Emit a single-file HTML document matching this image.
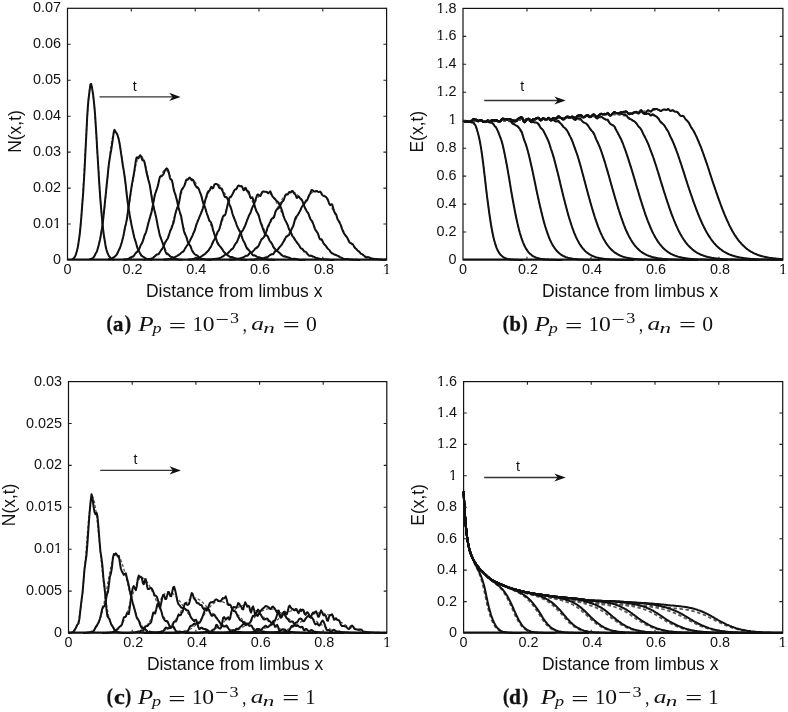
<!DOCTYPE html>
<html><head><meta charset="utf-8"><title>Figure</title>
<style>html,body{margin:0;padding:0;background:#fff;width:788px;height:712px;overflow:hidden}
svg{display:block}</style></head>
<body><svg width="788" height="712" viewBox="0 0 788 712">
<rect width="788" height="712" fill="#fff"/>
<g><polyline points="72,259.2 73.3,258.4 74.7,256.8 76,254.1 77.3,249.5 78.6,242.3 80,231.7 81.3,217.2 82.6,198.5 83.9,176.3 85.2,152 86.6,127.8 87.9,106.7 89.2,91.4 90.5,84.2 91.8,85.7 93.2,94.2 94.5,108.7 95.8,127.6 97.1,148.7 98.5,170.3 99.8,190.6 101.1,208.5 102.4,223.3 103.7,234.9 105.1,243.5 106.4,249.6 107.7,253.7 109,256.3 110.4,257.9 111.7,258.9 113,259.4 114.3,259.7" stroke="#5a5a5a" stroke-width="1.3" fill="none" stroke-dasharray="3 2"/>
<polyline points="89.3,259.4 90.6,259 92,258.3 93.3,257.3 94.6,255.7 95.9,253.5 97.3,250.2 98.6,245.8 99.9,240 101.2,232.6 102.6,223.5 103.9,212.9 105.2,200.8 106.5,187.8 107.9,174.4 109.2,161.5 110.5,150 111.8,140.6 113.2,134.1 114.5,131.1 115.8,131.4 117.1,133.9 118.5,138.3 119.8,144.5 121.1,152.1 122.4,160.9 123.8,170.4 125.1,180.3 126.4,190.3 127.8,200 129.1,209.2 130.4,217.6 131.7,225.3 133.1,232 134.4,237.8 135.7,242.6 137,246.6 138.4,249.9 139.7,252.5 141,254.5 142.3,256 143.7,257.2 145,258 146.3,258.6 147.6,259.1 149,259.4 150.3,259.6 151.6,259.7" stroke="#5a5a5a" stroke-width="1.3" fill="none" stroke-dasharray="3 2"/>
<polyline points="107.9,259.5 109.2,259.2 110.6,258.9 111.9,258.4 113.2,257.6 114.6,256.6 115.9,255.2 117.2,253.3 118.5,250.9 119.9,247.9 121.2,244.1 122.5,239.5 123.9,234 125.2,227.7 126.5,220.6 127.8,212.8 129.2,204.5 130.5,196 131.8,187.4 133.2,179.2 134.5,171.8 135.8,165.3 137.1,160.3 138.5,157 139.8,155.4 141.1,155.7 142.5,157.3 143.8,160.2 145.1,164.2 146.4,169.2 147.8,175.1 149.1,181.6 150.4,188.6 151.8,195.7 153.1,202.9 154.4,210 155.7,216.7 157.1,223 158.4,228.8 159.7,234 161.1,238.6 162.4,242.6 163.7,246.1 165,249 166.4,251.4 167.7,253.4 169,254.9 170.4,256.2 171.7,257.2 173,257.9 174.3,258.5 175.7,258.9 177,259.2 178.3,259.4 179.7,259.6 181,259.7 182.3,259.8" stroke="#5a5a5a" stroke-width="1.3" fill="none" stroke-dasharray="3 2"/>
<polyline points="123.2,259.6 124.6,259.4 125.9,259.2 127.2,258.9 128.6,258.5 129.9,258.1 131.2,257.4 132.6,256.6 133.9,255.7 135.2,254.4 136.5,252.9 137.9,251.1 139.2,248.9 140.5,246.4 141.9,243.4 143.2,240.1 144.5,236.2 145.9,232 147.2,227.3 148.5,222.3 149.9,217 151.2,211.5 152.5,205.8 153.9,200.2 155.2,194.6 156.5,189.3 157.9,184.4 159.2,180.1 160.5,176.4 161.9,173.5 163.2,171.4 164.5,170.3 165.9,170.1 167.2,171 168.5,172.8 169.8,175.4 171.2,178.9 172.5,183.1 173.8,187.9 175.2,193.1 176.5,198.6 177.8,204.3 179.2,210 180.5,215.6 181.8,221 183.2,226.2 184.5,230.9 185.8,235.3 187.2,239.2 188.5,242.7 189.8,245.8 191.2,248.4 192.5,250.7 193.8,252.6 195.2,254.2 196.5,255.4 197.8,256.5 199.2,257.3 200.5,258 201.8,258.5 203.1,258.9 204.5,259.2 205.8,259.4 207.1,259.5 208.5,259.7 209.8,259.8 211.1,259.8" stroke="#5a5a5a" stroke-width="1.3" fill="none" stroke-dasharray="3 2"/>
<polyline points="143.9,259.6 145.2,259.5 146.6,259.3 147.9,259.1 149.2,258.8 150.6,258.4 151.9,258 153.2,257.4 154.6,256.7 155.9,255.9 157.2,254.8 158.6,253.6 159.9,252.1 161.2,250.3 162.5,248.3 163.9,246 165.2,243.4 166.5,240.4 167.9,237.1 169.2,233.5 170.5,229.6 171.9,225.4 173.2,221 174.5,216.5 175.9,211.8 177.2,207.1 178.5,202.5 179.9,198 181.2,193.8 182.5,189.9 183.9,186.5 185.2,183.6 186.5,181.3 187.8,179.6 189.2,178.6 190.5,178.4 191.8,178.7 193.2,179.7 194.5,181.2 195.8,183.2 197.2,185.7 198.5,188.7 199.8,192 201.2,195.6 202.5,199.4 203.8,203.4 205.2,207.6 206.5,211.7 207.8,215.9 209.1,220 210.5,223.9 211.8,227.7 213.1,231.3 214.5,234.7 215.8,237.9 217.1,240.8 218.5,243.4 219.8,245.7 221.1,247.9 222.5,249.7 223.8,251.4 225.1,252.8 226.5,254 227.8,255.1 229.1,256 230.5,256.8 231.8,257.4 233.1,257.9 234.4,258.3 235.8,258.7 237.1,258.9 238.4,259.2 239.8,259.4 241.1,259.5 242.4,259.6 243.8,259.7 245.1,259.8 246.4,259.8" stroke="#5a5a5a" stroke-width="1.3" fill="none" stroke-dasharray="3 2"/>
<polyline points="163.4,259.6 164.7,259.5 166.1,259.4 167.4,259.2 168.7,259 170,258.8 171.4,258.5 172.7,258.1 174,257.6 175.4,257.1 176.7,256.4 178,255.6 179.3,254.7 180.7,253.6 182,252.4 183.3,250.9 184.6,249.3 186,247.5 187.3,245.4 188.6,243.1 190,240.6 191.3,237.9 192.6,234.9 193.9,231.7 195.3,228.4 196.6,224.8 197.9,221.2 199.2,217.5 200.6,213.7 201.9,209.9 203.2,206.2 204.6,202.6 205.9,199.1 207.2,195.9 208.5,193 209.9,190.4 211.2,188.2 212.5,186.5 213.9,185.2 215.2,184.4 216.5,184.1 217.8,184.3 219.2,185.1 220.5,186.3 221.8,187.9 223.1,190.1 224.5,192.6 225.8,195.4 227.1,198.6 228.5,201.9 229.8,205.5 231.1,209.2 232.4,212.9 233.8,216.7 235.1,220.4 236.4,224.1 237.8,227.6 239.1,231 240.4,234.2 241.7,237.2 243.1,240 244.4,242.5 245.7,244.9 247,247 248.4,248.9 249.7,250.5 251,252 252.4,253.3 253.7,254.4 255,255.4 256.3,256.2 257.7,256.9 259,257.5 260.3,258 261.7,258.4 263,258.7 264.3,259 265.6,259.2 267,259.3 268.3,259.5 269.6,259.6 270.9,259.7 272.3,259.7 273.6,259.8 274.9,259.8" stroke="#5a5a5a" stroke-width="1.3" fill="none" stroke-dasharray="3 2"/>
<polyline points="188.2,259.6 189.6,259.5 190.9,259.4 192.2,259.2 193.6,259 194.9,258.8 196.2,258.4 197.6,258.1 198.9,257.6 200.2,257 201.5,256.3 202.9,255.5 204.2,254.5 205.5,253.3 206.9,252 208.2,250.5 209.5,248.7 210.9,246.8 212.2,244.6 213.5,242.2 214.9,239.5 216.2,236.6 217.5,233.5 218.9,230.2 220.2,226.7 221.5,223.1 222.9,219.3 224.2,215.6 225.5,211.8 226.9,208 228.2,204.4 229.5,201 230.9,197.7 232.2,194.8 233.5,192.3 234.9,190.1 236.2,188.4 237.5,187.2 238.9,186.5 240.2,186.3 241.5,186.5 242.9,187.2 244.2,188.2 245.5,189.6 246.9,191.3 248.2,193.4 249.5,195.7 250.9,198.3 252.2,201.1 253.5,204.1 254.9,207.2 256.2,210.4 257.5,213.6 258.9,216.9 260.2,220.1 261.5,223.3 262.9,226.5 264.2,229.5 265.5,232.4 266.9,235.2 268.2,237.8 269.5,240.2 270.8,242.4 272.2,244.5 273.5,246.4 274.8,248.2 276.2,249.7 277.5,251.2 278.8,252.4 280.2,253.5 281.5,254.5 282.8,255.3 284.2,256.1 285.5,256.7 286.8,257.3 288.2,257.7 289.5,258.1 290.8,258.5 292.2,258.7 293.5,259 294.8,259.2 296.2,259.3 297.5,259.5 298.8,259.6 300.2,259.6 301.5,259.7 302.8,259.8 304.2,259.8 305.5,259.8" stroke="#5a5a5a" stroke-width="1.3" fill="none" stroke-dasharray="3 2"/>
<polyline points="207.6,259.7 209,259.6 210.3,259.5 211.6,259.3 213,259.2 214.3,259 215.6,258.7 217,258.5 218.3,258.1 219.6,257.7 221,257.2 222.3,256.6 223.6,256 225,255.2 226.3,254.3 227.6,253.3 229,252.1 230.3,250.8 231.6,249.3 233,247.6 234.3,245.8 235.6,243.8 237,241.6 238.3,239.3 239.6,236.8 241,234.1 242.3,231.3 243.6,228.3 244.9,225.3 246.3,222.2 247.6,219 248.9,215.9 250.3,212.7 251.6,209.7 252.9,206.8 254.3,204 255.6,201.4 256.9,199 258.3,197 259.6,195.2 260.9,193.7 262.3,192.7 263.6,192 264.9,191.7 266.3,191.7 267.6,192.2 268.9,192.9 270.3,193.9 271.6,195.3 272.9,196.9 274.3,198.8 275.6,200.9 276.9,203.2 278.3,205.7 279.6,208.3 280.9,211 282.3,213.8 283.6,216.7 284.9,219.6 286.3,222.4 287.6,225.3 288.9,228.1 290.3,230.7 291.6,233.3 292.9,235.8 294.3,238.2 295.6,240.4 296.9,242.5 298.3,244.4 299.6,246.2 300.9,247.8 302.3,249.3 303.6,250.7 304.9,251.9 306.3,253 307.6,254 308.9,254.8 310.3,255.6 311.6,256.3 312.9,256.8 314.3,257.3 315.6,257.8 316.9,258.1 318.3,258.5 319.6,258.7 320.9,258.9 322.3,259.1 323.6,259.3 324.9,259.4 326.3,259.5 327.6,259.6 328.9,259.7 330.3,259.7 331.6,259.8 332.9,259.8 334.2,259.8" stroke="#5a5a5a" stroke-width="1.3" fill="none" stroke-dasharray="3 2"/>
<polyline points="228.8,259.7 230.1,259.6 231.4,259.5 232.8,259.4 234.1,259.2 235.4,259.1 236.8,258.9 238.1,258.6 239.4,258.3 240.8,258 242.1,257.6 243.4,257.2 244.8,256.6 246.1,256 247.4,255.3 248.8,254.5 250.1,253.6 251.4,252.5 252.8,251.4 254.1,250.1 255.4,248.6 256.8,247 258.1,245.3 259.4,243.4 260.8,241.4 262.1,239.2 263.4,236.9 264.8,234.5 266.1,231.9 267.4,229.2 268.8,226.4 270.1,223.6 271.4,220.7 272.8,217.8 274.1,214.9 275.4,212.1 276.7,209.3 278.1,206.6 279.4,204 280.7,201.6 282.1,199.4 283.4,197.4 284.7,195.7 286.1,194.3 287.4,193.2 288.7,192.3 290.1,191.8 291.4,191.7 292.7,191.8 294.1,192.3 295.4,193.1 296.7,194.3 298.1,195.7 299.4,197.4 300.7,199.4 302.1,201.6 303.4,203.9 304.7,206.5 306.1,209.1 307.4,211.9 308.7,214.8 310.1,217.7 311.4,220.5 312.7,223.4 314.1,226.3 315.4,229 316.7,231.7 318.1,234.3 319.4,236.7 320.7,239 322.1,241.2 323.4,243.2 324.7,245.1 326.1,246.9 327.4,248.4 328.7,249.9 330,251.2 331.4,252.4 332.7,253.4 334,254.4 335.4,255.2 336.7,255.9 338,256.5 339.4,257.1 340.7,257.5 342,257.9 343.4,258.3 344.7,258.6 346,258.8 347.4,259 348.7,259.2 350,259.3 351.4,259.5 352.7,259.6 354,259.6 355.4,259.7 356.7,259.8 358,259.8 359.4,259.8" stroke="#5a5a5a" stroke-width="1.3" fill="none" stroke-dasharray="3 2"/>
<polyline points="250.4,259.7 251.8,259.6 253.1,259.5 254.4,259.4 255.8,259.3 257.1,259.1 258.4,258.9 259.7,258.7 261.1,258.5 262.4,258.2 263.7,257.8 265.1,257.4 266.4,257 267.7,256.4 269,255.8 270.4,255.1 271.7,254.3 273,253.4 274.4,252.5 275.7,251.3 277,250.1 278.3,248.8 279.7,247.3 281,245.7 282.3,243.9 283.7,242.1 285,240 286.3,237.9 287.6,235.6 289,233.2 290.3,230.7 291.6,228.2 293,225.5 294.3,222.8 295.6,220 297,217.3 298.3,214.5 299.6,211.8 300.9,209.1 302.3,206.5 303.6,204 304.9,201.7 306.3,199.5 307.6,197.6 308.9,195.8 310.2,194.3 311.6,193.1 312.9,192.1 314.2,191.4 315.6,191 316.9,190.9 318.2,191.2 319.5,191.7 320.9,192.4 322.2,193.5 323.5,194.8 324.9,196.4 326.2,198.2 327.5,200.1 328.8,202.3 330.2,204.6 331.5,207.1 332.8,209.7 334.2,212.3 335.5,215 336.8,217.7 338.1,220.4 339.5,223.1 340.8,225.8 342.1,228.4 343.5,231 344.8,233.4 346.1,235.7 347.4,238 348.8,240.1 350.1,242 351.4,243.9 352.8,245.6 354.1,247.2 355.4,248.7 356.8,250 358.1,251.2 359.4,252.3 360.7,253.3 362.1,254.2 363.4,255 364.7,255.7 366.1,256.3 367.4,256.8 368.7,257.3 370,257.7 371.4,258.1 372.7,258.4 374,258.6 375.4,258.9 376.7,259 378,259.2 379.3,259.3 380.7,259.5 382,259.5 383.3,259.6 384.7,259.7 386,259.7" stroke="#5a5a5a" stroke-width="1.3" fill="none" stroke-dasharray="3 2"/>
<polyline points="72,259.2 72.7,258.9 73.3,258.5 74,258 74.7,257.2 75.3,255.9 76,254.1 76.6,251.9 77.3,249.4 78,246.3 78.6,242.2 79.3,237.3 80,231.8 80.6,225.4 81.3,217.6 81.9,209.1 82.6,200.3 83.3,191 83.9,180.7 84.6,169.3 85.2,156.5 85.9,142.9 86.6,129.3 87.2,116.7 87.9,106.4 88.5,99.4 89.2,93.9 89.9,88.3 90.5,84.3 91.2,84 91.8,86.7 92.5,90.8 93.2,95.4 93.8,100.8 94.5,107.6 95.2,116.4 95.8,126.2 96.5,136.7 97.1,148 97.8,159.3 98.5,170.4 99.1,181.2 99.8,191.2 100.4,199.9 101.1,208.2 101.8,216.2 102.4,223.1 103.1,229.1 103.7,234.1 104.4,238.5 105.1,242.9 105.7,246.8 106.4,249.6 107.1,251.7 107.7,253.5 108.4,254.9 109,256 109.7,256.9 110.4,257.7 111,258.4 111.7,258.9 112.3,259.3 113,259.5 113.7,259.7 114.3,259.8" stroke="#111" stroke-width="2.0" fill="none" stroke-linejoin="round"/>
<polyline points="89.3,259.3 90,259.1 90.6,258.9 91.3,258.8 92,258.6 92.6,258.2 93.3,257.7 93.9,256.9 94.6,255.7 95.3,254.3 95.9,253.1 96.6,251.9 97.3,250.3 97.9,248 98.6,245.4 99.2,242.9 99.9,240 100.6,236.6 101.2,232.9 101.9,229 102.6,224.6 103.2,219.1 103.9,212.7 104.6,205.9 105.2,199.4 105.9,193.2 106.5,186.8 107.2,180.1 107.9,173.4 108.5,167.2 109.2,162 109.9,157.4 110.5,153.5 111.2,150.1 111.8,146.3 112.5,141.4 113.2,136.3 113.8,131.9 114.5,129.9 115.2,131 115.8,132.4 116.5,133.1 117.1,134.2 117.8,136 118.5,138.3 119.1,140.9 119.8,144.7 120.5,149.3 121.1,153.7 121.8,158.1 122.4,162.6 123.1,166.9 123.8,170.9 124.4,175 125.1,179.9 125.8,185.6 126.4,191.6 127.1,197.6 127.8,203.1 128.4,207.5 129.1,211.5 129.7,215.4 130.4,219.2 131.1,222.7 131.7,225.9 132.4,228.9 133.1,232 133.7,235.1 134.4,237.7 135,239.6 135.7,241.7 136.4,244.3 137,246.7 137.7,248.7 138.4,250.1 139,251.3 139.7,252.6 140.3,253.9 141,255 141.7,255.8 142.3,256.3 143,256.6 143.7,257 144.3,257.4 145,258 145.6,258.5 146.3,258.8 147,259 147.6,259.2 148.3,259.4 149,259.5 149.6,259.6 150.3,259.6 151,259.7 151.6,259.7 152.3,259.8" stroke="#111" stroke-width="2.0" fill="none" stroke-linejoin="round"/>
<polyline points="107.9,259.4 108.6,259.3 109.2,259.3 109.9,259.3 110.6,259.2 111.2,258.9 111.9,258.5 112.6,258 113.2,257.7 113.9,257.2 114.6,256.7 115.2,256.2 115.9,255.6 116.5,254.9 117.2,253.7 117.9,252.3 118.5,250.8 119.2,249.5 119.9,248 120.5,246.4 121.2,244.3 121.9,242 122.5,239.5 123.2,236.7 123.9,233.4 124.5,229.8 125.2,226.6 125.9,223.9 126.5,221.1 127.2,217.3 127.8,212.3 128.5,207.4 129.2,203 129.8,198.4 130.5,193.7 131.2,189.1 131.8,185.1 132.5,181.4 133.2,177.8 133.8,174.1 134.5,169.9 135.2,165.2 135.8,160.8 136.5,157.8 137.1,157.2 137.8,158.3 138.5,158.3 139.1,156.9 139.8,155.7 140.5,155.4 141.1,156.5 141.8,158.8 142.5,160.2 143.1,160.1 143.8,160.4 144.5,162.1 145.1,165 145.8,168.6 146.4,171.9 147.1,174.8 147.8,177.8 148.4,180.3 149.1,182.4 149.8,185.1 150.4,188.9 151.1,193.5 151.8,197.8 152.4,201.5 153.1,204.6 153.8,207.5 154.4,210.3 155.1,212.8 155.7,215.4 156.4,218.6 157.1,222.3 157.7,225.7 158.4,228.9 159.1,232.1 159.7,235 160.4,237 161.1,238.7 161.7,240.5 162.4,242.4 163.1,244.2 163.7,246 164.4,248.1 165,250.3 165.7,252.1 166.4,253.5 167,254.2 167.7,254.2 168.4,254.4 169,255.1 169.7,255.9 170.4,256.4 171,256.7 171.7,257 172.4,257.5 173,257.8 173.7,258.1 174.3,258.3 175,258.6 175.7,258.9 176.3,259.1 177,259.3 177.7,259.3 178.3,259.5 179,259.6 179.7,259.7 180.3,259.7 181,259.7 181.7,259.7 182.3,259.7" stroke="#111" stroke-width="2.0" fill="none" stroke-linejoin="round"/>
<polyline points="123.2,259.6 123.9,259.5 124.6,259.5 125.2,259.5 125.9,259.4 126.6,259.2 127.2,259 127.9,258.9 128.6,258.7 129.2,258.3 129.9,257.8 130.6,257.5 131.2,257.1 131.9,256.8 132.6,256.7 133.2,256.5 133.9,255.8 134.5,254.8 135.2,253.7 135.9,252.9 136.5,252.3 137.2,251.7 137.9,251 138.5,250.1 139.2,248.9 139.9,247.2 140.5,245.6 141.2,244.3 141.9,243.3 142.5,242 143.2,239.9 143.9,237.4 144.5,235.5 145.2,234 145.9,232.6 146.5,230.5 147.2,227.8 147.9,224.9 148.5,222.5 149.2,220.2 149.9,217.9 150.5,215.7 151.2,213.4 151.9,210.5 152.5,207.1 153.2,203.5 153.9,200 154.5,196.6 155.2,193.7 155.9,191.9 156.5,190.2 157.2,188 157.9,185.7 158.5,183 159.2,179.6 159.9,177 160.5,176.3 161.2,176.4 161.9,176 162.5,175.4 163.2,174.6 163.9,173.3 164.5,171.5 165.2,170.1 165.9,168.9 166.5,168.4 167.2,168.9 167.8,169.7 168.5,171.3 169.2,174.3 169.8,177.5 170.5,179.3 171.2,179.5 171.8,180.1 172.5,182.7 173.2,186.7 173.8,190 174.5,192.2 175.2,194.1 175.8,196.2 176.5,198.8 177.2,201.6 177.8,204.6 178.5,207.4 179.2,209.9 179.8,212.1 180.5,214 181.2,216.4 181.8,219.8 182.5,223.8 183.2,227.5 183.8,230.5 184.5,232.9 185.2,234.5 185.8,235.6 186.5,237.3 187.2,239.8 187.8,242.1 188.5,243.7 189.2,244.5 189.8,245.1 190.5,246.1 191.2,248 191.8,249.9 192.5,251.4 193.2,252.3 193.8,253.1 194.5,253.9 195.2,254.5 195.8,254.9 196.5,255.1 197.2,255.4 197.8,256 198.5,256.7 199.2,257.2 199.8,257.7 200.5,258.2 201.2,258.6 201.8,258.9 202.5,259 203.1,259 203.8,259 204.5,259.1 205.1,259.3 205.8,259.5 206.5,259.6 207.1,259.6 207.8,259.6 208.5,259.6 209.1,259.7 209.8,259.8 210.5,259.9 211.1,259.9" stroke="#111" stroke-width="2.0" fill="none" stroke-linejoin="round"/>
<polyline points="143.9,259.6 144.6,259.6 145.2,259.5 145.9,259.3 146.6,259.1 147.2,259 147.9,259 148.6,259 149.2,258.9 149.9,258.9 150.6,258.9 151.2,258.7 151.9,258.5 152.6,258.2 153.2,257.7 153.9,257 154.6,256.5 155.2,255.8 155.9,255.1 156.6,254.6 157.2,254.5 157.9,254.5 158.6,254.1 159.2,253.3 159.9,252.1 160.6,251 161.2,250 161.9,249.1 162.5,248.2 163.2,247 163.9,245.4 164.5,243.8 165.2,242.4 165.9,241.3 166.5,240.3 167.2,239.3 167.9,238.2 168.5,236.5 169.2,234.2 169.9,232 170.5,230.4 171.2,229 171.9,227.3 172.5,225.4 173.2,223.7 173.9,221.4 174.5,218 175.2,214.4 175.9,211.7 176.5,209.8 177.2,208 177.9,206.6 178.5,205 179.2,201.9 179.9,197.8 180.5,194 181.2,191.1 181.9,189.4 182.5,188.5 183.2,187.5 183.9,186.5 184.5,185.4 185.2,183.4 185.8,181 186.5,179.6 187.2,179.6 187.8,179.6 188.5,178.7 189.2,177.8 189.8,177.6 190.5,178.4 191.2,179.6 191.8,180.3 192.5,180 193.2,180 193.8,181.3 194.5,183.6 195.2,185.1 195.8,186 196.5,187.1 197.2,187.8 197.8,187.8 198.5,188.4 199.2,190 199.8,191.8 200.5,193.4 201.2,195.3 201.8,197.8 202.5,200.7 203.2,203.1 203.8,204.8 204.5,206.2 205.2,207.9 205.8,210.1 206.5,212.5 207.2,214.5 207.8,216.2 208.5,218.1 209.1,220 209.8,221.3 210.5,221.8 211.1,222.7 211.8,224.8 212.5,227.6 213.1,230 213.8,232.2 214.5,234.5 215.1,236.6 215.8,238.2 216.5,239.9 217.1,242 217.8,243.7 218.5,244.7 219.1,245.4 219.8,246.1 220.5,247 221.1,247.7 221.8,248.6 222.5,249.6 223.1,250.7 223.8,251.8 224.5,252.6 225.1,253.1 225.8,253.5 226.5,254.1 227.1,254.8 227.8,255.4 228.5,255.8 229.1,256.3 229.8,256.8 230.5,257.1 231.1,257 231.8,256.9 232.4,257.1 233.1,257.4 233.8,257.7 234.4,257.9 235.1,258.3 235.8,258.5 236.4,258.6 237.1,258.7 237.8,258.9 238.4,258.9 239.1,258.9 239.8,259 240.4,259.2 241.1,259.5 241.8,259.6 242.4,259.6 243.1,259.6 243.8,259.6 244.4,259.7 245.1,259.8 245.8,259.9 246.4,259.9 247.1,259.9" stroke="#111" stroke-width="2.0" fill="none" stroke-linejoin="round"/>
<polyline points="163.4,259.6 164.1,259.6 164.7,259.6 165.4,259.6 166.1,259.4 166.7,259.3 167.4,259.3 168,259.2 168.7,259.1 169.4,259 170,258.9 170.7,258.6 171.4,258.1 172,257.6 172.7,257.4 173.4,257.4 174,257.3 174.7,257.1 175.4,256.8 176,256.5 176.7,256.2 177.3,255.8 178,255.2 178.7,254.8 179.3,254.4 180,254.1 180.7,253.5 181.3,252.7 182,252.2 182.7,251.8 183.3,251.5 184,250.7 184.6,249.4 185.3,248.1 186,247 186.6,246 187.3,245.1 188,244.4 188.6,243.4 189.3,242 190,240.6 190.6,239.3 191.3,238 191.9,236.8 192.6,235.3 193.3,233.5 193.9,232.2 194.6,230.8 195.3,228.6 195.9,226 196.6,223.8 197.3,222.3 197.9,220.7 198.6,219.1 199.2,217.6 199.9,215.9 200.6,214.4 201.2,212.9 201.9,211.1 202.6,209.1 203.2,207.2 203.9,205.4 204.6,203.1 205.2,200.4 205.9,198 206.6,195.7 207.2,193.7 207.9,192 208.5,191.1 209.2,190.8 209.9,190 210.5,188.3 211.2,186.8 211.9,187.1 212.5,188.4 213.2,188.1 213.9,186.2 214.5,184.5 215.2,184 215.8,184.1 216.5,184.1 217.2,184.3 217.8,184.9 218.5,186.3 219.2,187.7 219.8,188.2 220.5,188.1 221.2,188.4 221.8,189.5 222.5,191 223.1,192.5 223.8,194.4 224.5,196.3 225.1,197.2 225.8,197.1 226.5,197 227.1,197.8 227.8,199.4 228.5,201.3 229.1,203.3 229.8,205.1 230.5,206.7 231.1,208.6 231.8,211.1 232.4,213.5 233.1,215.6 233.8,217.4 234.4,219 235.1,220.5 235.8,222.3 236.4,224.3 237.1,226.1 237.8,227.6 238.4,228.9 239.1,230 239.7,230.9 240.4,232.1 241.1,233.8 241.7,236.1 242.4,238.4 243.1,240.1 243.7,241.3 244.4,242.5 245.1,244 245.7,245.7 246.4,247.3 247,248.5 247.7,249.2 248.4,249.8 249,250.4 249.7,251.1 250.4,251.8 251,252.7 251.7,253.7 252.4,254.7 253,255.3 253.7,255.5 254.3,255.5 255,255.5 255.7,255.9 256.3,256.4 257,256.8 257.7,257.1 258.3,257.2 259,257.3 259.7,257.4 260.3,257.6 261,257.9 261.7,258.3 262.3,258.6 263,258.7 263.6,258.7 264.3,258.8 265,258.9 265.6,259.1 266.3,259.3 267,259.4 267.6,259.4 268.3,259.5 269,259.7 269.6,259.7 270.3,259.7 270.9,259.6 271.6,259.6 272.3,259.6 272.9,259.8 273.6,259.9 274.3,259.8 274.9,259.8" stroke="#111" stroke-width="2.0" fill="none" stroke-linejoin="round"/>
<polyline points="188.2,259.5 188.9,259.5 189.6,259.6 190.2,259.5 190.9,259.4 191.6,259.3 192.2,259.2 192.9,259.1 193.6,259 194.2,258.7 194.9,258.5 195.6,258.3 196.2,258.1 196.9,258 197.6,258.2 198.2,258.3 198.9,258.1 199.6,257.8 200.2,257.3 200.9,256.7 201.5,256.2 202.2,255.9 202.9,255.4 203.5,254.9 204.2,254.5 204.9,254.2 205.5,253.5 206.2,252.7 206.9,252 207.5,251.4 208.2,250.7 208.9,250 209.5,248.8 210.2,247.7 210.9,246.6 211.5,245.3 212.2,243.6 212.9,242 213.5,240.9 214.2,239.9 214.9,238.8 215.5,237.4 216.2,235.5 216.9,233.6 217.5,232.1 218.2,231.2 218.9,230.2 219.5,228.5 220.2,226.1 220.9,223.4 221.5,221 222.2,218.9 222.9,216.9 223.5,215.7 224.2,215.4 224.9,215.3 225.5,214.1 226.2,211.3 226.9,208.1 227.5,205.1 228.2,202.4 228.9,199.7 229.5,197.7 230.2,196.8 230.9,196.5 231.5,195.8 232.2,194.7 232.9,193.4 233.5,192.1 234.2,190.5 234.9,189.6 235.5,189.6 236.2,189.3 236.9,188.2 237.5,186.7 238.2,185.6 238.9,185.4 239.5,185.9 240.2,186.3 240.9,186.1 241.5,186.1 242.2,186.8 242.9,188.6 243.5,190.2 244.2,190 244.9,188.4 245.5,187.7 246.2,188.8 246.9,190.6 247.5,191.4 248.2,191.3 248.9,191.9 249.5,194.4 250.2,197.1 250.9,198.2 251.5,197.6 252.2,197.2 252.9,198.7 253.5,201.2 254.2,204.1 254.9,206.6 255.5,208.7 256.2,210.7 256.9,212.1 257.5,213 258.2,214.1 258.9,215.9 259.5,218.4 260.2,221.1 260.9,223.2 261.5,224.9 262.2,226.7 262.9,228.7 263.5,230.4 264.2,232.1 264.9,233.8 265.5,235.1 266.2,235.6 266.9,235.6 267.5,235.9 268.2,237.2 268.8,239 269.5,240.5 270.2,241.4 270.8,242.2 271.5,243.1 272.2,244.2 272.8,245.7 273.5,247.3 274.2,248.2 274.8,248.7 275.5,249.5 276.2,250.4 276.8,251 277.5,251.3 278.2,251.7 278.8,252.3 279.5,252.9 280.2,253.7 280.8,254.4 281.5,254.9 282.2,255.3 282.8,255.9 283.5,256.3 284.2,256.4 284.8,256.3 285.5,256.5 286.2,256.8 286.8,257.1 287.5,257.2 288.2,257.4 288.8,257.5 289.5,257.8 290.2,258.2 290.8,258.6 291.5,258.8 292.2,259 292.8,258.9 293.5,258.8 294.2,258.7 294.8,258.8 295.5,259 296.2,259 296.8,259.1 297.5,259.2 298.2,259.5 298.8,259.7 299.5,259.8 300.2,259.9 300.8,259.9 301.5,259.9 302.2,259.8 302.8,259.8 303.5,259.7 304.2,259.7 304.8,259.7 305.5,259.8" stroke="#111" stroke-width="2.0" fill="none" stroke-linejoin="round"/>
<polyline points="207.6,259.7 208.3,259.7 209,259.7 209.6,259.6 210.3,259.5 211,259.4 211.6,259.3 212.3,259.3 213,259.2 213.6,259.1 214.3,259 215,258.9 215.6,258.7 216.3,258.7 217,258.8 217.6,258.8 218.3,258.7 219,258.5 219.6,258.2 220.3,257.9 221,257.5 221.6,257.1 222.3,256.7 223,256.4 223.6,255.9 224.3,255.3 225,254.8 225.6,254.5 226.3,254.4 227,254.1 227.6,253.5 228.3,252.7 229,252 229.6,251.4 230.3,250.7 231,249.9 231.6,249.3 232.3,248.9 233,248.3 233.6,247.3 234.3,245.8 235,244.3 235.6,243.6 236.3,243 237,242 237.6,240.4 238.3,238.5 239,236.6 239.6,234.8 240.3,233.4 241,232.3 241.6,231.5 242.3,230.9 243,230.2 243.6,228.9 244.3,227.5 244.9,226.2 245.6,224.7 246.3,222.7 246.9,220.7 247.6,219.1 248.3,217.4 248.9,215.7 249.6,214.4 250.3,213.3 250.9,211.6 251.6,209.4 252.3,207.5 252.9,206.4 253.6,205.3 254.3,203.6 254.9,201.3 255.6,199.2 256.3,197.4 256.9,195.6 257.6,194.5 258.3,194.4 258.9,194.9 259.6,195.7 260.3,196 260.9,195 261.6,193.3 262.3,192 262.9,191.4 263.6,191.5 264.3,191.7 264.9,191.7 265.6,191.7 266.3,191.8 266.9,192.2 267.6,192.9 268.3,193.3 268.9,192.8 269.6,191.8 270.3,191.4 270.9,192.5 271.6,194.4 272.3,196 272.9,196.9 273.6,197.6 274.3,198.2 274.9,198.8 275.6,199.7 276.3,200.7 276.9,201.1 277.6,201.5 278.3,202.4 278.9,203.7 279.6,205 280.3,206.2 280.9,207.7 281.6,209.5 282.3,211.4 282.9,213.6 283.6,216.1 284.3,218.1 284.9,219.6 285.6,220.9 286.3,222.2 286.9,223.4 287.6,224.9 288.3,227 288.9,229 289.6,230.1 290.3,231.1 290.9,232.6 291.6,234.4 292.3,235.8 292.9,236.6 293.6,237.4 294.3,238.5 294.9,239.7 295.6,240.6 296.3,241.4 296.9,242.4 297.6,243.5 298.3,244.2 298.9,245 299.6,246.2 300.3,247.5 300.9,248.3 301.6,248.7 302.3,248.8 302.9,249.5 303.6,250.7 304.3,251.5 304.9,251.6 305.6,251.7 306.3,252.2 306.9,253.1 307.6,254.1 308.3,255 308.9,255.6 309.6,255.8 310.3,255.7 310.9,255.6 311.6,255.8 312.3,256.2 312.9,256.6 313.6,256.7 314.3,256.9 314.9,257.3 315.6,257.7 316.3,257.9 316.9,258 317.6,258.3 318.3,258.5 318.9,258.6 319.6,258.8 320.3,259 320.9,259.1 321.6,259.2 322.3,259.1 322.9,259.1 323.6,259.1 324.3,259.3 324.9,259.4 325.6,259.4 326.3,259.4 326.9,259.4 327.6,259.5 328.3,259.6 328.9,259.7 329.6,259.8 330.3,259.9 330.9,259.9 331.6,259.9 332.2,259.9 332.9,259.9 333.6,259.9 334.2,259.9" stroke="#111" stroke-width="2.0" fill="none" stroke-linejoin="round"/>
<polyline points="228.8,259.6 229.4,259.5 230.1,259.4 230.8,259.5 231.4,259.6 232.1,259.6 232.8,259.6 233.4,259.5 234.1,259.4 234.8,259.3 235.4,259.1 236.1,259 236.8,258.9 237.4,258.8 238.1,258.8 238.8,258.8 239.4,258.7 240.1,258.5 240.8,258.3 241.4,258.1 242.1,257.7 242.8,257.4 243.4,257.2 244.1,256.9 244.8,256.5 245.4,256 246.1,255.7 246.8,255.7 247.4,255.7 248.1,255.2 248.8,254.1 249.4,253.3 250.1,252.8 250.8,252.5 251.4,252.4 252.1,252 252.8,251.5 253.4,250.9 254.1,250.1 254.8,249.2 255.4,248.5 256.1,248.3 256.8,247.9 257.4,247.2 258.1,246.5 258.8,245.5 259.4,244 260.1,242.3 260.8,240.8 261.4,239.4 262.1,238.7 262.8,238.4 263.4,237.7 264.1,236.8 264.8,235.5 265.4,233.9 266.1,232.2 266.8,230.2 267.4,227.9 268.1,226.1 268.8,224.8 269.4,223.6 270.1,222.1 270.8,220.5 271.4,219.2 272.1,218.5 272.8,218.3 273.4,218 274.1,216.9 274.8,214.6 275.4,212 276.1,210.3 276.7,209.6 277.4,209.2 278.1,208.6 278.7,208 279.4,207.1 280.1,205.9 280.7,204.6 281.4,203 282.1,201.8 282.7,201.3 283.4,200.7 284.1,199.1 284.7,197 285.4,195.4 286.1,194.4 286.7,194.2 287.4,194.6 288.1,194.1 288.7,192.7 289.4,192.1 290.1,192.6 290.7,192.6 291.4,191.7 292.1,190.8 292.7,191.1 293.4,192.3 294.1,193.4 294.7,193.9 295.4,194.5 296.1,196.3 296.7,197.9 297.4,197.7 298.1,196.7 298.7,196.4 299.4,197.3 300.1,198.3 300.7,198.7 301.4,199.3 302.1,200.4 302.7,201.9 303.4,203.7 304.1,205.6 304.7,207.3 305.4,208.9 306.1,210.1 306.7,211.2 307.4,212.2 308.1,213 308.7,214.3 309.4,216.4 310.1,218.4 310.7,219.6 311.4,220.3 312.1,221.2 312.7,222.5 313.4,224.3 314.1,226.4 314.7,228.4 315.4,229.8 316.1,230.7 316.7,231.6 317.4,232.6 318.1,234 318.7,236.1 319.4,238.2 320.1,239.3 320.7,239.5 321.4,239.3 322.1,239.9 322.7,241.4 323.4,243 324.1,244 324.7,244.7 325.4,245.3 326.1,246.2 326.7,247.2 327.4,248.1 328.1,248.9 328.7,249.5 329.4,250 330,251 330.7,252.1 331.4,252.9 332,253.3 332.7,253.5 333.4,253.9 334,254.3 334.7,254.6 335.4,254.8 336,255 336.7,255.3 337.4,255.6 338,255.9 338.7,256.2 339.4,256.6 340,257 340.7,257.4 341.4,257.7 342,258 342.7,258.4 343.4,258.7 344,258.9 344.7,259 345.4,258.9 346,258.9 346.7,259 347.4,259 348,259.1 348.7,259.3 349.4,259.5 350,259.6 350.7,259.6 351.4,259.6 352,259.6 352.7,259.7 353.4,259.8 354,259.8 354.7,259.7 355.4,259.7 356,259.6 356.7,259.7 357.4,259.8 358,259.9 358.7,259.9 359.4,259.9 360,259.9" stroke="#111" stroke-width="2.0" fill="none" stroke-linejoin="round"/>
<polyline points="250.4,259.6 251.1,259.6 251.8,259.7 252.4,259.9 253.1,259.9 253.8,259.7 254.4,259.5 255.1,259.3 255.8,259.3 256.4,259.3 257.1,259.2 257.7,259.2 258.4,259 259.1,258.7 259.7,258.4 260.4,258.3 261.1,258.5 261.7,258.6 262.4,258.6 263.1,258.5 263.7,258.3 264.4,257.9 265.1,257.5 265.7,257.4 266.4,257.4 267.1,257.4 267.7,257 268.4,256.4 269,255.8 269.7,255.3 270.4,254.8 271,254.5 271.7,254.3 272.4,254.3 273,254.2 273.7,253.5 274.4,252.3 275,251.3 275.7,250.7 276.4,250.4 277,250.2 277.7,249.7 278.3,248.9 279,247.8 279.7,247 280.3,246.4 281,245.6 281.7,244.6 282.3,243.7 283,242.5 283.7,241.2 284.3,240 285,238.9 285.7,237.6 286.3,236.6 287,236.1 287.6,235.8 288.3,235.5 289,235 289.6,233.7 290.3,232.1 291,230.5 291.6,229.1 292.3,227.9 293,226.6 293.6,224.6 294.3,222.1 295,219.6 295.6,217.7 296.3,216.6 297,215.9 297.6,215.1 298.3,213.9 298.9,212.8 299.6,211.8 300.3,210.5 300.9,208.9 301.6,207.4 302.3,206.3 302.9,205.6 303.6,204.7 304.3,203.8 304.9,202.9 305.6,201.7 306.3,200.8 306.9,200.5 307.6,199.3 308.2,197.5 308.9,195.8 309.6,194.5 310.2,193.4 310.9,191.6 311.6,189.9 312.2,189.9 312.9,190.6 313.6,191.2 314.2,191.4 314.9,191.4 315.6,191.4 316.2,191.1 316.9,190.9 317.5,191.5 318.2,191.9 318.9,192 319.5,191.8 320.2,191.6 320.9,192.4 321.5,193.9 322.2,194.9 322.9,195.5 323.5,195.9 324.2,196.1 324.9,196.4 325.5,196.7 326.2,197.3 326.9,197.9 327.5,198.9 328.2,200.5 328.8,202.6 329.5,204.4 330.2,205.1 330.8,204.7 331.5,204.2 332.2,204.6 332.8,206.5 333.5,209.1 334.2,211.4 334.8,212.7 335.5,213.6 336.2,214.6 336.8,216.5 337.5,218.8 338.1,220.2 338.8,221 339.5,222.1 340.1,223.6 340.8,225.2 341.5,227.1 342.1,229.1 342.8,231 343.5,232.4 344.1,233.4 344.8,234.5 345.5,235.6 346.1,236.3 346.8,237 347.4,238.1 348.1,239.7 348.8,241.2 349.4,242.3 350.1,242.9 350.8,243.2 351.4,243.5 352.1,243.8 352.8,244.3 353.4,245.2 354.1,246.4 354.8,247.5 355.4,248.2 356.1,248.8 356.8,249.5 357.4,250.3 358.1,250.8 358.7,251.2 359.4,251.8 360.1,252.7 360.7,253.6 361.4,253.9 362.1,254.1 362.7,254.5 363.4,255.2 364.1,255.7 364.7,256.4 365.4,257.1 366.1,257.5 366.7,257.4 367.4,257.2 368,257.2 368.7,257.3 369.4,257.5 370,257.9 370.7,258.3 371.4,258.5 372,258.7 372.7,258.8 373.4,258.8 374,258.9 374.7,259 375.4,259.1 376,259 376.7,259.1 377.3,259.2 378,259.4 378.7,259.3 379.3,259.3 380,259.4 380.7,259.5 381.3,259.6 382,259.7 382.7,259.7 383.3,259.7 384,259.7 384.7,259.6 385.3,259.6 386,259.7 386.6,259.7" stroke="#111" stroke-width="2.0" fill="none" stroke-linejoin="round"/></g>
<line x1="67.5" y1="259.6" x2="386.6" y2="259.6" stroke="#111" stroke-width="2"/>
<rect x="67.5" y="8.3" width="319.1" height="251.6" fill="none" stroke="#111" stroke-width="1.2"/>
<path d="M67.5 224h3.2M386.6 224h-3.2M67.5 188.1h3.2M386.6 188.1h-3.2M67.5 152.1h3.2M386.6 152.1h-3.2M67.5 116.2h3.2M386.6 116.2h-3.2M67.5 80.2h3.2M386.6 80.2h-3.2M67.5 44.3h3.2M386.6 44.3h-3.2M131.3 259.9v-3.2M131.3 8.3v3.2M195.2 259.9v-3.2M195.2 8.3v3.2M259 259.9v-3.2M259 8.3v3.2M322.8 259.9v-3.2M322.8 8.3v3.2" stroke="#222" stroke-width="1.1" fill="none"/>
<g font-family='"Liberation Sans", Arial, Helvetica, sans-serif' font-size="14.4" fill="#111"><text x="60.9" y="264" text-anchor="end">0</text><text x="60.9" y="228.06" text-anchor="end">0.01</text><text x="60.9" y="192.11" text-anchor="end">0.02</text><text x="60.9" y="156.17" text-anchor="end">0.03</text><text x="60.9" y="120.23" text-anchor="end">0.04</text><text x="60.9" y="84.29" text-anchor="end">0.05</text><text x="60.9" y="48.34" text-anchor="end">0.06</text><text x="60.9" y="12.4" text-anchor="end">0.07</text><text x="67.5" y="274.3" text-anchor="middle">0</text><text x="132.43" y="274.3" text-anchor="middle">0.2</text><text x="196.26" y="274.3" text-anchor="middle">0.4</text><text x="260.09" y="274.3" text-anchor="middle">0.6</text><text x="323.92" y="274.3" text-anchor="middle">0.8</text><text x="386.65" y="274.3" text-anchor="middle">1</text></g>
<g fill="#fff"><rect x="53.76" y="226.91" width="2.40" height="2.35"/><rect x="58.12" y="226.91" width="3.41" height="2.35"/><rect x="383.51" y="273.15" width="2.40" height="2.35"/><rect x="387.88" y="273.15" width="3.41" height="2.35"/></g>
<line x1="99.5" y1="96.9" x2="174.6" y2="96.9" stroke="#333" stroke-width="1.3"/>
<path d="M180.6 96.9L169.2 92.8L172.6 96.9L169.2 101Z" fill="#111"/>
<text x="134.7" y="90.9" text-anchor="middle" font-family='"Liberation Sans", Arial, Helvetica, sans-serif' font-size="14.2" fill="#111">t</text>
<text x="234.2" y="296.6" text-anchor="middle" font-family='"Liberation Sans", Arial, Helvetica, sans-serif' font-size="17.45" fill="#111">Distance from limbus x</text>
<text transform="translate(20.6 131.5) rotate(-90)" text-anchor="middle" font-family='"Liberation Sans", Arial, Helvetica, sans-serif' font-size="17.45" fill="#111">N(x,t)</text>
<g><polyline points="463,120.9 464.6,121 466.2,121 467.8,121.1 469.4,121.4 471,121.8 472.6,122.7 474.2,124.4 475.8,127 477.4,131.2 479,137.3 480.6,145.6 482.2,156 483.8,168.5 485.4,182.3 487,196 488.6,208.2 490.2,219.5 491.8,229.1 493.4,237 495,243.1 496.6,247.8 498.2,251.3 499.8,253.8 501.4,255.6 503,256.9 504.6,257.8 506.2,258.5 507.8,258.9 509.4,259.2 511,259.5 512.6,259.6 514.2,259.7 515.8,259.8 517.4,259.8 519,259.9 520.6,259.9 522.2,259.9" stroke="#5a5a5a" stroke-width="1.3" fill="none" stroke-dasharray="3 2"/>
<polyline points="463,120.9 463.8,121 464.6,121.3 465.4,121.5 466.2,121.5 467,121.7 467.8,121.9 468.6,121.9 469.4,121.8 470.2,121.8 471,122.3 471.8,122.6 472.6,122.2 473.4,122.2 474.2,123.4 475,124.7 475.8,126.1 476.6,128.3 477.4,131.2 478.2,134 479,137.2 479.8,141 480.6,145.4 481.4,150.4 482.2,156 483,162.1 483.8,168.6 484.6,175.3 485.4,182.4 486.2,189.5 487,196 487.8,202.2 488.6,208.2 489.4,214 490.2,219.5 491,224.5 491.8,229.1 492.6,233.2 493.4,237 494.2,240.2 495,243.1 495.8,245.7 496.6,247.8 497.4,249.7 498.2,251.3 499,252.7 499.8,253.8 500.6,254.8 501.4,255.6 502.2,256.3 503,256.9 503.8,257.4 504.6,257.8 505.4,258.2 506.2,258.5 507,258.7 507.8,258.9 508.6,259.1 509.4,259.2 510.2,259.4 511,259.5 511.8,259.5 512.6,259.6 513.4,259.7 514.2,259.7 515,259.7 515.8,259.8 516.6,259.8 517.4,259.8 518.2,259.9 519,259.9 519.8,259.9 520.6,259.9 521.4,259.9 522.2,259.9 523,259.9" stroke="#111" stroke-width="2.0" fill="none" stroke-linejoin="round"/>
<polyline points="463,120.9 464.6,120.9 466.2,120.9 467.8,120.9 469.4,120.9 471,120.9 472.6,120.9 474.2,120.9 475.8,120.9 477.4,120.9 479,120.9 480.6,120.9 482.2,121 483.8,121 485.4,121.2 487,121.4 488.6,121.7 490.2,122.3 491.8,123.1 493.4,124.4 495,126.1 496.6,128.5 498.2,131.6 499.8,135.6 501.4,140.7 503,146.7 504.6,153.8 506.2,161.8 507.8,170.6 509.4,180 511,189.8 512.6,198.8 514.2,207.5 515.8,215.7 517.4,223.1 519,229.7 520.6,235.4 522.2,240.2 523.8,244.2 525.4,247.5 527,250.1 528.6,252.3 530.2,253.9 531.8,255.3 533.4,256.3 535,257.1 536.6,257.8 538.2,258.3 539.8,258.6 541.4,258.9 543,259.2 544.6,259.3 546.2,259.5 547.8,259.6 549.4,259.7 551,259.7 552.6,259.8 554.2,259.8 555.8,259.9 557.4,259.9 559,259.9 560.6,259.9 562.2,259.9" stroke="#5a5a5a" stroke-width="1.3" fill="none" stroke-dasharray="3 2"/>
<polyline points="463,120.9 463.8,120.9 464.6,121.2 465.4,121.4 466.2,121.5 467,121.5 467.8,121.5 468.6,121.5 469.4,121.5 470.2,121.3 471,121.3 471.8,121.2 472.6,120 473.4,119.1 474.2,119.6 475,120.2 475.8,120.2 476.6,120.3 477.4,121 478.2,121.4 479,121 479.8,120.5 480.6,120.5 481.4,120.8 482.2,121.2 483,121.6 483.8,122 484.6,121.9 485.4,121.6 486.2,121.6 487,121.5 487.8,121.4 488.6,122 489.4,122.4 490.2,122.5 491,122.7 491.8,122.9 492.6,123.2 493.4,124.1 494.2,125.3 495,126.4 495.8,127.1 496.6,128.3 497.4,130.1 498.2,131.9 499,133.9 499.8,136.2 500.6,138.2 501.4,140.4 502.2,143.1 503,146.2 503.8,149.8 504.6,153.6 505.4,157.6 506.2,161.7 507,166 507.8,170.6 508.6,175.3 509.4,180 510.2,184.9 511,189.8 511.8,194.3 512.6,198.8 513.4,203.2 514.2,207.5 515,211.7 515.8,215.7 516.6,219.5 517.4,223.1 518.2,226.5 519,229.7 519.8,232.7 520.6,235.4 521.4,237.9 522.2,240.2 523,242.3 523.8,244.2 524.6,246 525.4,247.5 526.2,248.9 527,250.1 527.8,251.3 528.6,252.3 529.4,253.2 530.2,253.9 531,254.6 531.8,255.3 532.6,255.8 533.4,256.3 534.2,256.7 535,257.1 535.8,257.5 536.6,257.8 537.4,258 538.2,258.3 539,258.5 539.8,258.6 540.6,258.8 541.4,258.9 542.2,259.1 543,259.2 543.8,259.3 544.6,259.3 545.4,259.4 546.2,259.5 547,259.5 547.8,259.6 548.6,259.6 549.4,259.7 550.2,259.7 551,259.7 551.8,259.8 552.6,259.8 553.4,259.8 554.2,259.8 555,259.8 555.8,259.9 556.6,259.9 557.4,259.9 558.2,259.9 559,259.9 559.8,259.9 560.6,259.9 561.4,259.9 562.2,259.9" stroke="#111" stroke-width="2.0" fill="none" stroke-linejoin="round"/>
<polyline points="463,120.9 464.6,120.9 466.2,120.9 467.8,120.9 469.4,120.9 471,120.9 472.6,120.9 474.2,120.9 475.8,120.9 477.4,120.9 479,120.9 480.6,120.9 482.2,120.9 483.8,120.9 485.4,120.8 487,120.8 488.6,120.8 490.2,120.8 491.8,120.8 493.4,120.7 495,120.7 496.6,120.7 498.2,120.7 499.8,120.7 501.4,120.7 503,120.8 504.6,120.8 506.2,121 507.8,121.2 509.4,121.5 511,122 512.6,122.7 514.2,123.7 515.8,124.9 517.4,126.6 519,128.7 520.6,131.3 522.2,134.5 523.8,138.4 525.4,142.9 527,148.2 528.6,154.1 530.2,160.6 531.8,167.6 533.4,175.1 535,182.9 536.6,190.7 538.2,198 539.8,205.2 541.4,212 543,218.4 544.6,224.2 546.2,229.5 547.8,234.2 549.4,238.3 551,241.9 552.6,244.9 554.2,247.5 555.8,249.7 557.4,251.5 559,253 560.6,254.3 562.2,255.3 563.8,256.2 565.4,256.9 567,257.4 568.6,257.9 570.2,258.3 571.8,258.6 573.4,258.9 575,259.1 576.6,259.2 578.2,259.4 579.8,259.5 581.4,259.6 583,259.6 584.6,259.7 586.2,259.7 587.8,259.8 589.4,259.8 591,259.8 592.6,259.9 594.2,259.9 595.8,259.9 597.4,259.9 599,259.9" stroke="#5a5a5a" stroke-width="1.3" fill="none" stroke-dasharray="3 2"/>
<polyline points="463,120.9 463.8,121 464.6,121.3 465.4,121.5 466.2,121.5 467,121.6 467.8,121.6 468.6,121.4 469.4,121.1 470.2,120.8 471,121.1 471.8,121.4 472.6,120.5 473.4,119.4 474.2,119.6 475,120 475.8,119.9 476.6,120.1 477.4,120.7 478.2,121 479,120.8 479.8,120.5 480.6,120.4 481.4,120.5 482.2,120.7 483,121 483.8,121.3 484.6,121.5 485.4,121.6 486.2,121.7 487,121.2 487.8,120.6 488.6,120.9 489.4,121.3 490.2,121.2 491,120.9 491.8,120.5 492.6,120.3 493.4,120.6 494.2,120.7 495,120.6 495.8,120.2 496.6,120.2 497.4,121 498.2,121.3 499,121.1 499.8,121.3 500.6,120.9 501.4,119.8 502.2,119.1 503,118.9 503.8,119.5 504.6,120.1 505.4,119.9 506.2,119.4 507,119.2 507.8,119.7 508.6,120.3 509.4,120.6 510.2,120.8 511,121.6 511.8,122.8 512.6,123.6 513.4,124 514.2,124.4 515,124.8 515.8,125.3 516.6,125.7 517.4,126.1 518.2,126.8 519,127.8 519.8,128.9 520.6,129.9 521.4,131.2 522.2,133.4 523,136.1 523.8,138.9 524.6,141.2 525.4,143.2 526.2,145.4 527,148 527.8,150.9 528.6,153.9 529.4,157.2 530.2,160.7 531,164.2 531.8,167.7 532.6,171.3 533.4,175.1 534.2,179 535,182.9 535.8,186.8 536.6,190.7 537.4,194.4 538.2,198 539,201.6 539.8,205.2 540.6,208.6 541.4,212 542.2,215.2 543,218.4 543.8,221.4 544.6,224.2 545.4,227 546.2,229.5 547,231.9 547.8,234.2 548.6,236.4 549.4,238.3 550.2,240.2 551,241.9 551.8,243.5 552.6,244.9 553.4,246.3 554.2,247.5 555,248.7 555.8,249.7 556.6,250.7 557.4,251.5 558.2,252.3 559,253 559.8,253.7 560.6,254.3 561.4,254.8 562.2,255.3 563,255.8 563.8,256.2 564.6,256.5 565.4,256.9 566.2,257.2 567,257.4 567.8,257.7 568.6,257.9 569.4,258.1 570.2,258.3 571,258.5 571.8,258.6 572.6,258.7 573.4,258.9 574.2,259 575,259.1 575.8,259.1 576.6,259.2 577.4,259.3 578.2,259.4 579,259.4 579.8,259.5 580.6,259.5 581.4,259.6 582.2,259.6 583,259.6 583.8,259.7 584.6,259.7 585.4,259.7 586.2,259.7 587,259.8 587.8,259.8 588.6,259.8 589.4,259.8 590.2,259.8 591,259.8 591.8,259.9 592.6,259.9 593.4,259.9 594.2,259.9 595,259.9 595.8,259.9 596.6,259.9 597.4,259.9 598.2,259.9 599,259.9 599.8,259.9" stroke="#111" stroke-width="2.0" fill="none" stroke-linejoin="round"/>
<polyline points="463,120.9 464.6,120.9 466.2,120.9 467.8,120.9 469.4,120.9 471,120.9 472.6,120.9 474.2,120.9 475.8,120.9 477.4,120.9 479,120.9 480.6,120.9 482.2,120.9 483.8,120.9 485.4,120.8 487,120.8 488.6,120.8 490.2,120.8 491.8,120.8 493.4,120.7 495,120.7 496.6,120.7 498.2,120.7 499.8,120.6 501.4,120.6 503,120.6 504.6,120.5 506.2,120.5 507.8,120.4 509.4,120.4 511,120.4 512.6,120.3 514.2,120.3 515.8,120.3 517.4,120.2 519,120.2 520.6,120.2 522.2,120.2 523.8,120.3 525.4,120.3 527,120.5 528.6,120.7 530.2,121 531.8,121.4 533.4,121.9 535,122.7 536.6,123.6 538.2,124.8 539.8,126.3 541.4,128.2 543,130.4 544.6,133.1 546.2,136.3 547.8,139.9 549.4,144 551,148.7 552.6,153.8 554.2,159.3 555.8,165.3 557.4,171.6 559,178.1 560.6,184.9 562.2,191.5 563.8,197.9 565.4,204.2 567,210.3 568.6,216 570.2,221.3 571.8,226.2 573.4,230.7 575,234.7 576.6,238.3 578.2,241.4 579.8,244.2 581.4,246.6 583,248.6 584.6,250.4 586.2,251.9 587.8,253.2 589.4,254.3 591,255.2 592.6,256 594.2,256.6 595.8,257.2 597.4,257.6 599,258 600.6,258.3 602.2,258.6 603.8,258.8 605.4,259 607,259.2 608.6,259.3 610.2,259.4 611.8,259.5 613.4,259.6 615,259.6 616.6,259.7 618.2,259.7 619.8,259.8 621.4,259.8 623,259.8 624.5,259.8 626.1,259.9 627.7,259.9 629.3,259.9 630.9,259.9 632.5,259.9 634.1,259.9" stroke="#5a5a5a" stroke-width="1.3" fill="none" stroke-dasharray="3 2"/>
<polyline points="463,120.9 463.8,121 464.6,121.2 465.4,121.5 466.2,121.4 467,121.4 467.8,121.3 468.6,121.3 469.4,121.4 470.2,121.4 471,121.3 471.8,121 472.6,120 473.4,119.2 474.2,119.7 475,120.1 475.8,119.7 476.6,119.8 477.4,120.6 478.2,121 479,120.7 479.8,120.5 480.6,120.4 481.4,120.5 482.2,120.9 483,121.2 483.8,121.3 484.6,121.5 485.4,121.6 486.2,121.7 487,121.1 487.8,120.6 488.6,120.9 489.4,121.4 490.2,121.3 491,121 491.8,120.6 492.6,120.3 493.4,120.4 494.2,120.7 495,120.6 495.8,120.3 496.6,120.4 497.4,121 498.2,120.9 499,120.9 499.8,121.3 500.6,120.9 501.4,120 502.2,119.3 503,118.9 503.8,118.8 504.6,119 505.4,119.1 506.2,119 507,119.1 507.8,119.5 508.6,119.7 509.4,119.4 510.2,119.2 511,119.8 511.8,120.9 512.6,121.5 513.4,121.4 514.2,121.5 515,121.5 515.8,121.1 516.6,120.5 517.4,119.6 518.2,118.8 519,118.4 519.8,118.1 520.6,117.5 521.4,117.3 522.2,118 523,119.7 523.8,121.6 524.6,122.4 525.4,121.5 526.2,120.1 527,119.6 527.8,119.7 528.6,119.6 529.4,120 530.2,121.1 531,122.1 531.8,122.2 532.6,121.9 533.4,121.8 534.2,122.3 535,122.6 535.8,122.5 536.6,122.6 537.4,123.1 538.2,123.5 539,124.5 539.8,126.2 540.6,127.8 541.4,128.7 542.2,129.1 543,130.1 543.8,131.5 544.6,133.1 545.4,134.7 546.2,136.3 547,138.1 547.8,139.8 548.6,141.5 549.4,143.8 550.2,146.5 551,149 551.8,151.3 552.6,153.7 553.4,156.4 554.2,159.3 555,162.3 555.8,165.4 556.6,168.4 557.4,171.6 558.2,174.8 559,178.1 559.8,181.5 560.6,184.9 561.4,188.2 562.2,191.5 563,194.7 563.8,197.9 564.6,201.1 565.4,204.2 566.2,207.3 567,210.2 567.8,213.2 568.6,216 569.4,218.7 570.2,221.3 571,223.8 571.8,226.2 572.6,228.5 573.4,230.7 574.2,232.8 575,234.7 575.8,236.6 576.6,238.3 577.4,239.9 578.2,241.4 579,242.9 579.8,244.2 580.6,245.4 581.4,246.6 582.2,247.6 583,248.6 583.8,249.5 584.6,250.4 585.4,251.2 586.2,251.9 587,252.6 587.8,253.2 588.6,253.7 589.4,254.3 590.2,254.7 591,255.2 591.8,255.6 592.6,256 593.4,256.3 594.2,256.6 595,256.9 595.8,257.2 596.6,257.4 597.4,257.6 598.2,257.8 599,258 599.8,258.2 600.6,258.3 601.4,258.5 602.2,258.6 603,258.7 603.8,258.8 604.6,258.9 605.4,259 606.2,259.1 607,259.2 607.8,259.2 608.6,259.3 609.4,259.3 610.2,259.4 611,259.4 611.8,259.5 612.6,259.5 613.4,259.6 614.2,259.6 615,259.6 615.8,259.7 616.6,259.7 617.4,259.7 618.2,259.7 619,259.7 619.8,259.8 620.6,259.8 621.4,259.8 622.2,259.8 623,259.8 623.7,259.8 624.5,259.8 625.3,259.9 626.1,259.9 626.9,259.9 627.7,259.9 628.5,259.9 629.3,259.9 630.1,259.9 630.9,259.9 631.7,259.9 632.5,259.9 633.3,259.9 634.1,259.9" stroke="#111" stroke-width="2.0" fill="none" stroke-linejoin="round"/>
<polyline points="463,120.9 464.6,120.9 466.2,120.9 467.8,120.9 469.4,120.9 471,120.9 472.6,120.9 474.2,120.9 475.8,120.9 477.4,120.9 479,120.9 480.6,120.9 482.2,120.9 483.8,120.9 485.4,120.8 487,120.8 488.6,120.8 490.2,120.8 491.8,120.8 493.4,120.7 495,120.7 496.6,120.7 498.2,120.7 499.8,120.6 501.4,120.6 503,120.6 504.6,120.5 506.2,120.5 507.8,120.4 509.4,120.4 511,120.4 512.6,120.3 514.2,120.3 515.8,120.2 517.4,120.2 519,120.1 520.6,120.1 522.2,120 523.8,120 525.4,119.9 527,119.8 528.6,119.8 530.2,119.7 531.8,119.7 533.4,119.6 535,119.6 536.6,119.5 538.2,119.5 539.8,119.4 541.4,119.4 543,119.4 544.6,119.4 546.2,119.4 547.8,119.5 549.4,119.7 551,119.9 552.6,120.2 554.2,120.6 555.8,121.1 557.4,121.8 559,122.7 560.6,123.8 562.2,125.1 563.8,126.8 565.4,128.7 567,131 568.6,133.7 570.2,136.7 571.8,140.2 573.4,144.1 575,148.3 576.6,153 578.2,158 579.8,163.4 581.4,169.1 583,174.9 584.6,181 586.2,187.1 587.8,193 589.4,198.8 591,204.5 592.6,210 594.2,215.2 595.8,220.1 597.4,224.6 599,228.8 600.6,232.7 602.2,236.1 603.8,239.2 605.4,242 607,244.4 608.6,246.5 610.2,248.4 611.8,250 613.4,251.4 615,252.7 616.6,253.7 618.2,254.6 619.8,255.4 621.4,256.1 623,256.7 624.5,257.1 626.1,257.6 627.7,257.9 629.3,258.2 630.9,258.5 632.5,258.7 634.1,258.9 635.7,259 637.3,259.2 638.9,259.3 640.5,259.4 642.1,259.5 643.7,259.6 645.3,259.6 646.9,259.7 648.5,259.7 650.1,259.7 651.7,259.8 653.3,259.8 654.9,259.8 656.5,259.8 658.1,259.9 659.7,259.9 661.3,259.9 662.9,259.9 664.5,259.9 666.1,259.9 667.7,259.9" stroke="#5a5a5a" stroke-width="1.3" fill="none" stroke-dasharray="3 2"/>
<polyline points="463,120.9 463.8,121 464.6,121.3 465.4,121.5 466.2,121.6 467,121.6 467.8,121.6 468.6,121.5 469.4,121.4 470.2,121.2 471,121.4 471.8,121.5 472.6,120.5 473.4,119.6 474.2,119.8 475,120.1 475.8,120 476.6,120.4 477.4,121.1 478.2,121.2 479,120.8 479.8,120.3 480.6,120 481.4,120.2 482.2,120.7 483,121.4 483.8,121.9 484.6,122 485.4,121.7 486.2,121.4 487,121 487.8,120.6 488.6,120.8 489.4,121 490.2,120.8 491,120.6 491.8,120.6 492.6,120.6 493.4,120.7 494.2,120.7 495,120.6 495.8,120.3 496.6,120.3 497.4,120.9 498.2,121.2 499,121.3 499.8,121.5 500.6,121 501.4,119.7 502.2,118.7 503,118.5 503.8,118.9 504.6,119.4 505.4,119.4 506.2,119.1 507,119.1 507.8,119.4 508.6,119.6 509.4,119.2 510.2,119.1 511,119.8 511.8,120.7 512.6,120.7 513.4,120.3 514.2,120.5 515,121.1 515.8,121.2 516.6,120.6 517.4,119.8 518.2,119.1 519,118.5 519.8,117.9 520.6,117.5 521.4,117.4 522.2,118.1 523,119.7 523.8,121.4 524.6,122 525.4,121 526.2,119.6 527,119 527.8,118.7 528.6,118.5 529.4,119 530.2,120.1 531,121 531.8,120.8 532.6,119.9 533.4,119.3 534.2,119.2 535,119 535.8,118.5 536.6,118.1 537.4,117.9 538.2,118.2 539,118.8 539.8,119.8 540.6,120.5 541.4,120.1 542.2,118.9 543,118.2 543.8,118.6 544.6,119.2 545.4,119.5 546.2,119.5 547,119.6 547.8,119.2 548.6,118.6 549.4,119 550.2,120.1 551,120.6 551.8,120.4 552.6,120 553.4,120 554.2,120.5 555,121.1 555.8,121.5 556.6,121.4 557.4,120.9 558.2,120.7 559,121.4 559.8,122.6 560.6,123.4 561.4,124.2 562.2,125.3 563,126.6 563.8,127.3 564.6,127.7 565.4,128.4 566.2,129.3 567,130.4 567.8,131.7 568.6,133.3 569.4,135 570.2,136.6 571,138.1 571.8,139.8 572.6,141.9 573.4,144.1 574.2,146.3 575,148.6 575.8,150.8 576.6,153 577.4,155.3 578.2,157.8 579,160.5 579.8,163.3 580.6,166.1 581.4,169 582.2,172 583,174.9 583.8,178 584.6,181 585.4,184 586.2,187.1 587,190.1 587.8,193 588.6,195.9 589.4,198.8 590.2,201.7 591,204.5 591.8,207.3 592.6,210 593.4,212.6 594.2,215.2 595,217.7 595.8,220.1 596.6,222.4 597.4,224.6 598.2,226.8 599,228.8 599.8,230.8 600.6,232.7 601.4,234.4 602.2,236.1 603,237.7 603.8,239.2 604.6,240.6 605.4,242 606.2,243.2 607,244.4 607.8,245.5 608.6,246.5 609.4,247.5 610.2,248.4 611,249.2 611.8,250 612.6,250.8 613.4,251.4 614.2,252.1 615,252.7 615.8,253.2 616.6,253.7 617.4,254.2 618.2,254.6 619,255 619.8,255.4 620.6,255.8 621.4,256.1 622.2,256.4 623,256.7 623.7,256.9 624.5,257.1 625.3,257.4 626.1,257.6 626.9,257.7 627.7,257.9 628.5,258.1 629.3,258.2 630.1,258.4 630.9,258.5 631.7,258.6 632.5,258.7 633.3,258.8 634.1,258.9 634.9,259 635.7,259 636.5,259.1 637.3,259.2 638.1,259.2 638.9,259.3 639.7,259.4 640.5,259.4 641.3,259.4 642.1,259.5 642.9,259.5 643.7,259.6 644.5,259.6 645.3,259.6 646.1,259.6 646.9,259.7 647.7,259.7 648.5,259.7 649.3,259.7 650.1,259.7 650.9,259.8 651.7,259.8 652.5,259.8 653.3,259.8 654.1,259.8 654.9,259.8 655.7,259.8 656.5,259.8 657.3,259.9 658.1,259.9 658.9,259.9 659.7,259.9 660.5,259.9 661.3,259.9 662.1,259.9 662.9,259.9 663.7,259.9 664.5,259.9 665.3,259.9 666.1,259.9 666.9,259.9 667.7,259.9" stroke="#111" stroke-width="2.0" fill="none" stroke-linejoin="round"/>
<polyline points="463,120.9 464.6,120.9 466.2,120.9 467.8,120.9 469.4,120.9 471,120.9 472.6,120.9 474.2,120.9 475.8,120.9 477.4,120.9 479,120.9 480.6,120.9 482.2,120.9 483.8,120.9 485.4,120.8 487,120.8 488.6,120.8 490.2,120.8 491.8,120.8 493.4,120.7 495,120.7 496.6,120.7 498.2,120.7 499.8,120.6 501.4,120.6 503,120.6 504.6,120.5 506.2,120.5 507.8,120.4 509.4,120.4 511,120.4 512.6,120.3 514.2,120.3 515.8,120.2 517.4,120.2 519,120.1 520.6,120.1 522.2,120 523.8,120 525.4,119.9 527,119.8 528.6,119.8 530.2,119.7 531.8,119.7 533.4,119.6 535,119.5 536.6,119.5 538.2,119.4 539.8,119.3 541.4,119.2 543,119.2 544.6,119.1 546.2,119 547.8,118.9 549.4,118.9 551,118.8 552.6,118.7 554.2,118.6 555.8,118.5 557.4,118.5 559,118.4 560.6,118.3 562.2,118.3 563.8,118.2 565.4,118.2 567,118.2 568.6,118.2 570.2,118.3 571.8,118.4 573.4,118.5 575,118.8 576.6,119.1 578.2,119.5 579.8,120.1 581.4,120.8 583,121.7 584.6,122.8 586.2,124.1 587.8,125.7 589.4,127.5 591,129.6 592.6,132.1 594.2,134.9 595.8,138.1 597.4,141.6 599,145.4 600.6,149.6 602.2,154.2 603.8,159 605.4,164.1 607,169.5 608.6,175 610.2,180.6 611.8,186.4 613.4,192 615,197.5 616.6,202.9 618.2,208.1 619.8,213.1 621.4,217.9 623,222.3 624.5,226.5 626.1,230.3 627.7,233.7 629.3,236.9 630.9,239.7 632.5,242.3 634.1,244.5 635.7,246.5 637.3,248.3 638.9,249.8 640.5,251.2 642.1,252.4 643.7,253.4 645.3,254.3 646.9,255.1 648.5,255.8 650.1,256.3 651.7,256.8 653.3,257.3 654.9,257.7 656.5,258 658.1,258.3 659.7,258.5 661.3,258.7 662.9,258.9 664.5,259 666.1,259.2 667.7,259.3 669.3,259.4 670.9,259.5 672.5,259.5 674.1,259.6 675.7,259.6 677.3,259.7 678.9,259.7 680.5,259.8 682.1,259.8 683.7,259.8 685.3,259.8 686.9,259.8 688.5,259.9 690.1,259.9 691.7,259.9 693.3,259.9 694.9,259.9 696.5,259.9 698.1,259.9" stroke="#5a5a5a" stroke-width="1.3" fill="none" stroke-dasharray="3 2"/>
<polyline points="463,120.9 463.8,120.9 464.6,121.2 465.4,121.4 466.2,121.4 467,121.6 467.8,121.8 468.6,121.7 469.4,121.4 470.2,121.1 471,121.2 471.8,121.1 472.6,120 473.4,119.3 474.2,119.8 475,120.1 475.8,119.7 476.6,119.9 477.4,120.8 478.2,121.3 479,121.1 479.8,120.8 480.6,120.6 481.4,120.6 482.2,121 483,121.5 483.8,121.9 484.6,122 485.4,121.8 486.2,121.4 487,121 487.8,120.7 488.6,121 489.4,121.4 490.2,121.3 491,121 491.8,120.7 492.6,120.5 493.4,120.5 494.2,120.6 495,120.5 495.8,120.2 496.6,120.3 497.4,121 498.2,121.3 499,121.3 499.8,121.4 500.6,120.9 501.4,119.7 502.2,118.8 503,118.7 503.8,119.3 504.6,119.8 505.4,119.7 506.2,119.2 507,119 507.8,119.4 508.6,119.6 509.4,119.4 510.2,119.2 511,119.6 511.8,120.2 512.6,120.5 513.4,120.6 514.2,120.9 515,121.2 515.8,121.1 516.6,120.5 517.4,119.7 518.2,119.2 519,118.7 519.8,118.1 520.6,117.4 521.4,117 522.2,117.9 523,119.7 523.8,121.6 524.6,122.2 525.4,121.2 526.2,119.6 527,119 527.8,119 528.6,119.1 529.4,119.6 530.2,120.7 531,121.4 531.8,120.8 532.6,119.9 533.4,119.4 534.2,119.4 535,119.3 535.8,118.9 536.6,118.4 537.4,118.1 538.2,117.9 539,118.3 539.8,119.3 540.6,120 541.4,119.7 542.2,118.7 543,118.3 543.8,118.7 544.6,119.2 545.4,119.4 546.2,119.3 547,119.2 547.8,118.5 548.6,117.8 549.4,118.4 550.2,119.7 551,120.2 551.8,119.8 552.6,119 553.4,118.6 554.2,118.7 555,118.9 555.8,118.9 556.6,118.3 557.4,117.3 558.2,116.5 559,116.7 559.8,117.5 560.6,118 561.4,118.2 562.2,118.8 563,119.2 563.8,119.1 564.6,118.4 565.4,117.8 566.2,117.4 567,117.2 567.8,117.3 568.6,117.7 569.4,118 570.2,118 571,117.5 571.8,117.4 572.6,117.9 573.4,118.7 574.2,119.5 575,120 575.8,119.7 576.6,119 577.4,118.5 578.2,118.4 579,118.5 579.8,118.6 580.6,119 581.4,120 582.2,121.1 583,122 583.8,122.5 584.6,122.9 585.4,123.1 586.2,123.6 587,124.3 587.8,125.2 588.6,126.4 589.4,127.7 590.2,128.9 591,130 591.8,130.9 592.6,131.6 593.4,132.7 594.2,134.2 595,136.2 595.8,138.3 596.6,140.2 597.4,141.8 598.2,143.5 599,145.3 599.8,147.2 600.6,149.3 601.4,151.5 602.2,154 603,156.4 603.8,158.9 604.6,161.4 605.4,164 606.2,166.7 607,169.4 607.8,172.1 608.6,174.9 609.4,177.8 610.2,180.7 611,183.5 611.8,186.4 612.6,189.2 613.4,191.9 614.2,194.7 615,197.5 615.8,200.2 616.6,202.9 617.4,205.5 618.2,208.1 619,210.7 619.8,213.1 620.6,215.5 621.4,217.9 622.2,220.1 623,222.3 623.7,224.4 624.5,226.5 625.3,228.4 626.1,230.3 626.9,232 627.7,233.7 628.5,235.4 629.3,236.9 630.1,238.3 630.9,239.7 631.7,241 632.5,242.3 633.3,243.4 634.1,244.5 634.9,245.6 635.7,246.5 636.5,247.4 637.3,248.3 638.1,249.1 638.9,249.8 639.7,250.5 640.5,251.2 641.3,251.8 642.1,252.4 642.9,252.9 643.7,253.4 644.5,253.9 645.3,254.3 646.1,254.7 646.9,255.1 647.7,255.4 648.5,255.8 649.3,256.1 650.1,256.3 650.9,256.6 651.7,256.8 652.5,257.1 653.3,257.3 654.1,257.5 654.9,257.7 655.7,257.8 656.5,258 657.3,258.1 658.1,258.3 658.9,258.4 659.7,258.5 660.5,258.6 661.3,258.7 662.1,258.8 662.9,258.9 663.7,259 664.5,259 665.3,259.1 666.1,259.2 666.9,259.2 667.7,259.3 668.5,259.3 669.3,259.4 670.1,259.4 670.9,259.5 671.7,259.5 672.5,259.5 673.3,259.6 674.1,259.6 674.9,259.6 675.7,259.6 676.5,259.7 677.3,259.7 678.1,259.7 678.9,259.7 679.7,259.7 680.5,259.8 681.3,259.8 682.1,259.8 682.9,259.8 683.7,259.8 684.5,259.8 685.3,259.8 686.1,259.8 686.9,259.8 687.7,259.9 688.5,259.9 689.3,259.9 690.1,259.9 690.9,259.9 691.7,259.9 692.5,259.9 693.3,259.9 694.1,259.9 694.9,259.9 695.7,259.9 696.5,259.9 697.3,259.9 698.1,259.9" stroke="#111" stroke-width="2.0" fill="none" stroke-linejoin="round"/>
<polyline points="463,120.9 464.6,120.9 466.2,120.9 467.8,120.9 469.4,120.9 471,120.9 472.6,120.9 474.2,120.9 475.8,120.9 477.4,120.9 479,120.9 480.6,120.9 482.2,120.9 483.8,120.9 485.4,120.8 487,120.8 488.6,120.8 490.2,120.8 491.8,120.8 493.4,120.7 495,120.7 496.6,120.7 498.2,120.7 499.8,120.6 501.4,120.6 503,120.6 504.6,120.5 506.2,120.5 507.8,120.4 509.4,120.4 511,120.4 512.6,120.3 514.2,120.3 515.8,120.2 517.4,120.2 519,120.1 520.6,120.1 522.2,120 523.8,120 525.4,119.9 527,119.8 528.6,119.8 530.2,119.7 531.8,119.7 533.4,119.6 535,119.5 536.6,119.5 538.2,119.4 539.8,119.3 541.4,119.2 543,119.2 544.6,119.1 546.2,119 547.8,118.9 549.4,118.9 551,118.8 552.6,118.7 554.2,118.6 555.8,118.5 557.4,118.4 559,118.3 560.6,118.2 562.2,118.1 563.8,118 565.4,117.9 567,117.9 568.6,117.8 570.2,117.7 571.8,117.5 573.4,117.4 575,117.3 576.6,117.2 578.2,117.1 579.8,117 581.4,117 583,116.9 584.6,116.8 586.2,116.7 587.8,116.7 589.4,116.7 591,116.7 592.6,116.7 594.2,116.8 595.8,116.9 597.4,117.1 599,117.4 600.6,117.8 602.2,118.2 603.8,118.9 605.4,119.6 607,120.6 608.6,121.7 610.2,123.1 611.8,124.7 613.4,126.6 615,128.7 616.6,131.2 618.2,133.9 619.8,137 621.4,140.4 623,144.1 624.5,148.2 626.1,152.5 627.7,157.1 629.3,162 630.9,167.1 632.5,172.3 634.1,177.7 635.7,183.2 637.3,188.6 638.9,194 640.5,199.2 642.1,204.4 643.7,209.3 645.3,214.1 646.9,218.5 648.5,222.7 650.1,226.7 651.7,230.3 653.3,233.6 654.9,236.6 656.5,239.3 658.1,241.8 659.7,244 661.3,245.9 662.9,247.7 664.5,249.2 666.1,250.6 667.7,251.8 669.3,252.8 670.9,253.8 672.5,254.6 674.1,255.3 675.7,255.9 677.3,256.4 678.9,256.9 680.5,257.3 682.1,257.7 683.7,258 685.3,258.2 686.9,258.5 688.5,258.7 690.1,258.8 691.7,259 693.3,259.1 694.9,259.2 696.5,259.3 698.1,259.4 699.7,259.5 701.3,259.5 702.9,259.6 704.5,259.6 706.1,259.7 707.7,259.7 709.3,259.8 710.9,259.8 712.5,259.8 714.1,259.8 715.7,259.8 717.3,259.9 718.9,259.9 720.5,259.9 722.1,259.9 723.7,259.9 725.3,259.9 726.9,259.9" stroke="#5a5a5a" stroke-width="1.3" fill="none" stroke-dasharray="3 2"/>
<polyline points="463,120.9 463.8,121 464.6,121.2 465.4,121.5 466.2,121.5 467,121.4 467.8,121.4 468.6,121.5 469.4,121.5 470.2,121.1 471,121 471.8,121 472.6,120 473.4,119 474.2,119.4 475,120 475.8,120.1 476.6,120.3 477.4,120.9 478.2,121.1 479,120.8 479.8,120.4 480.6,120.3 481.4,120.6 482.2,121.1 483,121.5 483.8,121.8 484.6,121.7 485.4,121.4 486.2,121.2 487,120.7 487.8,120.4 488.6,120.9 489.4,121.4 490.2,121.4 491,121.1 491.8,120.8 492.6,120.6 493.4,120.7 494.2,121.2 495,121.2 495.8,120.7 496.6,120.5 497.4,121.2 498.2,121.5 499,121.4 499.8,121.4 500.6,120.9 501.4,120 502.2,119.3 503,118.8 503.8,119 504.6,119.3 505.4,119.3 506.2,119.2 507,119.1 507.8,119.3 508.6,119.5 509.4,119.4 510.2,119.3 511,119.8 511.8,120.5 512.6,120.7 513.4,120.6 514.2,120.8 515,121.2 515.8,121.1 516.6,120.4 517.4,119.7 518.2,119.2 519,118.6 519.8,118.1 520.6,117.7 521.4,117.4 522.2,118.1 523,119.7 523.8,121.3 524.6,122 525.4,121.3 526.2,119.9 527,119.2 527.8,119.1 528.6,118.9 529.4,119.3 530.2,120.4 531,121.3 531.8,121 532.6,119.9 533.4,119.2 534.2,119.4 535,119.5 535.8,118.9 536.6,118.4 537.4,118 538.2,117.8 539,118.2 539.8,119.3 540.6,120.3 541.4,120 542.2,119 543,118.3 543.8,118.2 544.6,118.4 545.4,118.8 546.2,119.2 547,119.2 547.8,118.7 548.6,118.2 549.4,118.6 550.2,119.6 551,120 551.8,119.2 552.6,118.3 553.4,118.2 554.2,118.7 555,119.2 555.8,119.3 556.6,118.6 557.4,117.5 558.2,116.7 559,116.8 559.8,117.6 560.6,118.1 561.4,118.3 562.2,118.7 563,119 563.8,118.9 564.6,118.3 565.4,117.7 566.2,116.9 567,116.5 567.8,116.7 568.6,117.1 569.4,117.3 570.2,117.2 571,116.9 571.8,116.6 572.6,116.7 573.4,117 574.2,117.9 575,118.6 575.8,118.1 576.6,116.8 577.4,116 578.2,115.8 579,115.9 579.8,115.8 580.6,115.8 581.4,116.4 582.2,117.2 583,117.5 583.8,117.4 584.6,117 585.4,116.4 586.2,116 587,115.9 587.8,115.9 588.6,116.6 589.4,117.2 590.2,117.2 591,116.8 591.8,116.3 592.6,115.9 593.4,115.6 594.2,115.7 595,116.4 595.8,117.5 596.6,118.3 597.4,118.4 598.2,117.8 599,117 599.8,116.5 600.6,116.5 601.4,116.8 602.2,117.3 603,117.9 603.8,118.4 604.6,118.8 605.4,119.4 606.2,119.8 607,119.6 607.8,119.8 608.6,121.2 609.4,122.7 610.2,123.8 611,124.4 611.8,124.7 612.6,125.1 613.4,125.5 614.2,126.2 615,127.4 615.8,129.2 616.6,130.7 617.4,132.1 618.2,133.7 619,135.2 619.8,136.7 620.6,138.2 621.4,140 622.2,141.8 623,143.7 623.7,145.8 624.5,147.9 625.3,150 626.1,152.3 626.9,154.7 627.7,157.1 628.5,159.6 629.3,162.1 630.1,164.6 630.9,167.1 631.7,169.7 632.5,172.4 633.3,175 634.1,177.7 634.9,180.4 635.7,183.2 636.5,186 637.3,188.6 638.1,191.3 638.9,194 639.7,196.6 640.5,199.2 641.3,201.8 642.1,204.4 642.9,206.9 643.7,209.3 644.5,211.7 645.3,214.1 646.1,216.3 646.9,218.5 647.7,220.7 648.5,222.7 649.3,224.7 650.1,226.7 650.9,228.5 651.7,230.3 652.5,232 653.3,233.6 654.1,235.1 654.9,236.6 655.7,238 656.5,239.3 657.3,240.6 658.1,241.8 658.9,242.9 659.7,244 660.5,245 661.3,245.9 662.1,246.8 662.9,247.7 663.7,248.5 664.5,249.2 665.3,249.9 666.1,250.6 666.9,251.2 667.7,251.8 668.5,252.3 669.3,252.8 670.1,253.3 670.9,253.8 671.7,254.2 672.5,254.6 673.3,254.9 674.1,255.3 674.9,255.6 675.7,255.9 676.5,256.2 677.3,256.4 678.1,256.7 678.9,256.9 679.7,257.1 680.5,257.3 681.3,257.5 682.1,257.7 682.9,257.8 683.7,258 684.5,258.1 685.3,258.2 686.1,258.4 686.9,258.5 687.7,258.6 688.5,258.7 689.3,258.8 690.1,258.8 690.9,258.9 691.7,259 692.5,259.1 693.3,259.1 694.1,259.2 694.9,259.2 695.7,259.3 696.5,259.3 697.3,259.4 698.1,259.4 698.9,259.4 699.7,259.5 700.5,259.5 701.3,259.5 702.1,259.6 702.9,259.6 703.7,259.6 704.5,259.6 705.3,259.7 706.1,259.7 706.9,259.7 707.7,259.7 708.5,259.7 709.3,259.8 710.1,259.8 710.9,259.8 711.7,259.8 712.5,259.8 713.3,259.8 714.1,259.8 714.9,259.8 715.7,259.8 716.5,259.8 717.3,259.9 718.1,259.9 718.9,259.9 719.7,259.9 720.5,259.9 721.3,259.9 722.1,259.9 722.9,259.9 723.7,259.9 724.5,259.9 725.3,259.9 726.1,259.9 726.9,259.9 727.7,259.9" stroke="#111" stroke-width="2.0" fill="none" stroke-linejoin="round"/>
<polyline points="463,120.9 464.6,120.9 466.2,120.9 467.8,120.9 469.4,120.9 471,120.9 472.6,120.9 474.2,120.9 475.8,120.9 477.4,120.9 479,120.9 480.6,120.9 482.2,120.9 483.8,120.9 485.4,120.8 487,120.8 488.6,120.8 490.2,120.8 491.8,120.8 493.4,120.7 495,120.7 496.6,120.7 498.2,120.7 499.8,120.6 501.4,120.6 503,120.6 504.6,120.5 506.2,120.5 507.8,120.4 509.4,120.4 511,120.4 512.6,120.3 514.2,120.3 515.8,120.2 517.4,120.2 519,120.1 520.6,120.1 522.2,120 523.8,120 525.4,119.9 527,119.8 528.6,119.8 530.2,119.7 531.8,119.7 533.4,119.6 535,119.5 536.6,119.5 538.2,119.4 539.8,119.3 541.4,119.2 543,119.2 544.6,119.1 546.2,119 547.8,118.9 549.4,118.9 551,118.8 552.6,118.7 554.2,118.6 555.8,118.5 557.4,118.4 559,118.3 560.6,118.2 562.2,118.1 563.8,118 565.4,117.9 567,117.8 568.6,117.7 570.2,117.6 571.8,117.5 573.4,117.4 575,117.3 576.6,117.2 578.2,117.1 579.8,117 581.4,116.9 583,116.8 584.6,116.7 586.2,116.5 587.8,116.4 589.4,116.3 591,116.2 592.6,116 594.2,115.9 595.8,115.8 597.4,115.7 599,115.6 600.6,115.4 602.2,115.3 603.8,115.2 605.4,115.1 607,115 608.6,114.9 610.2,114.8 611.8,114.8 613.4,114.7 615,114.8 616.6,114.8 618.2,114.9 619.8,115 621.4,115.2 623,115.5 624.5,115.9 626.1,116.4 627.7,117 629.3,117.8 630.9,118.7 632.5,119.8 634.1,121.2 635.7,122.7 637.3,124.5 638.9,126.5 640.5,128.8 642.1,131.4 643.7,134.3 645.3,137.5 646.9,141 648.5,144.7 650.1,148.8 651.7,153 653.3,157.6 654.9,162.3 656.5,167.3 658.1,172.4 659.7,177.6 661.3,182.8 662.9,188 664.5,193 666.1,198 667.7,202.9 669.3,207.6 670.9,212.1 672.5,216.4 674.1,220.5 675.7,224.3 677.3,227.9 678.9,231.2 680.5,234.2 682.1,237 683.7,239.5 685.3,241.8 686.9,243.8 688.5,245.7 690.1,247.3 691.7,248.8 693.3,250.1 694.9,251.3 696.5,252.4 698.1,253.3 699.7,254.1 701.3,254.8 702.9,255.4 704.5,256 706.1,256.5 707.7,256.9 709.3,257.3 710.9,257.6 712.5,257.9 714.1,258.2 715.7,258.4 717.3,258.6 718.9,258.8 720.5,258.9 722.1,259 723.7,259.2 725.3,259.3 726.9,259.3 728.5,259.4 730.1,259.5 731.7,259.5 733.3,259.6 734.9,259.6 736.5,259.7 738.1,259.7 739.7,259.7 741.3,259.8 742.9,259.8 744.5,259.8 746.1,259.8 747.7,259.8 749.3,259.9 750.9,259.9 752.5,259.9 754.1,259.9 755.7,259.9 757.3,259.9 758.9,259.9" stroke="#5a5a5a" stroke-width="1.3" fill="none" stroke-dasharray="3 2"/>
<polyline points="463,120.9 463.8,121 464.6,121.2 465.4,121.3 466.2,121.4 467,121.5 467.8,121.5 468.6,121.3 469.4,121.5 470.2,121.7 471,121.8 471.8,121.5 472.6,120.4 473.4,119.3 474.2,119.5 475,119.8 475.8,119.7 476.6,119.8 477.4,120.5 478.2,120.9 479,120.6 479.8,120.2 480.6,120.3 481.4,120.7 482.2,121.1 483,121.4 483.8,121.6 484.6,121.5 485.4,121.4 486.2,121.3 487,120.9 487.8,120.5 488.6,120.7 489.4,121 490.2,120.9 491,120.8 491.8,120.7 492.6,120.7 493.4,120.8 494.2,120.9 495,120.6 495.8,120.3 496.6,120.5 497.4,121.1 498.2,121.3 499,121.3 499.8,121.5 500.6,120.9 501.4,119.8 502.2,119.1 503,119 503.8,119.5 504.6,119.8 505.4,119.6 506.2,119.3 507,119.2 507.8,119.5 508.6,119.8 509.4,119.7 510.2,119.7 511,120.1 511.8,120.8 512.6,120.9 513.4,120.7 514.2,120.9 515,121.1 515.8,121.3 516.6,121.1 517.4,120.1 518.2,119.1 519,118.6 519.8,118.3 520.6,117.9 521.4,117.4 522.2,117.8 523,119.2 523.8,120.8 524.6,121.9 525.4,121.2 526.2,119.7 527,119 527.8,118.9 528.6,118.7 529.4,119.1 530.2,120.1 531,120.9 531.8,120.7 532.6,119.9 533.4,119.4 534.2,119.3 535,119.3 535.8,118.7 536.6,118.2 537.4,117.9 538.2,117.8 539,118.2 539.8,119.4 540.6,120.3 541.4,120 542.2,118.9 543,118.4 543.8,118.9 544.6,119.3 545.4,119.3 546.2,119.2 547,119.1 547.8,118.4 548.6,117.7 549.4,118.3 550.2,119.6 551,120 551.8,119.3 552.6,118.3 553.4,117.9 554.2,118.1 555,118.6 555.8,119 556.6,118.7 557.4,117.7 558.2,116.7 559,116.7 559.8,117.4 560.6,117.9 561.4,118.1 562.2,118.8 563,119.6 563.8,119.5 564.6,118.7 565.4,117.9 566.2,117.3 567,116.9 567.8,116.7 568.6,117 569.4,117.4 570.2,117.6 571,117.1 571.8,116.7 572.6,116.7 573.4,117.3 574.2,118.2 575,118.6 575.8,118.1 576.6,116.8 577.4,115.7 578.2,115.3 579,115.3 579.8,115.2 580.6,115.2 581.4,115.5 582.2,116.3 583,116.8 583.8,117 584.6,116.8 585.4,116.2 586.2,115.5 587,115.1 587.8,115.1 588.6,115.7 589.4,116.3 590.2,116.4 591,116.2 591.8,115.5 592.6,114.7 593.4,114.3 594.2,114.7 595,115.6 595.8,116.4 596.6,116.7 597.4,116.3 598.2,115.8 599,115.2 599.8,114.4 600.6,113.8 601.4,113.7 602.2,114.1 603,114.5 603.8,114.6 604.6,114.3 605.4,114.2 606.2,114.3 607,113.9 607.8,113.5 608.6,114.2 609.4,115.2 610.2,115.7 611,115.3 611.8,114.3 612.6,113.7 613.4,113.2 614.2,112.5 615,112.4 615.8,113.1 616.6,113.4 617.4,113.5 618.2,113.9 619,114.2 619.8,114.1 620.6,114 621.4,114.1 622.2,114.1 623,114.1 623.7,114.4 624.5,114.8 625.3,115 626.1,115.2 626.9,116 627.7,117.3 628.5,118.2 629.3,118.7 630.1,119 630.9,119.2 631.7,119.8 632.5,120.6 633.3,120.9 634.1,121.2 634.9,121.8 635.7,122.6 636.5,123.5 637.3,124.7 638.1,126 638.9,126.9 639.7,127.6 640.5,128.4 641.3,129.7 642.1,131.4 642.9,133.2 643.7,134.8 644.5,136.3 645.3,137.9 646.1,139.5 646.9,141.1 647.7,142.8 648.5,144.7 649.3,146.8 650.1,149 650.9,151.1 651.7,153.2 652.5,155.3 653.3,157.5 654.1,159.9 654.9,162.3 655.7,164.7 656.5,167.2 657.3,169.8 658.1,172.3 658.9,174.9 659.7,177.6 660.5,180.2 661.3,182.8 662.1,185.4 662.9,188 663.7,190.5 664.5,193 665.3,195.5 666.1,198 666.9,200.4 667.7,202.9 668.5,205.2 669.3,207.6 670.1,209.9 670.9,212.1 671.7,214.3 672.5,216.4 673.3,218.5 674.1,220.5 674.9,222.4 675.7,224.3 676.5,226.1 677.3,227.9 678.1,229.6 678.9,231.2 679.7,232.7 680.5,234.2 681.3,235.6 682.1,237 682.9,238.3 683.7,239.5 684.5,240.7 685.3,241.8 686.1,242.8 686.9,243.8 687.7,244.8 688.5,245.7 689.3,246.5 690.1,247.3 690.9,248.1 691.7,248.8 692.5,249.5 693.3,250.1 694.1,250.8 694.9,251.3 695.7,251.9 696.5,252.4 697.3,252.8 698.1,253.3 698.9,253.7 699.7,254.1 700.5,254.5 701.3,254.8 702.1,255.1 702.9,255.4 703.7,255.7 704.5,256 705.3,256.3 706.1,256.5 706.9,256.7 707.7,256.9 708.5,257.1 709.3,257.3 710.1,257.5 710.9,257.6 711.7,257.8 712.5,257.9 713.3,258 714.1,258.2 714.9,258.3 715.7,258.4 716.5,258.5 717.3,258.6 718.1,258.7 718.9,258.8 719.7,258.8 720.5,258.9 721.3,259 722.1,259 722.9,259.1 723.7,259.2 724.5,259.2 725.3,259.3 726.1,259.3 726.9,259.3 727.7,259.4 728.5,259.4 729.3,259.5 730.1,259.5 730.9,259.5 731.7,259.5 732.5,259.6 733.3,259.6 734.1,259.6 734.9,259.6 735.7,259.7 736.5,259.7 737.3,259.7 738.1,259.7 738.9,259.7 739.7,259.7 740.5,259.8 741.3,259.8 742.1,259.8 742.9,259.8 743.7,259.8 744.5,259.8 745.3,259.8 746.1,259.8 746.9,259.8 747.7,259.8 748.5,259.9 749.3,259.9 750.1,259.9 750.9,259.9 751.7,259.9 752.5,259.9 753.3,259.9 754.1,259.9 754.9,259.9 755.7,259.9 756.5,259.9 757.3,259.9 758.1,259.9 758.9,259.9 759.7,259.9" stroke="#111" stroke-width="2.0" fill="none" stroke-linejoin="round"/>
<polyline points="463,120.9 464.6,120.9 466.2,120.9 467.8,120.9 469.4,120.9 471,120.9 472.6,120.9 474.2,120.9 475.8,120.9 477.4,120.9 479,120.9 480.6,120.9 482.2,120.9 483.8,120.9 485.4,120.8 487,120.8 488.6,120.8 490.2,120.8 491.8,120.8 493.4,120.7 495,120.7 496.6,120.7 498.2,120.7 499.8,120.6 501.4,120.6 503,120.6 504.6,120.5 506.2,120.5 507.8,120.4 509.4,120.4 511,120.4 512.6,120.3 514.2,120.3 515.8,120.2 517.4,120.2 519,120.1 520.6,120.1 522.2,120 523.8,120 525.4,119.9 527,119.8 528.6,119.8 530.2,119.7 531.8,119.7 533.4,119.6 535,119.5 536.6,119.5 538.2,119.4 539.8,119.3 541.4,119.2 543,119.2 544.6,119.1 546.2,119 547.8,118.9 549.4,118.9 551,118.8 552.6,118.7 554.2,118.6 555.8,118.5 557.4,118.4 559,118.3 560.6,118.2 562.2,118.1 563.8,118 565.4,117.9 567,117.8 568.6,117.7 570.2,117.6 571.8,117.5 573.4,117.4 575,117.3 576.6,117.2 578.2,117.1 579.8,117 581.4,116.9 583,116.8 584.6,116.6 586.2,116.5 587.8,116.4 589.4,116.3 591,116.2 592.6,116 594.2,115.9 595.8,115.8 597.4,115.7 599,115.5 600.6,115.4 602.2,115.3 603.8,115.1 605.4,115 607,114.8 608.6,114.7 610.2,114.6 611.8,114.4 613.4,114.3 615,114.1 616.6,114 618.2,113.8 619.8,113.7 621.4,113.5 623,113.4 624.5,113.3 626.1,113.1 627.7,113 629.3,112.9 630.9,112.7 632.5,112.6 634.1,112.6 635.7,112.5 637.3,112.5 638.9,112.5 640.5,112.5 642.1,112.6 643.7,112.7 645.3,112.9 646.9,113.2 648.5,113.6 650.1,114.1 651.7,114.7 653.3,115.4 654.9,116.3 656.5,117.4 658.1,118.7 659.7,120.1 661.3,121.8 662.9,123.8 664.5,126 666.1,128.4 667.7,131.1 669.3,134.1 670.9,137.4 672.5,140.9 674.1,144.7 675.7,148.8 677.3,153.1 678.9,157.6 680.5,162.3 682.1,167.2 683.7,172.1 685.3,177.2 686.9,182.3 688.5,187.1 690.1,191.8 691.7,196.5 693.3,201.1 694.9,205.5 696.5,209.8 698.1,213.9 699.7,217.8 701.3,221.5 702.9,225 704.5,228.2 706.1,231.2 707.7,234 709.3,236.6 710.9,239 712.5,241.1 714.1,243.1 715.7,244.9 717.3,246.5 718.9,247.9 720.5,249.2 722.1,250.4 723.7,251.5 725.3,252.4 726.9,253.3 728.5,254 730.1,254.7 731.7,255.3 733.3,255.8 734.9,256.3 736.5,256.7 738.1,257.1 739.7,257.4 741.3,257.7 742.9,258 744.5,258.2 746.1,258.4 747.7,258.6 749.3,258.7 750.9,258.9 752.5,259 754.1,259.1 755.7,259.2 757.3,259.3 758.9,259.4 760.5,259.4 762.1,259.5 763.7,259.5 765.3,259.6 766.9,259.6 768.5,259.7 770.1,259.7 771.7,259.7 773.3,259.8 774.9,259.8 776.5,259.8 778.1,259.8 779.7,259.8 781.3,259.8 782.9,259.9" stroke="#5a5a5a" stroke-width="1.3" fill="none" stroke-dasharray="3 2"/>
<polyline points="463,120.9 463.8,121 464.6,121.2 465.4,121.4 466.2,121.4 467,121.5 467.8,121.5 468.6,121.3 469.4,121.1 470.2,121 471,121.1 471.8,121.2 472.6,120.3 473.4,119.5 474.2,119.7 475,119.9 475.8,119.6 476.6,119.7 477.4,120.4 478.2,120.9 479,120.6 479.8,120.2 480.6,120.2 481.4,120.4 482.2,120.7 483,121.1 483.8,121.4 484.6,121.5 485.4,121.3 486.2,121.1 487,120.9 487.8,120.6 488.6,120.9 489.4,121.2 490.2,121.1 491,120.8 491.8,120.4 492.6,120 493.4,120 494.2,120.3 495,120.5 495.8,120.2 496.6,120.4 497.4,121 498.2,121.1 499,121.2 499.8,121.3 500.6,120.8 501.4,119.9 502.2,119.2 503,118.9 503.8,119.1 504.6,119.4 505.4,119.4 506.2,119.4 507,119.4 507.8,119.7 508.6,120 509.4,119.7 510.2,119.4 511,120 511.8,121 512.6,121.2 513.4,121 514.2,121.2 515,121.2 515.8,120.9 516.6,120.4 517.4,119.9 518.2,119.4 519,118.9 519.8,118.4 520.6,117.8 521.4,117.4 522.2,118.1 523,120 523.8,121.7 524.6,122.2 525.4,121 526.2,119.7 527,119.2 527.8,119 528.6,118.9 529.4,119.3 530.2,120.2 531,120.8 531.8,120.4 532.6,119.7 533.4,119.4 534.2,119.6 535,119.7 535.8,119.1 536.6,118.4 537.4,118.1 538.2,117.9 539,118.2 539.8,119.2 540.6,120.3 541.4,120.1 542.2,119 543,118.6 543.8,119 544.6,119.3 545.4,119.1 546.2,119.1 547,119.3 547.8,118.8 548.6,118.1 549.4,118.3 550.2,119.4 551,120.2 551.8,119.8 552.6,118.7 553.4,118.1 554.2,118.2 555,118.4 555.8,118.6 556.6,118.5 557.4,117.8 558.2,117.1 559,116.8 559.8,117.4 560.6,117.8 561.4,117.9 562.2,118.4 563,119 563.8,119.1 564.6,118.6 565.4,118.1 566.2,117.7 567,117.1 567.8,116.6 568.6,116.7 569.4,117 570.2,117.2 571,117 571.8,116.8 572.6,116.8 573.4,117.3 574.2,118.1 575,118.5 575.8,118.1 576.6,117.1 577.4,116.1 578.2,115.6 579,115.6 579.8,115.3 580.6,114.9 581.4,115.3 582.2,116.3 583,117.1 583.8,117.2 584.6,117 585.4,116.5 586.2,116.1 587,115.6 587.8,115.2 588.6,115.5 589.4,116.2 590.2,116.6 591,116.6 591.8,116 592.6,115.1 593.4,114.5 594.2,114.6 595,115.3 595.8,116.2 596.6,116.6 597.4,116.5 598.2,115.9 599,115.3 599.8,114.7 600.6,114 601.4,113.8 602.2,114.1 603,114.6 603.8,114.7 604.6,114.3 605.4,114.2 606.2,114.3 607,113.7 607.8,113.2 608.6,114 609.4,115.2 610.2,115.7 611,115.3 611.8,114.3 612.6,113.5 613.4,112.7 614.2,111.9 615,112.2 615.8,113 616.6,113.2 617.4,113 618.2,113.1 619,113.1 619.8,112.6 620.6,112.1 621.4,112.2 622.2,112.3 623,112 623.7,111.9 624.5,111.9 625.3,111.7 626.1,111.5 626.9,112 627.7,113 628.5,114 629.3,114.2 630.1,113.9 630.9,113.6 631.7,113.7 632.5,113.9 633.3,113.3 634.1,112.7 634.9,112.6 635.7,112.5 636.5,112.6 637.3,113 638.1,113.5 638.9,113.4 639.7,112.5 640.5,111.4 641.3,111.2 642.1,112 642.9,113.1 643.7,113.8 644.5,113.9 645.3,113.9 646.1,114.1 646.9,113.8 647.7,113.7 648.5,113.6 649.3,114.1 650.1,115.2 650.9,115.6 651.7,115.1 652.5,114.3 653.3,114.5 654.1,115.2 654.9,115.7 655.7,116.1 656.5,116.6 657.3,117.3 658.1,118.1 658.9,119.2 659.7,120.7 660.5,122 661.3,122.7 662.1,123.2 662.9,123.9 663.7,124.7 664.5,125.6 665.3,126.9 666.1,128.4 666.9,129.6 667.7,130.8 668.5,132.2 669.3,134.1 670.1,136 670.9,137.6 671.7,139.2 672.5,140.8 673.3,142.7 674.1,144.7 674.9,146.7 675.7,148.7 676.5,150.8 677.3,153 678.1,155.2 678.9,157.6 679.7,160 680.5,162.4 681.3,164.8 682.1,167.2 682.9,169.6 683.7,172.1 684.5,174.6 685.3,177.2 686.1,179.8 686.9,182.3 687.7,184.7 688.5,187.1 689.3,189.5 690.1,191.8 690.9,194.2 691.7,196.5 692.5,198.8 693.3,201.1 694.1,203.3 694.9,205.5 695.7,207.7 696.5,209.8 697.3,211.9 698.1,213.9 698.9,215.9 699.7,217.8 700.5,219.7 701.3,221.5 702.1,223.3 702.9,225 703.7,226.6 704.5,228.2 705.3,229.8 706.1,231.2 706.9,232.7 707.7,234 708.5,235.4 709.3,236.6 710.1,237.8 710.9,239 711.7,240.1 712.5,241.1 713.3,242.1 714.1,243.1 714.9,244 715.7,244.9 716.5,245.7 717.3,246.5 718.1,247.2 718.9,247.9 719.7,248.6 720.5,249.2 721.3,249.8 722.1,250.4 722.9,251 723.7,251.5 724.5,252 725.3,252.4 726.1,252.8 726.9,253.3 727.7,253.6 728.5,254 729.3,254.4 730.1,254.7 730.9,255 731.7,255.3 732.5,255.5 733.3,255.8 734.1,256 734.9,256.3 735.7,256.5 736.5,256.7 737.3,256.9 738.1,257.1 738.9,257.2 739.7,257.4 740.5,257.6 741.3,257.7 742.1,257.8 742.9,258 743.7,258.1 744.5,258.2 745.3,258.3 746.1,258.4 746.9,258.5 747.7,258.6 748.5,258.7 749.3,258.7 750.1,258.8 750.9,258.9 751.7,258.9 752.5,259 753.3,259.1 754.1,259.1 754.9,259.2 755.7,259.2 756.5,259.2 757.3,259.3 758.1,259.3 758.9,259.4 759.7,259.4 760.5,259.4 761.3,259.5 762.1,259.5 762.9,259.5 763.7,259.5 764.5,259.6 765.3,259.6 766.1,259.6 766.9,259.6 767.7,259.7 768.5,259.7 769.3,259.7 770.1,259.7 770.9,259.7 771.7,259.7 772.5,259.7 773.3,259.8 774.1,259.8 774.9,259.8 775.7,259.8 776.5,259.8 777.3,259.8 778.1,259.8 778.9,259.8 779.7,259.8 780.5,259.8 781.3,259.8 782.1,259.9 782.9,259.9" stroke="#111" stroke-width="2.0" fill="none" stroke-linejoin="round"/>
<polyline points="463,120.9 464.6,120.9 466.2,120.9 467.8,120.9 469.4,120.9 471,120.9 472.6,120.9 474.2,120.9 475.8,120.9 477.4,120.9 479,120.9 480.6,120.9 482.2,120.9 483.8,120.9 485.4,120.8 487,120.8 488.6,120.8 490.2,120.8 491.8,120.8 493.4,120.7 495,120.7 496.6,120.7 498.2,120.7 499.8,120.6 501.4,120.6 503,120.6 504.6,120.5 506.2,120.5 507.8,120.4 509.4,120.4 511,120.4 512.6,120.3 514.2,120.3 515.8,120.2 517.4,120.2 519,120.1 520.6,120.1 522.2,120 523.8,120 525.4,119.9 527,119.8 528.6,119.8 530.2,119.7 531.8,119.7 533.4,119.6 535,119.5 536.6,119.5 538.2,119.4 539.8,119.3 541.4,119.2 543,119.2 544.6,119.1 546.2,119 547.8,118.9 549.4,118.9 551,118.8 552.6,118.7 554.2,118.6 555.8,118.5 557.4,118.4 559,118.3 560.6,118.2 562.2,118.1 563.8,118 565.4,117.9 567,117.8 568.6,117.7 570.2,117.6 571.8,117.5 573.4,117.4 575,117.3 576.6,117.2 578.2,117.1 579.8,117 581.4,116.9 583,116.8 584.6,116.6 586.2,116.5 587.8,116.4 589.4,116.3 591,116.2 592.6,116 594.2,115.9 595.8,115.8 597.4,115.7 599,115.5 600.6,115.4 602.2,115.3 603.8,115.1 605.4,115 607,114.8 608.6,114.7 610.2,114.6 611.8,114.4 613.4,114.3 615,114.1 616.6,114 618.2,113.8 619.8,113.7 621.4,113.5 623,113.4 624.5,113.2 626.1,113 627.7,112.9 629.3,112.7 630.9,112.6 632.5,112.4 634.1,112.2 635.7,112.1 637.3,111.9 638.9,111.7 640.5,111.5 642.1,111.4 643.7,111.2 645.3,111 646.9,110.9 648.5,110.7 650.1,110.6 651.7,110.4 653.3,110.3 654.9,110.1 656.5,110 658.1,109.9 659.7,109.9 661.3,109.8 662.9,109.8 664.5,109.8 666.1,109.9 667.7,110 669.3,110.2 670.9,110.5 672.5,110.9 674.1,111.3 675.7,111.9 677.3,112.6 678.9,113.5 680.5,114.5 682.1,115.7 683.7,117.1 685.3,118.8 686.9,120.6 688.5,122.7 690.1,125 691.7,127.5 693.3,130.3 694.9,133.4 696.5,136.7 698.1,140.3 699.7,144.1 701.3,148.2 702.9,152.5 704.5,156.9 706.1,161.6 707.7,166.3 709.3,171.2 710.9,176.2 712.5,181.2 714.1,185.9 715.7,190.5 717.3,195.1 718.9,199.6 720.5,204 722.1,208.3 723.7,212.3 725.3,216.2 726.9,219.9 728.5,223.4 730.1,226.7 731.7,229.7 733.3,232.6 734.9,235.2 736.5,237.6 738.1,239.8 739.7,241.8 741.3,243.6 742.9,245.3 744.5,246.8 746.1,248.2 747.7,249.5 749.3,250.6 750.9,251.6 752.5,252.5 754.1,253.3 755.7,254 757.3,254.7 758.9,255.2 760.5,255.8 762.1,256.2 763.7,256.6 765.3,257 766.9,257.3 768.5,257.6 770.1,257.9 771.7,258.1 773.3,258.3 774.9,258.5 776.5,258.7 778.1,258.8 779.7,258.9 781.3,259 782.9,259.2" stroke="#5a5a5a" stroke-width="1.3" fill="none" stroke-dasharray="3 2"/>
<polyline points="463,120.9 463.8,121 464.6,121.3 465.4,121.4 466.2,121.3 467,121.4 467.8,121.5 468.6,121.5 469.4,121.3 470.2,121.1 471,121.2 471.8,121.2 472.6,120.3 473.4,119.4 474.2,119.6 475,119.9 475.8,119.7 476.6,120 477.4,120.7 478.2,121.1 479,120.9 479.8,120.6 480.6,120.6 481.4,120.9 482.2,121.2 483,121.5 483.8,121.6 484.6,121.7 485.4,121.7 486.2,121.7 487,121.5 487.8,121.1 488.6,121.3 489.4,121.7 490.2,121.4 491,120.9 491.8,120.6 492.6,120.5 493.4,120.5 494.2,120.5 495,120.6 495.8,120.3 496.6,120.2 497.4,120.9 498.2,121.1 499,121 499.8,121.2 500.6,120.8 501.4,119.8 502.2,119.1 503,118.8 503.8,119.2 504.6,119.8 505.4,119.7 506.2,119.2 507,119.1 507.8,119.4 508.6,119.5 509.4,119.5 510.2,119.4 511,119.7 511.8,120.3 512.6,120.5 513.4,120.4 514.2,120.6 515,120.8 515.8,120.7 516.6,120.2 517.4,119.2 518.2,118.5 519,118.1 519.8,117.7 520.6,117.3 521.4,117.2 522.2,117.7 523,119.2 523.8,120.9 524.6,121.6 525.4,120.7 526.2,119.4 527,119 527.8,118.9 528.6,118.9 529.4,119.4 530.2,120.4 531,121.1 531.8,120.7 532.6,119.7 533.4,119.1 534.2,119 535,119 535.8,118.5 536.6,117.9 537.4,117.7 538.2,117.7 539,118.2 539.8,119.4 540.6,120.3 541.4,120.1 542.2,119 543,118.6 543.8,118.9 544.6,119.2 545.4,119.2 546.2,119.2 547,119 547.8,118.5 548.6,118 549.4,118.6 550.2,120 551,120.6 551.8,119.9 552.6,118.6 553.4,118.2 554.2,118.3 555,118.5 555.8,118.7 556.6,118.1 557.4,117 558.2,116.2 559,116.2 559.8,117.2 560.6,117.9 561.4,118.1 562.2,118.9 563,119.6 563.8,119.3 564.6,118.2 565.4,117.6 566.2,117.3 567,116.8 567.8,116.7 568.6,117.1 569.4,117.6 570.2,117.7 571,117.3 571.8,116.9 572.6,116.7 573.4,116.9 574.2,117.5 575,118.1 575.8,117.9 576.6,117 577.4,116.3 578.2,116 579,116 579.8,115.5 580.6,115.1 581.4,115.5 582.2,116.4 583,117.1 583.8,117.4 584.6,117.1 585.4,116.3 586.2,115.4 587,115.1 587.8,115.3 588.6,116 589.4,116.6 590.2,116.9 591,116.7 591.8,116 592.6,115.1 593.4,114.6 594.2,114.8 595,115.6 595.8,116.4 596.6,116.9 597.4,116.7 598.2,116.1 599,115.3 599.8,114.6 600.6,114.1 601.4,113.9 602.2,113.9 603,114 603.8,114 604.6,113.8 605.4,114 606.2,114.1 607,113.4 607.8,112.8 608.6,113.6 609.4,114.8 610.2,115.4 611,115.1 611.8,114.3 612.6,113.8 613.4,113 614.2,112.1 615,112.2 615.8,112.9 616.6,113.1 617.4,113 618.2,113.1 619,113.2 619.8,113 620.6,112.6 621.4,112.5 622.2,112.3 623,112 623.7,111.8 624.5,111.8 625.3,111.5 626.1,111.2 626.9,111.8 627.7,113 628.5,113.8 629.3,113.9 630.1,113.7 630.9,113.4 631.7,113.3 632.5,113.3 633.3,112.7 634.1,112.2 634.9,112.1 635.7,112 636.5,111.8 637.3,112.4 638.1,113.2 638.9,113.1 639.7,111.8 640.5,110.3 641.3,110.1 642.1,111.2 642.9,112.3 643.7,112.7 644.5,112.7 645.3,112.8 646.1,112.3 646.9,111.2 647.7,110.3 648.5,110.3 649.3,110.8 650.1,111.4 650.9,111.8 651.7,111.1 652.5,109.8 653.3,109.1 654.1,109.1 654.9,109.1 655.7,109 656.5,108.9 657.3,109.2 658.1,109.7 658.9,109.9 659.7,110.5 660.5,111.1 661.3,111 662.1,110.3 662.9,109.7 663.7,109.6 664.5,109.6 665.3,109.6 666.1,110 666.9,109.8 667.7,109.1 668.5,109 669.3,110 670.1,110.9 670.9,111 671.7,110.4 672.5,110.1 673.3,110.5 674.1,111.2 674.9,111.7 675.7,111.7 676.5,111.7 677.3,112 678.1,112.8 678.9,113.9 679.7,115.1 680.5,115.8 681.3,116.1 682.1,115.9 682.9,115.8 683.7,116.3 684.5,117.6 685.3,118.8 686.1,119.8 686.9,120.5 687.7,121.3 688.5,122.3 689.3,123.6 690.1,125.2 690.9,126.9 691.7,128.2 692.5,129.3 693.3,130.5 694.1,131.9 694.9,133.5 695.7,135.1 696.5,136.7 697.3,138.6 698.1,140.5 698.9,142.4 699.7,144.3 700.5,146.2 701.3,148.1 702.1,150.3 702.9,152.5 703.7,154.8 704.5,157 705.3,159.3 706.1,161.6 706.9,163.9 707.7,166.3 708.5,168.8 709.3,171.2 710.1,173.7 710.9,176.2 711.7,178.7 712.5,181.2 713.3,183.5 714.1,185.9 714.9,188.2 715.7,190.5 716.5,192.8 717.3,195.1 718.1,197.4 718.9,199.6 719.7,201.8 720.5,204 721.3,206.2 722.1,208.3 722.9,210.3 723.7,212.3 724.5,214.3 725.3,216.2 726.1,218.1 726.9,219.9 727.7,221.7 728.5,223.4 729.3,225.1 730.1,226.7 730.9,228.2 731.7,229.7 732.5,231.2 733.3,232.6 734.1,233.9 734.9,235.2 735.7,236.4 736.5,237.6 737.3,238.7 738.1,239.8 738.9,240.8 739.7,241.8 740.5,242.7 741.3,243.6 742.1,244.5 742.9,245.3 743.7,246.1 744.5,246.8 745.3,247.5 746.1,248.2 746.9,248.9 747.7,249.5 748.5,250 749.3,250.6 750.1,251.1 750.9,251.6 751.7,252 752.5,252.5 753.3,252.9 754.1,253.3 754.9,253.7 755.7,254 756.5,254.3 757.3,254.7 758.1,255 758.9,255.2 759.7,255.5 760.5,255.8 761.3,256 762.1,256.2 762.9,256.4 763.7,256.6 764.5,256.8 765.3,257 766.1,257.2 766.9,257.3 767.7,257.5 768.5,257.6 769.3,257.8 770.1,257.9 770.9,258 771.7,258.1 772.5,258.2 773.3,258.3 774.1,258.4 774.9,258.5 775.7,258.6 776.5,258.7 777.3,258.7 778.1,258.8 778.9,258.9 779.7,258.9 780.5,259 781.3,259 782.1,259.1 782.9,259.2" stroke="#111" stroke-width="2.0" fill="none" stroke-linejoin="round"/></g>
<line x1="463" y1="259.6" x2="782.9" y2="259.6" stroke="#111" stroke-width="2"/>
<rect x="463" y="8.4" width="319.9" height="251.5" fill="none" stroke="#111" stroke-width="1.2"/>
<path d="M463 232h3.2M782.9 232h-3.2M463 204.1h3.2M782.9 204.1h-3.2M463 176.1h3.2M782.9 176.1h-3.2M463 148.2h3.2M782.9 148.2h-3.2M463 120.2h3.2M782.9 120.2h-3.2M463 92.3h3.2M782.9 92.3h-3.2M463 64.3h3.2M782.9 64.3h-3.2M463 36.4h3.2M782.9 36.4h-3.2M527 259.9v-3.2M527 8.4v3.2M591 259.9v-3.2M591 8.4v3.2M654.9 259.9v-3.2M654.9 8.4v3.2M718.9 259.9v-3.2M718.9 8.4v3.2" stroke="#222" stroke-width="1.1" fill="none"/>
<g font-family='"Liberation Sans", Arial, Helvetica, sans-serif' font-size="14.4" fill="#111"><text x="456.4" y="264" text-anchor="end">0</text><text x="456.4" y="236.06" text-anchor="end">0.2</text><text x="456.4" y="208.11" text-anchor="end">0.4</text><text x="456.4" y="180.17" text-anchor="end">0.6</text><text x="456.4" y="152.22" text-anchor="end">0.8</text><text x="456.4" y="124.28" text-anchor="end">1</text><text x="456.4" y="96.33" text-anchor="end">1.2</text><text x="456.4" y="68.39" text-anchor="end">1.4</text><text x="456.4" y="40.44" text-anchor="end">1.6</text><text x="456.4" y="12.5" text-anchor="end">1.8</text><text x="463" y="274.3" text-anchor="middle">0</text><text x="528.08" y="274.3" text-anchor="middle">0.2</text><text x="592.06" y="274.3" text-anchor="middle">0.4</text><text x="656.04" y="274.3" text-anchor="middle">0.6</text><text x="720.02" y="274.3" text-anchor="middle">0.8</text><text x="782.9" y="274.3" text-anchor="middle">1</text></g>
<g fill="#fff"><rect x="449.26" y="123.13" width="2.40" height="2.35"/><rect x="453.62" y="123.13" width="3.41" height="2.35"/><rect x="437.25" y="95.18" width="2.40" height="2.35"/><rect x="441.61" y="95.18" width="3.41" height="2.35"/><rect x="437.25" y="67.24" width="2.40" height="2.35"/><rect x="441.61" y="67.24" width="3.41" height="2.35"/><rect x="437.25" y="39.29" width="2.40" height="2.35"/><rect x="441.61" y="39.29" width="3.41" height="2.35"/><rect x="437.25" y="11.35" width="2.40" height="2.35"/><rect x="441.61" y="11.35" width="3.41" height="2.35"/><rect x="779.76" y="273.15" width="2.40" height="2.35"/><rect x="784.13" y="273.15" width="3.41" height="2.35"/></g>
<line x1="484.2" y1="100.5" x2="559.7" y2="100.5" stroke="#333" stroke-width="1.3"/>
<path d="M565.7 100.5L554.3 96.4L557.7 100.5L554.3 104.6Z" fill="#111"/>
<text x="522.2" y="90.9" text-anchor="middle" font-family='"Liberation Sans", Arial, Helvetica, sans-serif' font-size="14.2" fill="#111">t</text>
<text x="630.1" y="296.6" text-anchor="middle" font-family='"Liberation Sans", Arial, Helvetica, sans-serif' font-size="17.45" fill="#111">Distance from limbus x</text>
<text transform="translate(423.4 131.7) rotate(-90)" text-anchor="middle" font-family='"Liberation Sans", Arial, Helvetica, sans-serif' font-size="17.45" fill="#111">E(x,t)</text>
<g><polyline points="68.5,632.9 70.5,632.7 72.5,632.1 74.5,630.7 76.5,627.5 78.5,621.2 80.5,610.3 82.5,593.4 84.5,570.8 86.5,544.8 88.5,520.2 90.5,502.7 92.5,497.3 94.5,502.2 96.5,514.5 98.4,532.1 100.4,552.2 102.4,572.2 104.4,589.9 106.4,604.3 108.4,615.1 110.4,622.5 112.4,627.2 114.4,630 116.4,631.5 118.4,632.3 120.4,632.7 122.4,632.9 124.4,633" stroke="#5a5a5a" stroke-width="1.3" fill="none" stroke-dasharray="3 2"/>
<polyline points="83.1,633 85.1,632.9 87.1,632.8 89.1,632.5 91,631.9 93,630.9 95,629.2 97,626.5 99,622.3 101,616.3 103,608.5 104.9,598.8 106.9,588 108.9,576.7 110.9,566.5 112.9,558.5 114.9,554.1 116.8,553.6 118.8,555.6 120.8,559.7 122.8,565.5 124.8,572.5 126.8,580.3 128.7,588.3 130.7,596.2 132.7,603.5 134.7,610 136.7,615.6 138.7,620.2 140.7,623.8 142.6,626.6 144.6,628.7 146.6,630.1 148.6,631.2 150.6,631.9 152.6,632.3 154.5,632.6 156.5,632.8 158.5,632.9 160.5,632.9 162.5,633" stroke="#5a5a5a" stroke-width="1.3" fill="none" stroke-dasharray="3 2"/>
<polyline points="102,633 104,632.9 106,632.9 108,632.7 109.9,632.5 111.9,632.2 113.9,631.6 115.9,630.6 117.9,629.2 119.9,627.1 121.9,624.2 123.9,620.5 125.9,615.8 127.8,610.3 129.8,604.1 131.8,597.6 133.8,591.2 135.8,585.6 137.8,581.1 139.8,578.4 141.8,577.7 143.8,578.4 145.7,580.1 147.7,582.8 149.7,586.3 151.7,590.3 153.7,594.8 155.7,599.4 157.7,604.1 159.7,608.6 161.7,612.8 163.6,616.6 165.6,619.9 167.6,622.8 169.6,625.2 171.6,627.1 173.6,628.7 175.6,629.9 177.6,630.8 179.6,631.5 181.5,631.9 183.5,632.3 185.5,632.5 187.5,632.7 189.5,632.8 191.5,632.9 193.5,632.9 195.5,633 197.5,633" stroke="#5a5a5a" stroke-width="1.3" fill="none" stroke-dasharray="3 2"/>
<polyline points="123.3,633 125.3,633 127.3,632.9 129.3,632.9 131.3,632.7 133.3,632.6 135.3,632.3 137.3,631.8 139.3,631.2 141.2,630.2 143.2,628.9 145.2,627.2 147.2,625 149.2,622.2 151.2,618.9 153.2,615.1 155.2,611 157.2,606.8 159.2,602.6 161.2,598.7 163.2,595.6 165.2,593.3 167.2,592.1 169.2,592 171.2,592.6 173.2,593.8 175.2,595.6 177.2,597.8 179.2,600.3 181.2,603.2 183.2,606.2 185.2,609.2 187.2,612.3 189.2,615.2 191.1,617.9 193.1,620.4 195.1,622.7 197.1,624.6 199.1,626.3 201.1,627.8 203.1,629 205.1,629.9 207.1,630.7 209.1,631.3 211.1,631.8 213.1,632.1 215.1,632.4 217.1,632.6 219.1,632.7 221.1,632.8 223.1,632.9 225.1,632.9 227.1,632.9 229.1,633 231.1,633 233.1,633" stroke="#5a5a5a" stroke-width="1.3" fill="none" stroke-dasharray="3 2"/>
<polyline points="143.8,633 145.8,633 147.8,632.9 149.8,632.9 151.8,632.8 153.8,632.7 155.8,632.5 157.8,632.3 159.8,631.9 161.8,631.3 163.8,630.6 165.8,629.6 167.8,628.3 169.8,626.6 171.8,624.6 173.8,622.2 175.7,619.5 177.7,616.5 179.7,613.2 181.7,609.9 183.7,606.7 185.7,603.7 187.7,601.2 189.7,599.3 191.7,598.1 193.7,597.8 195.7,598.1 197.7,598.8 199.7,600 201.7,601.5 203.7,603.4 205.6,605.5 207.6,607.9 209.6,610.3 211.6,612.7 213.6,615.2 215.6,617.5 217.6,619.8 219.6,621.8 221.6,623.7 223.6,625.3 225.6,626.8 227.6,628 229.6,629.1 231.6,629.9 233.6,630.6 235.6,631.2 237.5,631.7 239.5,632 241.5,632.3 243.5,632.5 245.5,632.6 247.5,632.7 249.5,632.8 251.5,632.9 253.5,632.9 255.5,632.9 257.5,633 259.5,633 261.5,633" stroke="#5a5a5a" stroke-width="1.3" fill="none" stroke-dasharray="3 2"/>
<polyline points="164.9,633 166.9,633 168.9,632.9 170.9,632.9 172.9,632.9 174.9,632.8 176.9,632.7 178.9,632.5 180.9,632.2 182.9,631.9 184.9,631.4 186.9,630.7 188.9,629.8 190.9,628.8 192.9,627.4 194.9,625.7 196.9,623.8 198.8,621.6 200.8,619.1 202.8,616.5 204.8,613.8 206.8,611 208.8,608.4 210.8,606 212.8,604 214.8,602.4 216.8,601.5 218.8,601.1 220.8,601.3 222.8,601.9 224.8,602.9 226.8,604.1 228.8,605.7 230.8,607.5 232.8,609.5 234.8,611.5 236.8,613.7 238.8,615.8 240.8,617.9 242.8,619.9 244.8,621.8 246.8,623.5 248.8,625.1 250.8,626.4 252.7,627.6 254.7,628.7 256.7,629.6 258.7,630.3 260.7,630.9 262.7,631.4 264.7,631.8 266.7,632.1 268.7,632.3 270.7,632.5 272.7,632.6 274.7,632.7 276.7,632.8 278.7,632.9 280.7,632.9 282.7,632.9 284.7,633 286.7,633 288.7,633 290.7,633" stroke="#5a5a5a" stroke-width="1.3" fill="none" stroke-dasharray="3 2"/>
<polyline points="186.3,633 188.3,633 190.3,633 192.3,632.9 194.3,632.9 196.3,632.8 198.3,632.8 200.3,632.6 202.3,632.5 204.3,632.2 206.3,631.9 208.3,631.5 210.3,630.9 212.3,630.2 214.3,629.3 216.3,628.2 218.2,626.8 220.2,625.3 222.2,623.6 224.2,621.6 226.2,619.5 228.2,617.3 230.2,615.1 232.2,612.9 234.2,610.8 236.2,609 238.2,607.4 240.2,606.3 242.2,605.6 244.2,605.3 246.2,605.5 248.2,606 250.2,606.8 252.1,607.8 254.1,609.1 256.1,610.6 258.1,612.3 260.1,614 262.1,615.8 264.1,617.6 266.1,619.4 268.1,621.1 270.1,622.7 272.1,624.2 274.1,625.6 276.1,626.8 278.1,627.9 280.1,628.8 282.1,629.7 284,630.3 286,630.9 288,631.4 290,631.7 292,632 294,632.3 296,632.5 298,632.6 300,632.7 302,632.8 304,632.9 306,632.9 308,632.9 310,633 312,633 314,633 315.9,633 317.9,633" stroke="#5a5a5a" stroke-width="1.3" fill="none" stroke-dasharray="3 2"/>
<polyline points="208.1,633 210.1,633 212.1,633 214,632.9 216,632.9 218,632.9 220,632.8 222,632.7 224,632.6 226,632.4 228,632.2 230,631.9 232,631.5 234,631 235.9,630.4 237.9,629.6 239.9,628.7 241.9,627.6 243.9,626.4 245.9,624.9 247.9,623.4 249.9,621.6 251.9,619.8 253.9,618 255.8,616.2 257.8,614.4 259.8,612.8 261.8,611.3 263.8,610.2 265.8,609.3 267.8,608.8 269.8,608.7 271.8,608.9 273.8,609.3 275.7,610 277.7,611 279.7,612.1 281.7,613.4 283.7,614.8 285.7,616.3 287.7,617.9 289.7,619.4 291.7,621 293.7,622.5 295.7,623.9 297.6,625.2 299.6,626.4 301.6,627.4 303.6,628.4 305.6,629.2 307.6,629.9 309.6,630.5 311.6,631.1 313.6,631.5 315.6,631.8 317.5,632.1 319.5,632.3 321.5,632.5 323.5,632.6 325.5,632.7 327.5,632.8 329.5,632.9 331.5,632.9 333.5,632.9 335.5,633 337.4,633 339.4,633 341.4,633 343.4,633" stroke="#5a5a5a" stroke-width="1.3" fill="none" stroke-dasharray="3 2"/>
<polyline points="230,633 232,633 234,633 236,633 238,632.9 240,632.9 242,632.8 244,632.8 246,632.7 247.9,632.6 249.9,632.4 251.9,632.2 253.9,631.9 255.9,631.5 257.9,631 259.9,630.4 261.9,629.7 263.8,628.9 265.8,627.9 267.8,626.8 269.8,625.6 271.8,624.2 273.8,622.7 275.8,621.1 277.8,619.5 279.8,617.9 281.7,616.3 283.7,614.8 285.7,613.4 287.7,612.3 289.7,611.4 291.7,610.7 293.7,610.4 295.7,610.4 297.6,610.6 299.6,611.1 301.6,611.8 303.6,612.7 305.6,613.8 307.6,615.1 309.6,616.4 311.6,617.8 313.5,619.2 315.5,620.7 317.5,622.1 319.5,623.4 321.5,624.7 323.5,625.9 325.5,627 327.5,628 329.5,628.8 331.4,629.6 333.4,630.2 335.4,630.8 337.4,631.2 339.4,631.6 341.4,631.9 343.4,632.2 345.4,632.4 347.3,632.5 349.3,632.7 351.3,632.7 353.3,632.8 355.3,632.9 357.3,632.9 359.3,632.9 361.3,633 363.3,633 365.2,633 367.2,633 369.2,633" stroke="#5a5a5a" stroke-width="1.3" fill="none" stroke-dasharray="3 2"/>
<polyline points="252.2,633 254.2,633 256.2,633 258.2,633 260.2,632.9 262.2,632.9 264.2,632.9 266.2,632.8 268.2,632.7 270.2,632.6 272.2,632.5 274.2,632.3 276.2,632.1 278.2,631.8 280.2,631.5 282.1,631.1 284.1,630.5 286.1,629.9 288.1,629.2 290.1,628.3 292.1,627.3 294.1,626.3 296.1,625.1 298.1,623.8 300.1,622.5 302.1,621.1 304.1,619.7 306.1,618.4 308.1,617.1 310.1,615.9 312.1,614.9 314.1,614 316.1,613.4 318.1,613 320.1,612.9 322.1,613 324,613.3 326,613.9 328,614.6 330,615.5 332,616.6 334,617.7 336,619 338,620.2 340,621.5 342,622.8 344,624 346,625.2 348,626.3 350,627.3 352,628.2 354,629 356,629.7 358,630.3 360,630.9 362,631.3 364,631.7 365.9,632 367.9,632.2 369.9,632.4 371.9,632.5 373.9,632.7 375.9,632.8 377.9,632.8 379.9,632.9 381.9,632.9 383.9,632.9 385.9,633" stroke="#5a5a5a" stroke-width="1.3" fill="none" stroke-dasharray="3 2"/>
<polyline points="68.5,632.9 69.5,632.8 70.5,632.7 71.5,632.5 72.5,632.1 73.5,631.6 74.5,630 75.5,628.6 76.5,626.3 77.5,624.4 78.5,623.5 79.5,618.2 80.5,608.9 81.5,600.5 82.5,593.1 83.5,581.4 84.5,569 85.5,562 86.5,555 87.5,542.4 88.5,527.8 89.5,514 90.5,502.7 91.5,494.3 92.5,497.3 93.5,506.1 94.5,512.1 95.5,514.3 96.5,512.7 97.4,515.8 98.4,526.7 99.4,539.5 100.4,551.2 101.4,557.7 102.4,565.6 103.4,577.9 104.4,586 105.4,596 106.4,608.8 107.4,616 108.4,617.8 109.4,619 110.4,622.2 111.4,624.6 112.4,626.1 113.4,627.9 114.4,629.4 115.4,630.3 116.4,631.5 117.4,632 118.4,632.3 119.4,632.5 120.4,632.7 121.4,632.8 122.4,632.9 123.4,632.9 124.4,633" stroke="#111" stroke-width="2.0" fill="none" stroke-linejoin="round"/>
<polyline points="83.1,633 84.1,632.9 85.1,632.9 86.1,632.8 87.1,632.8 88.1,632.6 89.1,632.5 90.1,632.2 91,631.9 92,631.5 93,632.2 94,630.5 95,628.5 96,626.5 97,625.1 98,623.5 99,621.4 100,618.6 101,614.5 102,609.6 103,606.6 103.9,606.5 104.9,605.4 105.9,599.8 106.9,594.7 107.9,592.1 108.9,584.7 109.9,576.7 110.9,573.5 111.9,567.9 112.9,557.8 113.9,553.9 114.9,554.9 115.8,553.4 116.8,554.6 117.8,556.5 118.8,556.1 119.8,562 120.8,568.5 121.8,571.2 122.8,573 123.8,574.9 124.8,573.8 125.8,573.3 126.8,577.5 127.8,581.6 128.7,585.1 129.7,590.4 130.7,594.6 131.7,598.8 132.7,602.7 133.7,606.1 134.7,609.7 135.7,613.7 136.7,617.4 137.7,619.2 138.7,620.4 139.7,623.1 140.7,626.1 141.6,627.7 142.6,628.1 143.6,628.1 144.6,628.5 145.6,629.6 146.6,630.8 147.6,632.1 148.6,633 149.6,631.5 150.6,631.9 151.6,632.1 152.6,632.3 153.6,632.5 154.5,632.6 155.5,632.7 156.5,632.8 157.5,632.8 158.5,632.9 159.5,632.9 160.5,632.9 161.5,632.9 162.5,633 163.5,633" stroke="#111" stroke-width="2.0" fill="none" stroke-linejoin="round"/>
<polyline points="102,633 103,633 104,632.9 105,632.9 106,632.9 107,632.8 108,632.7 109,632.7 109.9,632.5 110.9,632.4 111.9,632.2 112.9,631.9 113.9,631.6 114.9,630.3 115.9,630.3 116.9,629.7 117.9,628.6 118.9,627.4 119.9,626.5 120.9,625.9 121.9,624.7 122.9,620.8 123.9,617.2 124.9,617.1 125.9,616.4 126.9,613.2 127.8,613.5 128.8,614 129.8,607.6 130.8,599 131.8,592.6 132.8,587.7 133.8,586 134.8,588 135.8,590.2 136.8,586.4 137.8,578.9 138.8,575.6 139.8,576.9 140.8,576.8 141.8,577.7 142.8,582.9 143.8,584.3 144.8,580.4 145.7,579.1 146.7,584.1 147.7,588.9 148.7,589.1 149.7,588.6 150.7,587.7 151.7,588.5 152.7,590.3 153.7,592.8 154.7,595.4 155.7,595.7 156.7,596.5 157.7,599.3 158.7,602.9 159.7,606.8 160.7,609.2 161.7,612.5 162.6,616.4 163.6,618.5 164.6,620.1 165.6,621.1 166.6,621 167.6,621.5 168.6,623.8 169.6,626.3 170.6,627.8 171.6,627.1 172.6,626.1 173.6,626.8 174.6,628.6 175.6,630.6 176.6,631.8 177.6,632.3 178.6,633 179.6,631.5 180.5,631.7 181.5,631.9 182.5,632.1 183.5,632.3 184.5,632.4 185.5,632.5 186.5,632.6 187.5,632.7 188.5,632.8 189.5,632.8 190.5,632.9 191.5,632.9 192.5,632.9 193.5,632.9 194.5,632.9 195.5,633 196.5,633 197.5,633 198.4,633" stroke="#111" stroke-width="2.0" fill="none" stroke-linejoin="round"/>
<polyline points="123.3,633 124.3,633 125.3,633 126.3,632.9 127.3,632.9 128.3,632.9 129.3,632.9 130.3,632.8 131.3,632.7 132.3,632.7 133.3,632.6 134.3,632.4 135.3,632.3 136.3,632.1 137.3,631.8 138.3,631.5 139.3,632.2 140.2,631.7 141.2,630.5 142.2,630.5 143.2,630.8 144.2,628.7 145.2,626.5 146.2,626.2 147.2,626.1 148.2,625.3 149.2,623.7 150.2,623.4 151.2,622 152.2,617.1 153.2,612.6 154.2,613.3 155.2,613.5 156.2,609.4 157.2,604.8 158.2,603.4 159.2,606.5 160.2,607.5 161.2,603.1 162.2,597.8 163.2,594.7 164.2,595.4 165.2,599 166.2,599.1 167.2,595.2 168.2,591.9 169.2,592.8 170.2,596 171.2,596.2 172.2,591.9 173.2,587.4 174.2,586.7 175.2,590.4 176.2,594.9 177.2,600.4 178.2,603.8 179.2,604.9 180.2,606.1 181.2,607.5 182.2,607.9 183.2,608.1 184.2,608.4 185.2,608.7 186.2,610 187.2,610.5 188.2,610.6 189.2,612.8 190.2,615.7 191.1,617.6 192.1,618.8 193.1,620.1 194.1,621 195.1,620 196.1,619.8 197.1,622.3 198.1,626.4 199.1,628.9 200.1,628.7 201.1,627.7 202.1,627.7 203.1,628.7 204.1,629 205.1,629 206.1,629.5 207.1,629.7 208.1,630.5 209.1,631.8 210.1,631.5 211.1,631.8 212.1,631.9 213.1,632.1 214.1,632.3 215.1,632.4 216.1,632.5 217.1,632.6 218.1,632.6 219.1,632.7 220.1,632.8 221.1,632.8 222.1,632.8 223.1,632.9 224.1,632.9 225.1,632.9 226.1,632.9 227.1,632.9 228.1,633 229.1,633 230.1,633 231.1,633 232.1,633 233.1,633" stroke="#111" stroke-width="2.0" fill="none" stroke-linejoin="round"/>
<polyline points="143.8,633 144.8,633 145.8,633 146.8,633 147.8,632.9 148.8,632.9 149.8,632.9 150.8,632.9 151.8,632.8 152.8,632.8 153.8,632.7 154.8,632.6 155.8,632.5 156.8,632.4 157.8,632.3 158.8,632.1 159.8,631.9 160.8,631.6 161.8,631.3 162.8,631.6 163.8,630.4 164.8,628.9 165.8,627.5 166.8,627.9 167.8,628.7 168.8,628.2 169.8,628.1 170.8,627.7 171.8,627.1 172.8,624.9 173.8,622 174.7,621.6 175.7,621.6 176.7,620 177.7,616.7 178.7,614.4 179.7,615.4 180.7,615 181.7,612.8 182.7,611.6 183.7,608 184.7,603.6 185.7,603 186.7,604.4 187.7,605 188.7,604.3 189.7,601.5 190.7,596.8 191.7,593.1 192.7,594 193.7,597.8 194.7,599.4 195.7,600.2 196.7,602.8 197.7,603.2 198.7,603.3 199.7,604.8 200.7,605 201.7,605.3 202.7,607.9 203.7,609 204.7,608.2 205.6,608.4 206.6,608.7 207.6,608 208.6,609.4 209.6,611.9 210.6,614 211.6,615.8 212.6,615.7 213.6,614.3 214.6,615.1 215.6,616.6 216.6,617.8 217.6,619.6 218.6,620.7 219.6,622.3 220.6,623.8 221.6,624.8 222.6,626 223.6,626.4 224.6,626.6 225.6,625.9 226.6,625.5 227.6,627 228.6,628.9 229.6,630 230.6,631 231.6,632.1 232.6,632.2 233.6,631.4 234.6,631.7 235.6,632.6 236.6,631.4 237.5,631.7 238.5,631.8 239.5,632 240.5,632.1 241.5,632.3 242.5,632.4 243.5,632.5 244.5,632.6 245.5,632.6 246.5,632.7 247.5,632.7 248.5,632.8 249.5,632.8 250.5,632.9 251.5,632.9 252.5,632.9 253.5,632.9 254.5,632.9 255.5,632.9 256.5,633 257.5,633 258.5,633 259.5,633 260.5,633 261.5,633 262.5,633" stroke="#111" stroke-width="2.0" fill="none" stroke-linejoin="round"/>
<polyline points="164.9,633 165.9,633 166.9,633 167.9,633 168.9,632.9 169.9,632.9 170.9,632.9 171.9,632.9 172.9,632.9 173.9,632.8 174.9,632.8 175.9,632.7 176.9,632.7 177.9,632.6 178.9,632.5 179.9,632.4 180.9,632.2 181.9,632.1 182.9,631.9 183.9,631.6 184.9,631.4 185.9,633 186.9,632.5 187.9,630.9 188.9,628.9 189.9,626.7 190.9,625.8 191.9,625.7 192.9,624.7 193.9,623.9 194.9,624.1 195.9,623.7 196.9,622.8 197.8,622.9 198.8,623.2 199.8,622.5 200.8,620.7 201.8,618.6 202.8,615.9 203.8,613.2 204.8,610.1 205.8,609.5 206.8,610.3 207.8,608.5 208.8,605.9 209.8,603.2 210.8,602.3 211.8,602.3 212.8,602 213.8,601.8 214.8,600.5 215.8,599.4 216.8,599.5 217.8,600.3 218.8,601.1 219.8,601.3 220.8,601.3 221.8,599.5 222.8,598.1 223.8,598.5 224.8,597.8 225.8,596.4 226.8,599.9 227.8,604 228.8,605 229.8,604.5 230.8,605.6 231.8,607.6 232.8,610 233.8,611.1 234.8,611.2 235.8,611.9 236.8,614.4 237.8,616.5 238.8,617.8 239.8,619.8 240.8,620.6 241.8,620.8 242.8,622 243.8,622.1 244.8,623.1 245.8,624.1 246.8,623.8 247.8,624.1 248.8,625.5 249.8,625.8 250.8,625.3 251.8,626 252.7,627.9 253.7,629.8 254.7,630.6 255.7,630.1 256.7,629.1 257.7,628.9 258.7,629 259.7,629.5 260.7,630.7 261.7,631.6 262.7,631.4 263.7,631.6 264.7,631.8 265.7,631.9 266.7,632.1 267.7,632.2 268.7,632.3 269.7,632.4 270.7,632.5 271.7,632.6 272.7,632.6 273.7,632.7 274.7,632.7 275.7,632.8 276.7,632.8 277.7,632.9 278.7,632.9 279.7,632.9 280.7,632.9 281.7,632.9 282.7,632.9 283.7,633 284.7,633 285.7,633 286.7,633 287.7,633 288.7,633 289.7,633 290.7,633" stroke="#111" stroke-width="2.0" fill="none" stroke-linejoin="round"/>
<polyline points="186.3,633 187.3,633 188.3,633 189.3,633 190.3,633 191.3,632.9 192.3,632.9 193.3,632.9 194.3,632.9 195.3,632.9 196.3,632.8 197.3,632.8 198.3,632.8 199.3,632.7 200.3,632.6 201.3,632.5 202.3,632.5 203.3,632.3 204.3,632.2 205.3,632.1 206.3,631.9 207.3,631.7 208.3,631.5 209.3,633 210.3,633 211.3,632.3 212.3,630.2 213.3,629.5 214.3,629.6 215.3,627.6 216.3,624.9 217.3,625.3 218.2,627.5 219.2,628.3 220.2,628.6 221.2,627.3 222.2,622.7 223.2,617.8 224.2,617 225.2,618.8 226.2,619.4 227.2,617.9 228.2,617.5 229.2,619.6 230.2,618.1 231.2,612.4 232.2,608.9 233.2,607.5 234.2,607 235.2,607.2 236.2,607.9 237.2,605.9 238.2,603.1 239.2,603.6 240.2,605.5 241.2,606.6 242.2,609 243.2,609.4 244.2,605.3 245.2,602.2 246.2,604.1 247.2,606.7 248.2,605.8 249.2,606.4 250.2,610.7 251.1,612.5 252.1,608.5 253.1,606.4 254.1,609.9 255.1,614.8 256.1,614.7 257.1,610.8 258.1,609.5 259.1,611.3 260.1,613.5 261.1,615.2 262.1,617.1 263.1,618.8 264.1,619.5 265.1,619.3 266.1,618.9 267.1,618.5 268.1,619.5 269.1,620.8 270.1,621.4 271.1,623 272.1,623.1 273.1,622.5 274.1,624.5 275.1,626.9 276.1,625.9 277.1,624.8 278.1,626.9 279.1,630.2 280.1,630.9 281.1,630.2 282.1,629.5 283,629.2 284,629.5 285,629.6 286,630.7 287,632.6 288,631.4 289,631.6 290,631.7 291,631.9 292,632 293,632.2 294,632.3 295,632.4 296,632.5 297,632.5 298,632.6 299,632.7 300,632.7 301,632.8 302,632.8 303,632.8 304,632.9 305,632.9 306,632.9 307,632.9 308,632.9 309,632.9 310,633 311,633 312,633 313,633 314,633 314.9,633 315.9,633 316.9,633 317.9,633" stroke="#111" stroke-width="2.0" fill="none" stroke-linejoin="round"/>
<polyline points="208.1,633 209.1,633 210.1,633 211.1,633 212.1,633 213.1,633 214,632.9 215,632.9 216,632.9 217,632.9 218,632.9 219,632.8 220,632.8 221,632.8 222,632.7 223,632.7 224,632.6 225,632.5 226,632.4 227,632.3 228,632.2 229,632.1 230,631.9 231,631.7 232,631.5 233,630 234,630.5 234.9,630.3 235.9,629 236.9,628.7 237.9,629.1 238.9,628.4 239.9,627.3 240.9,626.5 241.9,625.6 242.9,624.4 243.9,623.6 244.9,624.4 245.9,625.2 246.9,624.2 247.9,623.7 248.9,623.7 249.9,622.7 250.9,621.4 251.9,618.1 252.9,615.8 253.9,615.9 254.9,615.1 255.8,614.3 256.8,615.1 257.8,615.9 258.8,614 259.8,611.8 260.8,610.6 261.8,609.7 262.8,608.5 263.8,607.9 264.8,606.8 265.8,606 266.8,606.4 267.8,606.8 268.8,607.5 269.8,608.7 270.8,609 271.8,607.3 272.8,606.5 273.8,607.6 274.8,608.5 275.7,610.3 276.7,612.1 277.7,610.7 278.7,610.4 279.7,614.1 280.7,616.9 281.7,615.9 282.7,613.6 283.7,612.1 284.7,613.9 285.7,616.7 286.7,618.1 287.7,618.9 288.7,620.5 289.7,621.7 290.7,621.8 291.7,621.4 292.7,621.5 293.7,623.3 294.7,624.8 295.7,625.9 296.6,625.9 297.6,625.5 298.6,626.4 299.6,626.8 300.6,627.4 301.6,626.8 302.6,627 303.6,629.9 304.6,630.4 305.6,628.9 306.6,629.1 307.6,630.3 308.6,631 309.6,631.2 310.6,630.4 311.6,629.9 312.6,630.5 313.6,631.5 314.6,631.7 315.6,631.8 316.5,632 317.5,632.1 318.5,632.2 319.5,632.3 320.5,632.4 321.5,632.5 322.5,632.6 323.5,632.6 324.5,632.7 325.5,632.7 326.5,632.8 327.5,632.8 328.5,632.8 329.5,632.9 330.5,632.9 331.5,632.9 332.5,632.9 333.5,632.9 334.5,632.9 335.5,633 336.5,633 337.4,633 338.4,633 339.4,633 340.4,633 341.4,633 342.4,633 343.4,633 344.4,633" stroke="#111" stroke-width="2.0" fill="none" stroke-linejoin="round"/>
<polyline points="230,633 231,633 232,633 233,633 234,633 235,633 236,633 237,632.9 238,632.9 239,632.9 240,632.9 241,632.9 242,632.8 243,632.8 244,632.8 245,632.7 246,632.7 246.9,632.6 247.9,632.6 248.9,632.5 249.9,632.4 250.9,632.3 251.9,632.2 252.9,632 253.9,631.9 254.9,631.7 255.9,631.5 256.9,631.7 257.9,630.9 258.9,630.5 259.9,630 260.9,629.8 261.9,629.1 262.9,627.8 263.8,627.3 264.8,626.3 265.8,625.7 266.8,626.7 267.8,627.2 268.8,626.5 269.8,625.2 270.8,625.2 271.8,624.4 272.8,621.8 273.8,620.8 274.8,620.8 275.8,618.8 276.8,615.7 277.8,612.5 278.8,613 279.8,616.2 280.7,617.8 281.7,617.2 282.7,615 283.7,612.7 284.7,611.5 285.7,612.8 286.7,614.3 287.7,611.7 288.7,606.9 289.7,605.6 290.7,607.4 291.7,608.7 292.7,609 293.7,610 294.7,610.4 295.7,608.9 296.6,609.2 297.6,611.6 298.6,613.1 299.6,610.5 300.6,609.4 301.6,610.8 302.6,609.5 303.6,610.3 304.6,613.9 305.6,614.9 306.6,612.7 307.6,612.2 308.6,613.8 309.6,616.2 310.6,617.4 311.6,617.6 312.6,618.5 313.5,620.2 314.5,623 315.5,624.5 316.5,623.9 317.5,623.4 318.5,625.3 319.5,625.6 320.5,623.8 321.5,621.9 322.5,620.6 323.5,621.3 324.5,623.8 325.5,626.9 326.5,629.7 327.5,630.3 328.5,629.9 329.5,630.4 330.4,631.5 331.4,631.7 332.4,630.8 333.4,629.7 334.4,629.9 335.4,630.9 336.4,631.3 337.4,631.6 338.4,631.4 339.4,631.6 340.4,631.8 341.4,631.9 342.4,632.1 343.4,632.2 344.4,632.3 345.4,632.4 346.4,632.5 347.3,632.5 348.3,632.6 349.3,632.7 350.3,632.7 351.3,632.7 352.3,632.8 353.3,632.8 354.3,632.8 355.3,632.9 356.3,632.9 357.3,632.9 358.3,632.9 359.3,632.9 360.3,632.9 361.3,633 362.3,633 363.3,633 364.2,633 365.2,633 366.2,633 367.2,633 368.2,633 369.2,633 370.2,633" stroke="#111" stroke-width="2.0" fill="none" stroke-linejoin="round"/>
<polyline points="252.2,633 253.2,633 254.2,633 255.2,633 256.2,633 257.2,633 258.2,633 259.2,633 260.2,632.9 261.2,632.9 262.2,632.9 263.2,632.9 264.2,632.9 265.2,632.9 266.2,632.8 267.2,632.8 268.2,632.7 269.2,632.7 270.2,632.6 271.2,632.6 272.2,632.5 273.2,632.4 274.2,632.3 275.2,632.2 276.2,632.1 277.2,632 278.2,631.8 279.2,631.7 280.2,631.5 281.1,633 282.1,633 283.1,632.8 284.1,632 285.1,631.5 286.1,631.6 287.1,631.7 288.1,631.5 289.1,630.5 290.1,628.8 291.1,626.7 292.1,625.7 293.1,626.3 294.1,625.7 295.1,623.4 296.1,622.5 297.1,622.1 298.1,620.8 299.1,619.2 300.1,618.6 301.1,618.8 302.1,619.8 303.1,621.3 304.1,621.3 305.1,619.6 306.1,617.9 307.1,616.8 308.1,616 309.1,616.2 310.1,617.5 311.1,617 312.1,613.8 313.1,612.5 314.1,613 315.1,611.8 316.1,611.3 317.1,613.6 318.1,616.8 319.1,616.5 320.1,612.9 321.1,610.4 322.1,612.2 323,614.6 324,615.4 325,615 326,616.2 327,620.3 328,620.8 329,616.9 330,615.1 331,615 332,614.2 333,616.3 334,619.7 335,619.3 336,618.2 337,619.6 338,620.2 339,620.2 340,622.4 341,625 342,626.1 343,626.1 344,625.9 345,626.4 346,626.6 347,627.7 348,628.6 349,629 350,627.9 351,626.1 352,625.5 353,626.4 354,628 355,629 356,629.2 357,629.4 358,629.7 359,629.5 360,629.4 361,629.5 362,630.1 363,631.5 364,631.7 365,631.8 365.9,632 366.9,632.1 367.9,632.2 368.9,632.3 369.9,632.4 370.9,632.5 371.9,632.5 372.9,632.6 373.9,632.7 374.9,632.7 375.9,632.8 376.9,632.8 377.9,632.8 378.9,632.8 379.9,632.9 380.9,632.9 381.9,632.9 382.9,632.9 383.9,632.9 384.9,632.9 385.9,633 386.9,633" stroke="#111" stroke-width="2.0" fill="none" stroke-linejoin="round"/></g>
<line x1="68.5" y1="632.6" x2="386.9" y2="632.6" stroke="#111" stroke-width="2"/>
<rect x="68.5" y="381.6" width="318.3" height="251.4" fill="none" stroke="#111" stroke-width="1.2"/>
<path d="M68.5 591.1h3.2M386.9 591.1h-3.2M68.5 549.2h3.2M386.9 549.2h-3.2M68.5 507.3h3.2M386.9 507.3h-3.2M68.5 465.4h3.2M386.9 465.4h-3.2M68.5 423.5h3.2M386.9 423.5h-3.2M132.2 633v-3.2M132.2 381.6v3.2M195.9 633v-3.2M195.9 381.6v3.2M259.6 633v-3.2M259.6 381.6v3.2M323.2 633v-3.2M323.2 381.6v3.2" stroke="#222" stroke-width="1.1" fill="none"/>
<g font-family='"Liberation Sans", Arial, Helvetica, sans-serif' font-size="14.4" fill="#111"><text x="61.95" y="637.05" text-anchor="end">0</text><text x="61.95" y="595.14" text-anchor="end">0.005</text><text x="61.95" y="553.23" text-anchor="end">0.01</text><text x="61.95" y="511.32" text-anchor="end">0.015</text><text x="61.95" y="469.42" text-anchor="end">0.02</text><text x="61.95" y="427.51" text-anchor="end">0.025</text><text x="61.95" y="385.6" text-anchor="end">0.03</text><text x="68.55" y="647.35" text-anchor="middle">0</text><text x="133.32" y="647.35" text-anchor="middle">0.2</text><text x="196.99" y="647.35" text-anchor="middle">0.4</text><text x="260.66" y="647.35" text-anchor="middle">0.6</text><text x="324.33" y="647.35" text-anchor="middle">0.8</text><text x="386.9" y="647.35" text-anchor="middle">1</text></g>
<g fill="#fff"><rect x="54.81" y="552.08" width="2.40" height="2.35"/><rect x="59.17" y="552.08" width="3.41" height="2.35"/><rect x="46.80" y="510.17" width="2.40" height="2.35"/><rect x="51.16" y="510.17" width="3.41" height="2.35"/><rect x="383.76" y="646.20" width="2.40" height="2.35"/><rect x="388.13" y="646.20" width="3.41" height="2.35"/></g>
<line x1="100.2" y1="470.4" x2="174.9" y2="470.4" stroke="#333" stroke-width="1.3"/>
<path d="M180.9 470.4L169.5 466.3L172.9 470.4L169.5 474.5Z" fill="#111"/>
<text x="135.5" y="464" text-anchor="middle" font-family='"Liberation Sans", Arial, Helvetica, sans-serif' font-size="14.2" fill="#111">t</text>
<text x="235.1" y="670.1" text-anchor="middle" font-family='"Liberation Sans", Arial, Helvetica, sans-serif' font-size="17.45" fill="#111">Distance from limbus x</text>
<text transform="translate(15.2 504.9) rotate(-90)" text-anchor="middle" font-family='"Liberation Sans", Arial, Helvetica, sans-serif' font-size="17.45" fill="#111">N(x,t)</text>
<g><polyline points="463.6,491.6 465.5,522.4 467.5,540 469.4,549.9 471.4,556 473.4,560.7 475.3,564.9 477.3,569 479.3,573.6 481.2,579.1 483.2,586.4 485.2,595.3 487.1,604.9 489.1,612.1 491,618.3 493,623 495,626.4 496.9,628.8 498.9,630.3 500.9,631.3 502.8,632 504.8,632.4 506.8,632.6 508.7,632.8 510.7,632.9 512.7,632.9 514.6,632.9 516.6,633 518.5,633 520.5,633" stroke="#5a5a5a" stroke-width="1.8" fill="none" stroke-dasharray="3.5 2.5"/>
<polyline points="463.6,491.6 465.5,522.5 467.5,540 469.5,549.7 471.5,555.6 473.4,559.8 475.4,563.3 477.4,566.2 479.4,568.6 481.3,570.7 483.3,572.7 485.3,574.7 487.3,576.7 489.2,578.6 491.2,580.4 493.2,581.9 495.2,583.4 497.1,585 499.1,586.8 501.1,588.9 503.1,591.4 505,594.3 507,597.7 509,601.6 511,605.9 513,610.3 514.9,614.8 516.9,618.9 518.9,622.4 520.9,625.3 522.8,627.5 524.8,629.1 526.8,630.3 528.8,631.2 530.7,631.8 532.7,632.2 534.7,632.4 536.7,632.6 538.6,632.7 540.6,632.8 542.6,632.9 544.6,632.9 546.5,632.9 548.5,633 550.5,633 552.5,633 554.4,633" stroke="#5a5a5a" stroke-width="1.8" fill="none" stroke-dasharray="3.5 2.5"/>
<polyline points="463.6,491.6 465.5,522.6 467.5,540.1 469.5,549.9 471.5,555.7 473.5,559.9 475.5,563.4 477.5,566.2 479.5,568.6 481.5,570.7 483.4,572.6 485.4,574.6 487.4,576.5 489.4,578.2 491.4,579.7 493.4,580.9 495.4,582 497.4,583 499.4,583.9 501.4,584.8 503.3,585.8 505.3,586.7 507.3,587.5 509.3,588.4 511.3,589.3 513.3,590.2 515.3,591.1 517.3,592.1 519.3,593.1 521.3,594.3 523.2,595.6 525.2,597.1 527.2,598.9 529.2,600.9 531.2,603.1 533.2,605.6 535.2,608.4 537.2,611.3 539.2,614.3 541.2,617.5 543.1,620.4 545.1,623.1 547.1,625.4 549.1,627.2 551.1,628.7 553.1,629.8 555.1,630.7 557.1,631.3 559.1,631.8 561,632.1 563,632.4 565,632.5 567,632.7 569,632.8 571,632.8 573,632.9 575,632.9 577,632.9 579,633 580.9,633 582.9,633 584.9,633 586.9,633 588.9,633" stroke="#5a5a5a" stroke-width="1.8" fill="none" stroke-dasharray="3.5 2.5"/>
<polyline points="463.6,491.6 465.5,522.6 467.5,540.1 469.5,549.9 471.5,555.7 473.5,559.9 475.5,563.4 477.5,566.2 479.5,568.6 481.5,570.7 483.4,572.6 485.4,574.6 487.4,576.5 489.4,578.2 491.4,579.7 493.4,580.9 495.4,581.9 497.4,582.9 499.4,583.8 501.4,584.7 503.3,585.6 505.3,586.4 507.3,587.2 509.3,587.9 511.3,588.7 513.3,589.3 515.3,590 517.3,590.6 519.3,591.2 521.3,591.8 523.2,592.4 525.2,593 527.2,593.6 529.2,594.1 531.2,594.7 533.2,595.3 535.2,595.9 537.2,596.5 539.2,597.2 541.2,598 543.1,598.9 545.1,599.9 547.1,601.1 549.1,602.4 551.1,603.9 553.1,605.6 555.1,607.4 557.1,609.4 559.1,611.5 561.1,613.7 563,615.9 565,618.2 567,620.4 569,622.5 571,624.3 573,625.9 575,627.3 577,628.4 579,629.4 581,630.2 582.9,630.8 584.9,631.3 586.9,631.7 588.9,632 590.9,632.2 592.9,632.4 594.9,632.5 596.9,632.6 598.9,632.7 600.8,632.8 602.8,632.8 604.8,632.9 606.8,632.9 608.8,632.9 610.8,632.9 612.8,633 614.8,633 616.8,633 618.8,633 620.7,633 622.7,633 624.7,633" stroke="#5a5a5a" stroke-width="1.8" fill="none" stroke-dasharray="3.5 2.5"/>
<polyline points="463.6,491.6 465.5,522.6 467.5,540.1 469.5,549.9 471.5,555.7 473.5,560 475.5,563.4 477.5,566.2 479.5,568.6 481.5,570.7 483.5,572.6 485.5,574.6 487.4,576.5 489.4,578.2 491.4,579.7 493.4,580.9 495.4,581.9 497.4,582.9 499.4,583.8 501.4,584.7 503.4,585.6 505.4,586.4 507.4,587.2 509.4,587.9 511.3,588.6 513.3,589.3 515.3,589.9 517.3,590.5 519.3,591.1 521.3,591.6 523.3,592.2 525.3,592.7 527.3,593.2 529.3,593.6 531.3,594 533.2,594.5 535.2,594.8 537.2,595.2 539.2,595.6 541.2,595.9 543.2,596.3 545.2,596.7 547.2,597.1 549.2,597.5 551.2,597.9 553.2,598.4 555.2,598.8 557.1,599.3 559.1,599.7 561.1,600.2 563.1,600.8 565.1,601.4 567.1,602.1 569.1,602.8 571.1,603.7 573.1,604.7 575.1,605.9 577.1,607.2 579,608.6 581,610.2 583,612 585,613.8 587,615.7 589,617.6 591,619.4 593,621.2 595,622.8 597,624.3 599,625.6 601,626.8 602.9,627.9 604.9,628.8 606.9,629.5 608.9,630.2 610.9,630.7 612.9,631.2 614.9,631.5 616.9,631.8 618.9,632 620.9,632.2 622.9,632.4 624.8,632.5 626.8,632.6 628.8,632.7 630.8,632.8 632.8,632.8 634.8,632.8 636.8,632.9 638.8,632.9 640.8,632.9 642.8,632.9 644.8,633 646.8,633 648.7,633 650.7,633 652.7,633 654.7,633 656.7,633 658.7,633 660.7,633" stroke="#5a5a5a" stroke-width="1.8" fill="none" stroke-dasharray="3.5 2.5"/>
<polyline points="463.6,491.6 465.5,522.6 467.5,540.1 469.5,549.8 471.5,555.7 473.5,559.9 475.5,563.4 477.5,566.2 479.4,568.6 481.4,570.6 483.4,572.6 485.4,574.5 487.4,576.4 489.4,578.2 491.4,579.7 493.3,580.9 495.3,581.9 497.3,582.8 499.3,583.7 501.3,584.6 503.3,585.5 505.3,586.3 507.2,587.1 509.2,587.9 511.2,588.6 513.2,589.2 515.2,589.9 517.2,590.5 519.2,591 521.1,591.6 523.1,592.1 525.1,592.6 527.1,593.1 529.1,593.5 531.1,594 533.1,594.4 535,594.7 537,595.1 539,595.4 541,595.8 543,596.1 545,596.5 547,596.8 549,597.2 550.9,597.5 552.9,597.9 554.9,598.2 556.9,598.5 558.9,598.8 560.9,599.1 562.9,599.3 564.8,599.6 566.8,599.9 568.8,600.2 570.8,600.5 572.8,600.8 574.8,601.2 576.8,601.6 578.7,602 580.7,602.4 582.7,602.9 584.7,603.6 586.7,604.2 588.7,604.9 590.7,605.6 592.6,606.3 594.6,607.1 596.6,607.9 598.6,608.9 600.6,610 602.6,611.2 604.6,612.6 606.5,614 608.5,615.6 610.5,617.2 612.5,618.7 614.5,620.2 616.5,621.6 618.5,623 620.4,624.2 622.4,625.4 624.4,626.5 626.4,627.4 628.4,628.3 630.4,629 632.4,629.6 634.4,630.2 636.3,630.7 638.3,631 640.3,631.4 642.3,631.7 644.3,631.9 646.3,632.1 648.3,632.2 650.2,632.4 652.2,632.5 654.2,632.6 656.2,632.7 658.2,632.7 660.2,632.8 662.2,632.8 664.1,632.8 666.1,632.9 668.1,632.9 670.1,632.9 672.1,632.9 674.1,632.9 676.1,633 678,633 680,633 682,633 684,633 686,633 688,633 690,633 691.9,633 693.9,633" stroke="#5a5a5a" stroke-width="1.8" fill="none" stroke-dasharray="3.5 2.5"/>
<polyline points="463.6,491.6 465.5,522.7 467.5,540.2 469.5,549.9 471.5,555.7 473.5,560 475.5,563.4 477.5,566.3 479.5,568.6 481.5,570.7 483.5,572.6 485.5,574.6 487.5,576.5 489.5,578.3 491.5,579.7 493.4,580.9 495.4,581.9 497.4,582.9 499.4,583.8 501.4,584.7 503.4,585.6 505.4,586.4 507.4,587.2 509.4,587.9 511.4,588.6 513.4,589.3 515.4,589.9 517.4,590.5 519.4,591.1 521.4,591.6 523.3,592.2 525.3,592.7 527.3,593.1 529.3,593.6 531.3,594 533.3,594.4 535.3,594.8 537.3,595.1 539.3,595.5 541.3,595.8 543.3,596.1 545.3,596.5 547.3,596.8 549.3,597.2 551.2,597.5 553.2,597.9 555.2,598.2 557.2,598.5 559.2,598.7 561.2,599 563.2,599.2 565.2,599.5 567.2,599.7 569.2,600 571.2,600.2 573.2,600.5 575.2,600.7 577.2,601 579.2,601.3 581.1,601.6 583.1,601.9 585.1,602.3 587.1,602.6 589.1,603 591.1,603.2 593.1,603.4 595.1,603.6 597.1,603.8 599.1,604 601.1,604.2 603.1,604.5 605.1,604.7 607.1,605.1 609.1,605.4 611,605.9 613,606.4 615,607 617,607.7 619,608.5 621,609.4 623,610.4 625,611.4 627,612.6 629,613.9 631,615.2 633,616.6 635,618 637,619.4 638.9,620.6 640.9,621.8 642.9,623 644.9,624.1 646.9,625.2 648.9,626.1 650.9,627 652.9,627.8 654.9,628.5 656.9,629.2 658.9,629.7 660.9,630.2 662.9,630.6 664.9,631 666.9,631.3 668.8,631.6 670.8,631.8 672.8,632 674.8,632.1 676.8,632.3 678.8,632.4 680.8,632.5 682.8,632.6 684.8,632.6 686.8,632.7 688.8,632.7 690.8,632.8 692.8,632.8 694.8,632.8 696.8,632.9 698.7,632.9 700.7,632.9 702.7,632.9 704.7,632.9 706.7,632.9 708.7,633 710.7,633 712.7,633 714.7,633 716.7,633 718.7,633 720.7,633 722.7,633 724.7,633 726.6,633 728.6,633" stroke="#5a5a5a" stroke-width="1.8" fill="none" stroke-dasharray="3.5 2.5"/>
<polyline points="463.6,491.6 465.5,522.7 467.5,540.2 469.5,549.9 471.5,555.7 473.5,560 475.5,563.4 477.5,566.3 479.5,568.6 481.5,570.7 483.5,572.6 485.5,574.6 487.5,576.5 489.5,578.3 491.5,579.7 493.5,580.9 495.4,582 497.4,582.9 499.4,583.8 501.4,584.7 503.4,585.6 505.4,586.4 507.4,587.2 509.4,587.9 511.4,588.6 513.4,589.3 515.4,589.9 517.4,590.5 519.4,591.1 521.4,591.6 523.4,592.2 525.3,592.7 527.3,593.1 529.3,593.6 531.3,594 533.3,594.4 535.3,594.8 537.3,595.1 539.3,595.5 541.3,595.8 543.3,596.1 545.3,596.5 547.3,596.8 549.3,597.2 551.3,597.5 553.3,597.9 555.2,598.2 557.2,598.5 559.2,598.7 561.2,599 563.2,599.2 565.2,599.5 567.2,599.7 569.2,600 571.2,600.2 573.2,600.4 575.2,600.7 577.2,600.9 579.2,601.2 581.2,601.4 583.2,601.8 585.1,602.1 587.1,602.4 589.1,602.7 591.1,602.9 593.1,603 595.1,603.1 597.1,603.2 599.1,603.3 601.1,603.4 603.1,603.5 605.1,603.6 607.1,603.6 609.1,603.7 611.1,603.9 613.1,604 615,604.2 617,604.3 619,604.5 621,604.7 623,605 625,605.2 627,605.5 629,605.8 631,606.1 633,606.4 635,606.8 637,607.3 639,607.8 641,608.3 643,608.9 644.9,609.6 646.9,610.4 648.9,611.3 650.9,612.2 652.9,613.2 654.9,614.3 656.9,615.5 658.9,616.7 660.9,618 662.9,619.3 664.9,620.5 666.9,621.6 668.9,622.7 670.9,623.7 672.9,624.7 674.8,625.6 676.8,626.4 678.8,627.2 680.8,627.9 682.8,628.6 684.8,629.1 686.8,629.6 688.8,630.1 690.8,630.5 692.8,630.8 694.8,631.2 696.8,631.4 698.8,631.6 700.8,631.8 702.8,632 704.7,632.2 706.7,632.3 708.7,632.4 710.7,632.5 712.7,632.6 714.7,632.6 716.7,632.7 718.7,632.7 720.7,632.8 722.7,632.8 724.7,632.8 726.7,632.9 728.7,632.9 730.7,632.9 732.7,632.9 734.6,632.9 736.6,632.9 738.6,632.9 740.6,633 742.6,633 744.6,633 746.6,633 748.6,633 750.6,633 752.6,633 754.6,633 756.6,633 758.6,633 760.6,633 762.6,633" stroke="#5a5a5a" stroke-width="1.8" fill="none" stroke-dasharray="3.5 2.5"/>
<polyline points="463.6,491.6 465.5,522.6 467.5,540.1 469.5,549.8 471.5,555.7 473.5,559.9 475.5,563.4 477.5,566.2 479.5,568.6 481.4,570.6 483.4,572.6 485.4,574.6 487.4,576.5 489.4,578.2 491.4,579.7 493.4,580.9 495.4,581.9 497.3,582.8 499.3,583.7 501.3,584.6 503.3,585.5 505.3,586.4 507.3,587.1 509.3,587.9 511.3,588.6 513.2,589.2 515.2,589.9 517.2,590.5 519.2,591.1 521.2,591.6 523.2,592.1 525.2,592.6 527.2,593.1 529.1,593.6 531.1,594 533.1,594.4 535.1,594.7 537.1,595.1 539.1,595.4 541.1,595.8 543.1,596.1 545.1,596.4 547,596.8 549,597.1 551,597.5 553,597.8 555,598.1 557,598.4 559,598.7 561,598.9 562.9,599.2 564.9,599.4 566.9,599.7 568.9,599.9 570.9,600.2 572.9,600.4 574.9,600.6 576.9,600.9 578.8,601.1 580.8,601.4 582.8,601.7 584.8,602 586.8,602.4 588.8,602.6 590.8,602.8 592.8,603 594.7,603.1 596.7,603.2 598.7,603.3 600.7,603.3 602.7,603.4 604.7,603.4 606.7,603.5 608.7,603.6 610.7,603.7 612.6,603.7 614.6,603.9 616.6,604 618.6,604.1 620.6,604.2 622.6,604.4 624.6,604.5 626.6,604.6 628.5,604.8 630.5,604.9 632.5,605.1 634.5,605.2 636.5,605.3 638.5,605.5 640.5,605.7 642.5,605.8 644.4,606 646.4,606.2 648.4,606.5 650.4,606.7 652.4,607 654.4,607.3 656.4,607.7 658.4,608.1 660.3,608.5 662.3,609 664.3,609.5 666.3,610.1 668.3,610.7 670.3,611.4 672.3,612.1 674.3,612.9 676.2,613.7 678.2,614.6 680.2,615.6 682.2,616.6 684.2,617.7 686.2,618.8 688.2,619.9 690.2,621 692.2,622 694.1,623 696.1,624 698.1,624.9 700.1,625.8 702.1,626.6 704.1,627.3 706.1,628 708.1,628.6 710,629.2 712,629.7 714,630.1 716,630.5 718,630.9 720,631.2 722,631.4 724,631.6 725.9,631.8 727.9,632 729.9,632.1 731.9,632.3 733.9,632.4 735.9,632.5 737.9,632.5 739.9,632.6 741.8,632.7 743.8,632.7 745.8,632.8 747.8,632.8 749.8,632.8 751.8,632.9 753.8,632.9 755.8,632.9 757.8,632.9 759.7,632.9 761.7,632.9 763.7,632.9 765.7,633 767.7,633 769.7,633 771.7,633 773.7,633 775.6,633 777.6,633 779.6,633 781.6,633" stroke="#5a5a5a" stroke-width="1.8" fill="none" stroke-dasharray="3.5 2.5"/>
<polyline points="463.6,491.6 465.5,522.6 467.5,540.1 469.5,549.8 471.5,555.7 473.5,559.9 475.5,563.4 477.5,566.2 479.5,568.6 481.4,570.6 483.4,572.6 485.4,574.6 487.4,576.5 489.4,578.2 491.4,579.7 493.4,580.9 495.4,581.9 497.3,582.8 499.3,583.7 501.3,584.6 503.3,585.5 505.3,586.4 507.3,587.1 509.3,587.9 511.3,588.6 513.2,589.2 515.2,589.9 517.2,590.5 519.2,591.1 521.2,591.6 523.2,592.1 525.2,592.6 527.2,593.1 529.1,593.6 531.1,594 533.1,594.4 535.1,594.7 537.1,595.1 539.1,595.4 541.1,595.8 543.1,596.1 545.1,596.4 547,596.8 549,597.1 551,597.5 553,597.8 555,598.1 557,598.4 559,598.7 561,598.9 562.9,599.2 564.9,599.4 566.9,599.7 568.9,599.9 570.9,600.2 572.9,600.4 574.9,600.6 576.9,600.9 578.8,601.1 580.8,601.4 582.8,601.7 584.8,602 586.8,602.3 588.8,602.6 590.8,602.8 592.8,603 594.7,603.1 596.7,603.2 598.7,603.2 600.7,603.3 602.7,603.4 604.7,603.4 606.7,603.5 608.7,603.5 610.7,603.6 612.6,603.7 614.6,603.8 616.6,603.9 618.6,604.1 620.6,604.2 622.6,604.3 624.6,604.4 626.6,604.5 628.5,604.7 630.5,604.8 632.5,604.9 634.5,605 636.5,605.1 638.5,605.2 640.5,605.4 642.5,605.5 644.4,605.6 646.4,605.7 648.4,605.9 650.4,606 652.4,606.2 654.4,606.3 656.4,606.5 658.4,606.7 660.3,606.8 662.3,607 664.3,607.2 666.3,607.5 668.3,607.7 670.3,607.9 672.3,608.1 674.3,608.3 676.2,608.4 678.2,608.6 680.2,608.8 682.2,609.1 684.2,609.4 686.2,609.7 688.2,610 690.2,610.4 692.2,610.9 694.1,611.4 696.1,611.9 698.1,612.6 700.1,613.3 702.1,614 704.1,614.8 706.1,615.7 708.1,616.7 710,617.7 712,618.7 714,619.8 716,620.9 718,621.9 720,622.8 722,623.8 724,624.6 725.9,625.5 727.9,626.3 729.9,627 731.9,627.7 733.9,628.3 735.9,628.9 737.9,629.4 739.9,629.9 741.8,630.3 743.8,630.6 745.8,631 747.8,631.2 749.8,631.5 751.8,631.7 753.8,631.9 755.8,632 757.8,632.2 759.7,632.3 761.7,632.4 763.7,632.5 765.7,632.6 767.7,632.6 769.7,632.7 771.7,632.7 773.7,632.8 775.6,632.8 777.6,632.8 779.6,632.9 781.6,632.9" stroke="#5a5a5a" stroke-width="1.8" fill="none" stroke-dasharray="3.5 2.5"/>
<polyline points="463.6,491.6 464.5,508.5 465.5,522.4 466.5,532.5 467.5,539.9 468.5,545.5 469.4,549.8 470.4,553.1 471.4,555.8 472.4,558.2 473.4,560.4 474.4,562.4 475.3,564.3 476.3,566.2 477.3,568.1 478.3,570 479.3,572 480.2,574.1 481.2,576.6 482.2,579.3 483.2,582.5 484.2,586.1 485.2,590.2 486.1,594.7 487.1,599.4 488.1,604.1 489.1,608 490.1,611.5 491,614.7 492,617.7 493,620.2 494,622.5 495,624.4 496,626.1 496.9,627.4 497.9,628.5 498.9,629.4 499.9,630.2 500.9,630.8 501.8,631.2 502.8,631.6 503.8,631.9 504.8,632.1 505.8,632.3 506.8,632.5 507.7,632.6 508.7,632.7 509.7,632.7 510.7,632.8 511.7,632.8 512.7,632.9 513.6,632.9 514.6,632.9 515.6,632.9 516.6,633 517.6,633 518.5,633 519.5,633 520.5,633 521.5,633" stroke="#111" stroke-width="2.0" fill="none" stroke-linejoin="round"/>
<polyline points="463.6,491.6 464.5,508.5 465.5,522.5 466.5,532.5 467.5,540 468.5,545.4 469.5,549.7 470.5,553 471.5,555.6 472.4,557.8 473.4,559.8 474.4,561.7 475.4,563.3 476.4,564.8 477.4,566.2 478.4,567.4 479.4,568.6 480.3,569.6 481.3,570.6 482.3,571.6 483.3,572.6 484.3,573.6 485.3,574.7 486.3,575.7 487.3,576.6 488.3,577.6 489.2,578.5 490.2,579.3 491.2,580.2 492.2,580.9 493.2,581.6 494.2,582.3 495.2,583 496.2,583.7 497.1,584.4 498.1,585.2 499.1,586 500.1,586.9 501.1,587.9 502.1,588.9 503.1,590 504.1,591.3 505,592.6 506,594.1 507,595.6 508,597.3 509,599.2 510,601.1 511,603.1 512,605.3 513,607.5 513.9,609.7 514.9,611.9 515.9,614.1 516.9,616.2 517.9,618.3 518.9,620.2 519.9,621.9 520.9,623.5 521.8,624.9 522.8,626.1 523.8,627.2 524.8,628.1 525.8,628.9 526.8,629.6 527.8,630.1 528.8,630.6 529.7,631 530.7,631.4 531.7,631.7 532.7,631.9 533.7,632.1 534.7,632.2 535.7,632.4 536.7,632.5 537.7,632.6 538.6,632.7 539.6,632.7 540.6,632.8 541.6,632.8 542.6,632.8 543.6,632.9 544.6,632.9 545.6,632.9 546.5,632.9 547.5,632.9 548.5,633 549.5,633 550.5,633 551.5,633 552.5,633 553.5,633 554.4,633 555.4,633" stroke="#111" stroke-width="2.0" fill="none" stroke-linejoin="round"/>
<polyline points="463.6,491.6 464.5,508.6 465.5,522.6 466.5,532.7 467.5,540.1 468.5,545.6 469.5,549.9 470.5,553.1 471.5,555.7 472.5,557.9 473.5,559.9 474.5,561.8 475.5,563.4 476.5,564.9 477.5,566.2 478.5,567.5 479.5,568.6 480.5,569.7 481.5,570.7 482.5,571.6 483.4,572.6 484.4,573.6 485.4,574.6 486.4,575.6 487.4,576.5 488.4,577.4 489.4,578.2 490.4,579 491.4,579.7 492.4,580.3 493.4,580.9 494.4,581.4 495.4,581.9 496.4,582.4 497.4,582.8 498.4,583.3 499.4,583.7 500.4,584.2 501.4,584.6 502.4,585.1 503.3,585.5 504.3,586 505.3,586.4 506.3,586.8 507.3,587.2 508.3,587.6 509.3,588 510.3,588.4 511.3,588.8 512.3,589.2 513.3,589.6 514.3,590.1 515.3,590.5 516.3,590.9 517.3,591.4 518.3,591.8 519.3,592.3 520.3,592.8 521.3,593.3 522.2,593.9 523.2,594.5 524.2,595.1 525.2,595.8 526.2,596.6 527.2,597.4 528.2,598.2 529.2,599.1 530.2,600.1 531.2,601.2 532.2,602.3 533.2,603.5 534.2,604.8 535.2,606.1 536.2,607.5 537.2,608.9 538.2,610.4 539.2,611.9 540.2,613.4 541.2,615 542.1,616.6 543.1,618.2 544.1,619.7 545.1,621.1 546.1,622.4 547.1,623.7 548.1,624.8 549.1,625.8 550.1,626.8 551.1,627.6 552.1,628.3 553.1,629 554.1,629.5 555.1,630 556.1,630.5 557.1,630.8 558.1,631.1 559.1,631.4 560.1,631.6 561,631.8 562,632 563,632.2 564,632.3 565,632.4 566,632.5 567,632.6 568,632.6 569,632.7 570,632.7 571,632.8 572,632.8 573,632.8 574,632.9 575,632.9 576,632.9 577,632.9 578,632.9 579,632.9 580,633 580.9,633 581.9,633 582.9,633 583.9,633 584.9,633 585.9,633 586.9,633 587.9,633 588.9,633" stroke="#111" stroke-width="2.0" fill="none" stroke-linejoin="round"/>
<polyline points="463.6,491.6 464.5,508.6 465.5,522.6 466.5,532.7 467.5,540.1 468.5,545.6 469.5,549.9 470.5,553.1 471.5,555.7 472.5,557.9 473.5,559.9 474.5,561.8 475.5,563.4 476.5,564.9 477.5,566.2 478.5,567.5 479.5,568.6 480.5,569.6 481.5,570.7 482.5,571.6 483.4,572.6 484.4,573.6 485.4,574.6 486.4,575.5 487.4,576.5 488.4,577.4 489.4,578.2 490.4,579 491.4,579.7 492.4,580.3 493.4,580.8 494.4,581.4 495.4,581.9 496.4,582.3 497.4,582.8 498.4,583.2 499.4,583.6 500.4,584.1 501.4,584.5 502.4,585 503.3,585.4 504.3,585.8 505.3,586.2 506.3,586.6 507.3,586.9 508.3,587.3 509.3,587.6 510.3,588 511.3,588.3 512.3,588.6 513.3,589 514.3,589.3 515.3,589.6 516.3,589.9 517.3,590.1 518.3,590.4 519.3,590.7 520.3,591 521.3,591.2 522.3,591.5 523.2,591.8 524.2,592 525.2,592.3 526.2,592.5 527.2,592.8 528.2,593 529.2,593.3 530.2,593.5 531.2,593.7 532.2,594 533.2,594.2 534.2,594.5 535.2,594.8 536.2,595 537.2,595.3 538.2,595.6 539.2,595.9 540.2,596.2 541.2,596.6 542.1,597 543.1,597.4 544.1,597.8 545.1,598.3 546.1,598.8 547.1,599.3 548.1,599.9 549.1,600.5 550.1,601.2 551.1,601.9 552.1,602.6 553.1,603.4 554.1,604.3 555.1,605.2 556.1,606.1 557.1,607.1 558.1,608.1 559.1,609.1 560.1,610.2 561.1,611.3 562,612.5 563,613.6 564,614.8 565,616 566,617.1 567,618.3 568,619.4 569,620.5 570,621.6 571,622.6 572,623.5 573,624.4 574,625.3 575,626 576,626.7 577,627.4 578,628 579,628.5 580,629 581,629.5 581.9,629.9 582.9,630.2 583.9,630.6 584.9,630.9 585.9,631.1 586.9,631.3 587.9,631.5 588.9,631.7 589.9,631.9 590.9,632 591.9,632.1 592.9,632.2 593.9,632.3 594.9,632.4 595.9,632.5 596.9,632.5 597.9,632.6 598.9,632.6 599.9,632.7 600.8,632.7 601.8,632.8 602.8,632.8 603.8,632.8 604.8,632.8 605.8,632.9 606.8,632.9 607.8,632.9 608.8,632.9 609.8,632.9 610.8,632.9 611.8,632.9 612.8,632.9 613.8,632.9 614.8,633 615.8,633 616.8,633 617.8,633 618.8,633 619.8,633 620.7,633 621.7,633 622.7,633 623.7,633 624.7,633 625.7,633" stroke="#111" stroke-width="2.0" fill="none" stroke-linejoin="round"/>
<polyline points="463.6,491.6 464.5,508.7 465.5,522.6 466.5,532.7 467.5,540.1 468.5,545.6 469.5,549.9 470.5,553.1 471.5,555.7 472.5,558 473.5,560 474.5,561.8 475.5,563.4 476.5,564.9 477.5,566.2 478.5,567.5 479.5,568.6 480.5,569.7 481.5,570.7 482.5,571.6 483.5,572.6 484.5,573.6 485.5,574.6 486.5,575.6 487.4,576.5 488.4,577.4 489.4,578.2 490.4,579 491.4,579.7 492.4,580.3 493.4,580.9 494.4,581.4 495.4,581.9 496.4,582.3 497.4,582.8 498.4,583.2 499.4,583.6 500.4,584.1 501.4,584.5 502.4,584.9 503.4,585.4 504.4,585.8 505.4,586.2 506.4,586.5 507.4,586.9 508.4,587.3 509.4,587.6 510.3,587.9 511.3,588.3 512.3,588.6 513.3,588.9 514.3,589.2 515.3,589.5 516.3,589.8 517.3,590.1 518.3,590.3 519.3,590.6 520.3,590.8 521.3,591.1 522.3,591.3 523.3,591.5 524.3,591.8 525.3,592 526.3,592.2 527.3,592.4 528.3,592.6 529.3,592.8 530.3,593 531.3,593.2 532.3,593.4 533.2,593.5 534.2,593.7 535.2,593.9 536.2,594 537.2,594.2 538.2,594.3 539.2,594.5 540.2,594.6 541.2,594.8 542.2,594.9 543.2,595.1 544.2,595.2 545.2,595.4 546.2,595.6 547.2,595.7 548.2,595.9 549.2,596.1 550.2,596.3 551.2,596.4 552.2,596.6 553.2,596.8 554.2,597 555.2,597.2 556.1,597.4 557.1,597.6 558.1,597.7 559.1,597.9 560.1,598.2 561.1,598.4 562.1,598.6 563.1,598.8 564.1,599.1 565.1,599.4 566.1,599.7 567.1,600 568.1,600.3 569.1,600.7 570.1,601.1 571.1,601.5 572.1,601.9 573.1,602.4 574.1,602.9 575.1,603.5 576.1,604.1 577.1,604.7 578.1,605.4 579,606.1 580,606.8 581,607.6 582,608.5 583,609.4 584,610.3 585,611.3 586,612.2 587,613.2 588,614.2 589,615.2 590,616.2 591,617.2 592,618.1 593,619.1 594,620 595,620.9 596,621.7 597,622.6 598,623.3 599,624.1 600,624.8 601,625.5 601.9,626.1 602.9,626.7 603.9,627.3 604.9,627.8 605.9,628.3 606.9,628.7 607.9,629.1 608.9,629.5 609.9,629.9 610.9,630.2 611.9,630.4 612.9,630.7 613.9,630.9 614.9,631.1 615.9,631.3 616.9,631.5 617.9,631.7 618.9,631.8 619.9,631.9 620.9,632 621.9,632.1 622.9,632.2 623.9,632.3 624.8,632.4 625.8,632.5 626.8,632.5 627.8,632.6 628.8,632.6 629.8,632.7 630.8,632.7 631.8,632.7 632.8,632.8 633.8,632.8 634.8,632.8 635.8,632.8 636.8,632.8 637.8,632.9 638.8,632.9 639.8,632.9 640.8,632.9 641.8,632.9 642.8,632.9 643.8,632.9 644.8,632.9 645.8,632.9 646.8,633 647.7,633 648.7,633 649.7,633 650.7,633 651.7,633 652.7,633 653.7,633 654.7,633 655.7,633 656.7,633 657.7,633 658.7,633 659.7,633 660.7,633" stroke="#111" stroke-width="2.0" fill="none" stroke-linejoin="round"/>
<polyline points="463.6,491.6 464.5,508.6 465.5,522.6 466.5,532.7 467.5,540.1 468.5,545.5 469.5,549.8 470.5,553 471.5,555.7 472.5,557.9 473.5,559.9 474.5,561.7 475.5,563.4 476.5,564.8 477.5,566.2 478.4,567.4 479.4,568.6 480.4,569.6 481.4,570.6 482.4,571.6 483.4,572.6 484.4,573.6 485.4,574.5 486.4,575.5 487.4,576.4 488.4,577.3 489.4,578.2 490.4,578.9 491.4,579.6 492.3,580.2 493.3,580.8 494.3,581.3 495.3,581.8 496.3,582.3 497.3,582.7 498.3,583.2 499.3,583.6 500.3,584 501.3,584.5 502.3,584.9 503.3,585.3 504.3,585.7 505.3,586.1 506.3,586.5 507.2,586.9 508.2,587.2 509.2,587.6 510.2,587.9 511.2,588.2 512.2,588.5 513.2,588.9 514.2,589.2 515.2,589.4 516.2,589.7 517.2,590 518.2,590.3 519.2,590.5 520.2,590.8 521.1,591 522.1,591.3 523.1,591.5 524.1,591.7 525.1,591.9 526.1,592.2 527.1,592.4 528.1,592.6 529.1,592.8 530.1,592.9 531.1,593.1 532.1,593.3 533.1,593.5 534.1,593.6 535,593.8 536,593.9 537,594.1 538,594.2 539,594.3 540,594.5 541,594.6 542,594.8 543,594.9 544,595.1 545,595.2 546,595.3 547,595.5 548,595.6 549,595.8 549.9,595.9 550.9,596.1 551.9,596.2 552.9,596.4 553.9,596.5 554.9,596.6 555.9,596.8 556.9,596.9 557.9,597 558.9,597.1 559.9,597.2 560.9,597.3 561.9,597.4 562.9,597.5 563.8,597.7 564.8,597.8 565.8,597.9 566.8,598 567.8,598.1 568.8,598.2 569.8,598.4 570.8,598.5 571.8,598.6 572.8,598.8 573.8,598.9 574.8,599.1 575.8,599.2 576.8,599.4 577.7,599.5 578.7,599.7 579.7,599.9 580.7,600.1 581.7,600.3 582.7,600.6 583.7,600.9 584.7,601.2 585.7,601.5 586.7,601.8 587.7,602.1 588.7,602.4 589.7,602.7 590.7,603 591.7,603.4 592.6,603.7 593.6,604.1 594.6,604.4 595.6,604.9 596.6,605.3 597.6,605.8 598.6,606.3 599.6,606.8 600.6,607.3 601.6,607.9 602.6,608.6 603.6,609.2 604.6,609.9 605.6,610.7 606.5,611.4 607.5,612.2 608.5,613 609.5,613.9 610.5,614.7 611.5,615.6 612.5,616.5 613.5,617.3 614.5,618.1 615.5,618.9 616.5,619.7 617.5,620.4 618.5,621.2 619.5,621.9 620.4,622.6 621.4,623.3 622.4,624 623.4,624.6 624.4,625.2 625.4,625.8 626.4,626.3 627.4,626.8 628.4,627.3 629.4,627.7 630.4,628.2 631.4,628.6 632.4,628.9 633.4,629.3 634.4,629.6 635.3,629.9 636.3,630.1 637.3,630.4 638.3,630.6 639.3,630.8 640.3,631 641.3,631.2 642.3,631.3 643.3,631.5 644.3,631.6 645.3,631.8 646.3,631.9 647.3,632 648.3,632.1 649.2,632.2 650.2,632.2 651.2,632.3 652.2,632.4 653.2,632.4 654.2,632.5 655.2,632.5 656.2,632.6 657.2,632.6 658.2,632.6 659.2,632.7 660.2,632.7 661.2,632.7 662.2,632.8 663.1,632.8 664.1,632.8 665.1,632.8 666.1,632.8 667.1,632.9 668.1,632.9 669.1,632.9 670.1,632.9 671.1,632.9 672.1,632.9 673.1,632.9 674.1,632.9 675.1,632.9 676.1,632.9 677.1,632.9 678,633 679,633 680,633 681,633 682,633 683,633 684,633 685,633 686,633 687,633 688,633 689,633 690,633 691,633 691.9,633 692.9,633 693.9,633 694.9,633" stroke="#111" stroke-width="2.0" fill="none" stroke-linejoin="round"/>
<polyline points="463.6,491.6 464.5,508.7 465.5,522.7 466.5,532.8 467.5,540.2 468.5,545.6 469.5,549.9 470.5,553.1 471.5,555.7 472.5,558 473.5,560 474.5,561.8 475.5,563.4 476.5,564.9 477.5,566.3 478.5,567.5 479.5,568.6 480.5,569.7 481.5,570.7 482.5,571.7 483.5,572.6 484.5,573.6 485.5,574.6 486.5,575.6 487.5,576.5 488.5,577.4 489.5,578.2 490.5,579 491.5,579.7 492.5,580.3 493.4,580.9 494.4,581.4 495.4,581.9 496.4,582.3 497.4,582.8 498.4,583.2 499.4,583.7 500.4,584.1 501.4,584.5 502.4,585 503.4,585.4 504.4,585.8 505.4,586.2 506.4,586.6 507.4,586.9 508.4,587.3 509.4,587.6 510.4,587.9 511.4,588.3 512.4,588.6 513.4,588.9 514.4,589.2 515.4,589.5 516.4,589.8 517.4,590.1 518.4,590.3 519.4,590.6 520.4,590.8 521.4,591.1 522.3,591.3 523.3,591.5 524.3,591.8 525.3,592 526.3,592.2 527.3,592.4 528.3,592.6 529.3,592.8 530.3,593 531.3,593.2 532.3,593.3 533.3,593.5 534.3,593.7 535.3,593.8 536.3,594 537.3,594.1 538.3,594.2 539.3,594.4 540.3,594.5 541.3,594.7 542.3,594.8 543.3,594.9 544.3,595.1 545.3,595.2 546.3,595.4 547.3,595.5 548.3,595.7 549.3,595.8 550.3,595.9 551.2,596.1 552.2,596.2 553.2,596.4 554.2,596.5 555.2,596.6 556.2,596.7 557.2,596.8 558.2,596.9 559.2,597.1 560.2,597.2 561.2,597.3 562.2,597.4 563.2,597.4 564.2,597.5 565.2,597.6 566.2,597.7 567.2,597.8 568.2,597.9 569.2,598 570.2,598.1 571.2,598.2 572.2,598.3 573.2,598.4 574.2,598.5 575.2,598.6 576.2,598.7 577.2,598.8 578.2,599 579.2,599.1 580.2,599.2 581.1,599.3 582.1,599.5 583.1,599.6 584.1,599.8 585.1,600 586.1,600.1 587.1,600.3 588.1,600.4 589.1,600.6 590.1,600.7 591.1,600.8 592.1,600.9 593.1,601 594.1,601.1 595.1,601.1 596.1,601.2 597.1,601.3 598.1,601.4 599.1,601.5 600.1,601.6 601.1,601.7 602.1,601.8 603.1,601.9 604.1,602 605.1,602.2 606.1,602.3 607.1,602.5 608.1,602.7 609.1,602.9 610,603.1 611,603.3 612,603.5 613,603.8 614,604.1 615,604.4 616,604.7 617,605.1 618,605.5 619,605.9 620,606.3 621,606.8 622,607.3 623,607.8 624,608.3 625,608.9 626,609.4 627,610 628,610.7 629,611.3 630,612 631,612.7 632,613.4 633,614.2 634,614.9 635,615.7 636,616.4 637,617.2 638,618 638.9,618.7 639.9,619.3 640.9,620 641.9,620.7 642.9,621.3 643.9,621.9 644.9,622.6 645.9,623.2 646.9,623.7 647.9,624.3 648.9,624.9 649.9,625.4 650.9,625.9 651.9,626.3 652.9,626.8 653.9,627.2 654.9,627.6 655.9,628 656.9,628.4 657.9,628.7 658.9,629 659.9,629.3 660.9,629.6 661.9,629.9 662.9,630.1 663.9,630.3 664.9,630.5 665.9,630.7 666.9,630.9 667.8,631.1 668.8,631.2 669.8,631.4 670.8,631.5 671.8,631.6 672.8,631.7 673.8,631.8 674.8,631.9 675.8,632 676.8,632.1 677.8,632.2 678.8,632.2 679.8,632.3 680.8,632.4 681.8,632.4 682.8,632.5 683.8,632.5 684.8,632.6 685.8,632.6 686.8,632.6 687.8,632.7 688.8,632.7 689.8,632.7 690.8,632.7 691.8,632.8 692.8,632.8 693.8,632.8 694.8,632.8 695.8,632.8 696.8,632.8 697.7,632.9 698.7,632.9 699.7,632.9 700.7,632.9 701.7,632.9 702.7,632.9 703.7,632.9 704.7,632.9 705.7,632.9 706.7,632.9 707.7,632.9 708.7,632.9 709.7,633 710.7,633 711.7,633 712.7,633 713.7,633 714.7,633 715.7,633 716.7,633 717.7,633 718.7,633 719.7,633 720.7,633 721.7,633 722.7,633 723.7,633 724.7,633 725.7,633 726.6,633 727.6,633 728.6,633 729.6,633" stroke="#111" stroke-width="2.0" fill="none" stroke-linejoin="round"/>
<polyline points="463.6,491.6 464.5,508.7 465.5,522.7 466.5,532.8 467.5,540.2 468.5,545.6 469.5,549.9 470.5,553.1 471.5,555.7 472.5,558 473.5,560 474.5,561.8 475.5,563.4 476.5,564.9 477.5,566.3 478.5,567.5 479.5,568.6 480.5,569.7 481.5,570.7 482.5,571.7 483.5,572.6 484.5,573.6 485.5,574.6 486.5,575.6 487.5,576.5 488.5,577.4 489.5,578.2 490.5,579 491.5,579.7 492.5,580.3 493.5,580.9 494.4,581.4 495.4,581.9 496.4,582.3 497.4,582.8 498.4,583.2 499.4,583.7 500.4,584.1 501.4,584.5 502.4,585 503.4,585.4 504.4,585.8 505.4,586.2 506.4,586.6 507.4,586.9 508.4,587.3 509.4,587.6 510.4,588 511.4,588.3 512.4,588.6 513.4,588.9 514.4,589.2 515.4,589.5 516.4,589.8 517.4,590.1 518.4,590.3 519.4,590.6 520.4,590.8 521.4,591.1 522.4,591.3 523.4,591.5 524.3,591.8 525.3,592 526.3,592.2 527.3,592.4 528.3,592.6 529.3,592.8 530.3,593 531.3,593.2 532.3,593.3 533.3,593.5 534.3,593.7 535.3,593.8 536.3,594 537.3,594.1 538.3,594.2 539.3,594.4 540.3,594.5 541.3,594.7 542.3,594.8 543.3,594.9 544.3,595.1 545.3,595.2 546.3,595.4 547.3,595.5 548.3,595.7 549.3,595.8 550.3,595.9 551.3,596.1 552.3,596.2 553.3,596.4 554.2,596.5 555.2,596.6 556.2,596.7 557.2,596.8 558.2,596.9 559.2,597 560.2,597.1 561.2,597.2 562.2,597.3 563.2,597.4 564.2,597.5 565.2,597.6 566.2,597.7 567.2,597.8 568.2,597.9 569.2,598 570.2,598.1 571.2,598.2 572.2,598.3 573.2,598.4 574.2,598.5 575.2,598.6 576.2,598.7 577.2,598.8 578.2,598.9 579.2,599 580.2,599.1 581.2,599.2 582.2,599.3 583.2,599.5 584.1,599.6 585.1,599.8 586.1,599.9 587.1,600.1 588.1,600.2 589.1,600.3 590.1,600.4 591.1,600.5 592.1,600.6 593.1,600.6 594.1,600.7 595.1,600.7 596.1,600.7 597.1,600.8 598.1,600.8 599.1,600.8 600.1,600.9 601.1,600.9 602.1,600.9 603.1,601 604.1,601 605.1,601 606.1,601.1 607.1,601.1 608.1,601.2 609.1,601.2 610.1,601.3 611.1,601.3 612.1,601.4 613.1,601.5 614,601.6 615,601.6 616,601.7 617,601.8 618,601.9 619,602 620,602.1 621,602.2 622,602.3 623,602.4 624,602.5 625,602.7 626,602.8 627,602.9 628,603.1 629,603.2 630,603.4 631,603.5 632,603.7 633,603.9 634,604.1 635,604.3 636,604.5 637,604.7 638,604.9 639,605.2 640,605.5 641,605.7 642,606 643,606.4 644,606.7 644.9,607 645.9,607.4 646.9,607.8 647.9,608.3 648.9,608.7 649.9,609.2 650.9,609.7 651.9,610.2 652.9,610.7 653.9,611.3 654.9,611.9 655.9,612.5 656.9,613.1 657.9,613.7 658.9,614.4 659.9,615 660.9,615.7 661.9,616.4 662.9,617.1 663.9,617.8 664.9,618.5 665.9,619.2 666.9,619.8 667.9,620.4 668.9,621 669.9,621.6 670.9,622.1 671.9,622.7 672.9,623.2 673.9,623.7 674.8,624.3 675.8,624.7 676.8,625.2 677.8,625.7 678.8,626.1 679.8,626.5 680.8,626.9 681.8,627.3 682.8,627.7 683.8,628 684.8,628.4 685.8,628.7 686.8,629 687.8,629.2 688.8,629.5 689.8,629.7 690.8,630 691.8,630.2 692.8,630.4 693.8,630.6 694.8,630.8 695.8,630.9 696.8,631.1 697.8,631.2 698.8,631.4 699.8,631.5 700.8,631.6 701.8,631.7 702.8,631.8 703.8,631.9 704.7,632 705.7,632.1 706.7,632.1 707.7,632.2 708.7,632.3 709.7,632.3 710.7,632.4 711.7,632.4 712.7,632.5 713.7,632.5 714.7,632.5 715.7,632.6 716.7,632.6 717.7,632.6 718.7,632.7 719.7,632.7 720.7,632.7 721.7,632.7 722.7,632.8 723.7,632.8 724.7,632.8 725.7,632.8 726.7,632.8 727.7,632.8 728.7,632.9 729.7,632.9 730.7,632.9 731.7,632.9 732.7,632.9 733.7,632.9 734.6,632.9 735.6,632.9 736.6,632.9 737.6,632.9 738.6,632.9 739.6,632.9 740.6,632.9 741.6,632.9 742.6,633 743.6,633 744.6,633 745.6,633 746.6,633 747.6,633 748.6,633 749.6,633 750.6,633 751.6,633 752.6,633 753.6,633 754.6,633 755.6,633 756.6,633 757.6,633 758.6,633 759.6,633 760.6,633 761.6,633 762.6,633 763.6,633" stroke="#111" stroke-width="2.0" fill="none" stroke-linejoin="round"/>
<polyline points="463.6,491.6 464.5,508.6 465.5,522.6 466.5,532.7 467.5,540.1 468.5,545.6 469.5,549.8 470.5,553.1 471.5,555.7 472.5,557.9 473.5,559.9 474.5,561.7 475.5,563.4 476.5,564.9 477.5,566.2 478.5,567.4 479.5,568.6 480.4,569.6 481.4,570.6 482.4,571.6 483.4,572.6 484.4,573.6 485.4,574.6 486.4,575.5 487.4,576.4 488.4,577.3 489.4,578.2 490.4,578.9 491.4,579.6 492.4,580.3 493.4,580.8 494.4,581.3 495.4,581.8 496.3,582.3 497.3,582.7 498.3,583.2 499.3,583.6 500.3,584 501.3,584.5 502.3,584.9 503.3,585.3 504.3,585.7 505.3,586.1 506.3,586.5 507.3,586.9 508.3,587.2 509.3,587.6 510.3,587.9 511.3,588.2 512.3,588.6 513.2,588.9 514.2,589.2 515.2,589.5 516.2,589.7 517.2,590 518.2,590.3 519.2,590.5 520.2,590.8 521.2,591 522.2,591.3 523.2,591.5 524.2,591.7 525.2,592 526.2,592.2 527.2,592.4 528.2,592.6 529.1,592.8 530.1,593 531.1,593.1 532.1,593.3 533.1,593.5 534.1,593.6 535.1,593.8 536.1,593.9 537.1,594.1 538.1,594.2 539.1,594.3 540.1,594.5 541.1,594.6 542.1,594.8 543.1,594.9 544.1,595 545.1,595.2 546,595.3 547,595.5 548,595.6 549,595.8 550,595.9 551,596 552,596.2 553,596.3 554,596.4 555,596.6 556,596.7 557,596.8 558,596.9 559,597 560,597.1 561,597.2 561.9,597.3 562.9,597.4 563.9,597.5 564.9,597.6 565.9,597.7 566.9,597.8 567.9,597.9 568.9,598 569.9,598.1 570.9,598.2 571.9,598.2 572.9,598.3 573.9,598.4 574.9,598.5 575.9,598.6 576.9,598.7 577.9,598.8 578.8,598.9 579.8,599 580.8,599.2 581.8,599.3 582.8,599.4 583.8,599.6 584.8,599.7 585.8,599.9 586.8,600 587.8,600.2 588.8,600.3 589.8,600.4 590.8,600.4 591.8,600.5 592.8,600.6 593.8,600.6 594.7,600.6 595.7,600.7 596.7,600.7 597.7,600.7 598.7,600.8 599.7,600.8 600.7,600.8 601.7,600.8 602.7,600.9 603.7,600.9 604.7,600.9 605.7,601 606.7,601 607.7,601 608.7,601.1 609.7,601.1 610.7,601.1 611.6,601.2 612.6,601.2 613.6,601.3 614.6,601.3 615.6,601.4 616.6,601.5 617.6,601.5 618.6,601.6 619.6,601.6 620.6,601.7 621.6,601.8 622.6,601.8 623.6,601.9 624.6,602 625.6,602.1 626.6,602.1 627.5,602.2 628.5,602.3 629.5,602.3 630.5,602.4 631.5,602.5 632.5,602.5 633.5,602.6 634.5,602.7 635.5,602.8 636.5,602.8 637.5,602.9 638.5,603 639.5,603.1 640.5,603.1 641.5,603.2 642.5,603.3 643.5,603.4 644.4,603.5 645.4,603.6 646.4,603.7 647.4,603.8 648.4,603.9 649.4,604.1 650.4,604.2 651.4,604.3 652.4,604.5 653.4,604.6 654.4,604.8 655.4,605 656.4,605.1 657.4,605.3 658.4,605.5 659.4,605.7 660.3,605.9 661.3,606.2 662.3,606.4 663.3,606.7 664.3,606.9 665.3,607.2 666.3,607.5 667.3,607.9 668.3,608.2 669.3,608.5 670.3,608.9 671.3,609.2 672.3,609.6 673.3,610 674.3,610.4 675.3,610.8 676.2,611.2 677.2,611.7 678.2,612.2 679.2,612.7 680.2,613.2 681.2,613.7 682.2,614.2 683.2,614.8 684.2,615.4 685.2,616 686.2,616.6 687.2,617.2 688.2,617.8 689.2,618.4 690.2,619.1 691.2,619.7 692.2,620.2 693.1,620.8 694.1,621.3 695.1,621.9 696.1,622.4 697.1,622.9 698.1,623.5 699.1,624 700.1,624.5 701.1,624.9 702.1,625.4 703.1,625.8 704.1,626.2 705.1,626.6 706.1,627 707.1,627.4 708.1,627.8 709,628.1 710,628.4 711,628.7 712,629 713,629.3 714,629.5 715,629.8 716,630 717,630.2 718,630.4 719,630.6 720,630.8 721,630.9 722,631.1 723,631.2 724,631.3 725,631.5 725.9,631.6 726.9,631.7 727.9,631.8 728.9,631.9 729.9,632 730.9,632 731.9,632.1 732.9,632.2 733.9,632.2 734.9,632.3 735.9,632.3 736.9,632.4 737.9,632.4 738.9,632.5 739.9,632.5 740.9,632.6 741.8,632.6 742.8,632.6 743.8,632.7 744.8,632.7 745.8,632.7 746.8,632.7 747.8,632.7 748.8,632.8 749.8,632.8 750.8,632.8 751.8,632.8 752.8,632.8 753.8,632.8 754.8,632.9 755.8,632.9 756.8,632.9 757.8,632.9 758.7,632.9 759.7,632.9 760.7,632.9 761.7,632.9 762.7,632.9 763.7,632.9 764.7,632.9 765.7,632.9 766.7,632.9 767.7,632.9 768.7,633 769.7,633 770.7,633 771.7,633 772.7,633 773.7,633 774.6,633 775.6,633 776.6,633 777.6,633 778.6,633 779.6,633 780.6,633 781.6,633 782.6,633" stroke="#111" stroke-width="2.0" fill="none" stroke-linejoin="round"/>
<polyline points="463.6,491.6 464.5,508.6 465.5,522.6 466.5,532.7 467.5,540.1 468.5,545.6 469.5,549.8 470.5,553.1 471.5,555.7 472.5,557.9 473.5,559.9 474.5,561.7 475.5,563.4 476.5,564.9 477.5,566.2 478.5,567.4 479.5,568.6 480.4,569.6 481.4,570.6 482.4,571.6 483.4,572.6 484.4,573.6 485.4,574.6 486.4,575.5 487.4,576.4 488.4,577.3 489.4,578.2 490.4,578.9 491.4,579.6 492.4,580.3 493.4,580.8 494.4,581.3 495.4,581.8 496.3,582.3 497.3,582.7 498.3,583.2 499.3,583.6 500.3,584 501.3,584.5 502.3,584.9 503.3,585.3 504.3,585.7 505.3,586.1 506.3,586.5 507.3,586.9 508.3,587.2 509.3,587.6 510.3,587.9 511.3,588.2 512.3,588.6 513.2,588.9 514.2,589.2 515.2,589.5 516.2,589.7 517.2,590 518.2,590.3 519.2,590.5 520.2,590.8 521.2,591 522.2,591.3 523.2,591.5 524.2,591.7 525.2,592 526.2,592.2 527.2,592.4 528.2,592.6 529.1,592.8 530.1,593 531.1,593.1 532.1,593.3 533.1,593.5 534.1,593.6 535.1,593.8 536.1,593.9 537.1,594.1 538.1,594.2 539.1,594.3 540.1,594.5 541.1,594.6 542.1,594.8 543.1,594.9 544.1,595 545.1,595.2 546,595.3 547,595.5 548,595.6 549,595.8 550,595.9 551,596 552,596.2 553,596.3 554,596.4 555,596.6 556,596.7 557,596.8 558,596.9 559,597 560,597.1 561,597.2 561.9,597.3 562.9,597.4 563.9,597.5 564.9,597.6 565.9,597.7 566.9,597.8 567.9,597.9 568.9,598 569.9,598.1 570.9,598.2 571.9,598.2 572.9,598.3 573.9,598.4 574.9,598.5 575.9,598.6 576.9,598.7 577.9,598.8 578.8,598.9 579.8,599 580.8,599.2 581.8,599.3 582.8,599.4 583.8,599.6 584.8,599.7 585.8,599.9 586.8,600 587.8,600.1 588.8,600.3 589.8,600.4 590.8,600.4 591.8,600.5 592.8,600.5 593.8,600.6 594.7,600.6 595.7,600.7 596.7,600.7 597.7,600.7 598.7,600.8 599.7,600.8 600.7,600.8 601.7,600.8 602.7,600.9 603.7,600.9 604.7,600.9 605.7,600.9 606.7,601 607.7,601 608.7,601 609.7,601.1 610.7,601.1 611.6,601.2 612.6,601.2 613.6,601.3 614.6,601.3 615.6,601.4 616.6,601.4 617.6,601.5 618.6,601.5 619.6,601.6 620.6,601.7 621.6,601.7 622.6,601.8 623.6,601.8 624.6,601.9 625.6,602 626.6,602 627.5,602.1 628.5,602.2 629.5,602.2 630.5,602.3 631.5,602.3 632.5,602.4 633.5,602.4 634.5,602.5 635.5,602.6 636.5,602.6 637.5,602.7 638.5,602.7 639.5,602.8 640.5,602.8 641.5,602.9 642.5,603 643.5,603 644.4,603.1 645.4,603.1 646.4,603.2 647.4,603.3 648.4,603.3 649.4,603.4 650.4,603.5 651.4,603.6 652.4,603.6 653.4,603.7 654.4,603.8 655.4,603.9 656.4,604 657.4,604.1 658.4,604.1 659.4,604.2 660.3,604.3 661.3,604.4 662.3,604.5 663.3,604.6 664.3,604.7 665.3,604.8 666.3,605 667.3,605.1 668.3,605.2 669.3,605.3 670.3,605.4 671.3,605.5 672.3,605.6 673.3,605.6 674.3,605.7 675.3,605.8 676.2,605.9 677.2,606 678.2,606.1 679.2,606.2 680.2,606.3 681.2,606.4 682.2,606.6 683.2,606.7 684.2,606.8 685.2,607 686.2,607.1 687.2,607.3 688.2,607.5 689.2,607.7 690.2,607.9 691.2,608.1 692.2,608.3 693.1,608.6 694.1,608.8 695.1,609.1 696.1,609.4 697.1,609.7 698.1,610.1 699.1,610.4 700.1,610.8 701.1,611.1 702.1,611.5 703.1,612 704.1,612.4 705.1,612.9 706.1,613.3 707.1,613.8 708.1,614.3 709,614.9 710,615.4 711,615.9 712,616.5 713,617.1 714,617.7 715,618.3 716,618.9 717,619.4 718,620 719,620.6 720,621.1 721,621.6 722,622.1 723,622.6 724,623.1 725,623.6 725.9,624.1 726.9,624.6 727.9,625 728.9,625.4 729.9,625.9 730.9,626.3 731.9,626.7 732.9,627 733.9,627.4 734.9,627.7 735.9,628.1 736.9,628.4 737.9,628.7 738.9,629 739.9,629.2 740.9,629.5 741.8,629.7 742.8,629.9 743.8,630.1 744.8,630.3 745.8,630.5 746.8,630.7 747.8,630.9 748.8,631 749.8,631.1 750.8,631.3 751.8,631.4 752.8,631.5 753.8,631.6 754.8,631.7 755.8,631.8 756.8,631.9 757.8,632 758.7,632.1 759.7,632.1 760.7,632.2 761.7,632.3 762.7,632.3 763.7,632.4 764.7,632.4 765.7,632.5 766.7,632.5 767.7,632.5 768.7,632.6 769.7,632.6 770.7,632.6 771.7,632.7 772.7,632.7 773.7,632.7 774.6,632.7 775.6,632.8 776.6,632.8 777.6,632.8 778.6,632.8 779.6,632.8 780.6,632.8 781.6,632.8 782.6,632.9" stroke="#111" stroke-width="2.0" fill="none" stroke-linejoin="round"/></g>
<line x1="463.6" y1="632.6" x2="782.6" y2="632.6" stroke="#111" stroke-width="2"/>
<rect x="463.6" y="381.6" width="319.1" height="251.4" fill="none" stroke="#111" stroke-width="1.2"/>
<path d="M463.6 601.6h3.2M782.6 601.6h-3.2M463.6 570.1h3.2M782.6 570.1h-3.2M463.6 538.7h3.2M782.6 538.7h-3.2M463.6 507.3h3.2M782.6 507.3h-3.2M463.6 475.8h3.2M782.6 475.8h-3.2M463.6 444.4h3.2M782.6 444.4h-3.2M463.6 413h3.2M782.6 413h-3.2M527.4 633v-3.2M527.4 381.6v3.2M591.2 633v-3.2M591.2 381.6v3.2M655 633v-3.2M655 381.6v3.2M718.8 633v-3.2M718.8 381.6v3.2" stroke="#222" stroke-width="1.1" fill="none"/>
<g font-family='"Liberation Sans", Arial, Helvetica, sans-serif' font-size="14.4" fill="#111"><text x="456.95" y="637.05" text-anchor="end">0</text><text x="456.95" y="605.62" text-anchor="end">0.2</text><text x="456.95" y="574.19" text-anchor="end">0.4</text><text x="456.95" y="542.76" text-anchor="end">0.6</text><text x="456.95" y="511.32" text-anchor="end">0.8</text><text x="456.95" y="479.89" text-anchor="end">1</text><text x="456.95" y="448.46" text-anchor="end">1.2</text><text x="456.95" y="417.03" text-anchor="end">1.4</text><text x="456.95" y="385.6" text-anchor="end">1.6</text><text x="463.55" y="647.35" text-anchor="middle">0</text><text x="528.46" y="647.35" text-anchor="middle">0.2</text><text x="592.27" y="647.35" text-anchor="middle">0.4</text><text x="656.08" y="647.35" text-anchor="middle">0.6</text><text x="719.89" y="647.35" text-anchor="middle">0.8</text><text x="782.6" y="647.35" text-anchor="middle">1</text></g>
<g fill="#fff"><rect x="449.81" y="478.74" width="2.40" height="2.35"/><rect x="454.17" y="478.74" width="3.41" height="2.35"/><rect x="437.80" y="447.31" width="2.40" height="2.35"/><rect x="442.16" y="447.31" width="3.41" height="2.35"/><rect x="437.80" y="415.88" width="2.40" height="2.35"/><rect x="442.16" y="415.88" width="3.41" height="2.35"/><rect x="437.80" y="384.45" width="2.40" height="2.35"/><rect x="442.16" y="384.45" width="3.41" height="2.35"/><rect x="779.46" y="646.20" width="2.40" height="2.35"/><rect x="783.83" y="646.20" width="3.41" height="2.35"/></g>
<line x1="484.2" y1="477.5" x2="559.7" y2="477.5" stroke="#333" stroke-width="1.3"/>
<path d="M565.7 477.5L554.3 473.4L557.7 477.5L554.3 481.6Z" fill="#111"/>
<text x="518" y="470.9" text-anchor="middle" font-family='"Liberation Sans", Arial, Helvetica, sans-serif' font-size="14.2" fill="#111">t</text>
<text x="630.2" y="670.1" text-anchor="middle" font-family='"Liberation Sans", Arial, Helvetica, sans-serif' font-size="17.45" fill="#111">Distance from limbus x</text>
<text transform="translate(423.6 504.9) rotate(-90)" text-anchor="middle" font-family='"Liberation Sans", Arial, Helvetica, sans-serif' font-size="17.45" fill="#111">E(x,t)</text>
<text transform="translate(106.50 330.39) scale(0.864 1)" font-family='"Liberation Serif", "Times New Roman", serif' font-size="21.17" font-weight="bold" stroke="#111" stroke-width="0.35" fill="#111">(</text>
<text transform="translate(113.04 330.70) scale(1.014 1)" font-family='"Liberation Serif", "Times New Roman", serif' font-size="20.46" font-weight="bold" stroke="#111" stroke-width="0.35" fill="#111">a</text>
<text transform="translate(124.69 330.39) scale(0.901 1)" font-family='"Liberation Serif", "Times New Roman", serif' font-size="21.17" font-weight="bold" stroke="#111" stroke-width="0.35" fill="#111">)</text>
<text transform="translate(138.23 330.60) scale(1.216 1)" font-family='"Liberation Serif", "Times New Roman", serif' font-size="20.76" font-style="italic" fill="#111">P</text>
<text transform="translate(152.47 333.03) scale(1.182 1)" font-family='"Liberation Serif", "Times New Roman", serif' font-size="15.35" font-style="italic" fill="#111">p</text>
<text transform="translate(168.76 332.61) scale(1.478 1)" font-family='"Liberation Serif", "Times New Roman", serif' font-size="20.80"  fill="#111">=</text>
<text transform="translate(192.48 330.70) scale(1.029 1)" font-family='"Liberation Serif", "Times New Roman", serif' font-size="20.15"  fill="#111">1</text>
<text transform="translate(202.80 331.19) scale(1.113 1)" font-family='"Liberation Serif", "Times New Roman", serif' font-size="21.19"  fill="#111">0</text>
<text transform="translate(242.69 331.18) scale(0.796 1)" font-family='"Liberation Serif", "Times New Roman", serif' font-size="20.23"  fill="#111">,</text>
<text transform="translate(230.03 323.45) scale(1.245 1)" font-family='"Liberation Serif", "Times New Roman", serif' font-size="14.58"  fill="#111">3</text>
<text transform="translate(251.34 330.30) scale(1.303 1)" font-family='"Liberation Serif", "Times New Roman", serif' font-size="19.54" font-style="italic" fill="#111">a</text>
<text transform="translate(263.26 333.20) scale(1.683 1)" font-family='"Liberation Serif", "Times New Roman", serif' font-size="13.80" font-style="italic" fill="#111">n</text>
<text transform="translate(282.79 332.14) scale(1.505 1)" font-family='"Liberation Serif", "Times New Roman", serif' font-size="20.00"  fill="#111">=</text>
<text transform="translate(306.08 331.09) scale(1.046 1)" font-family='"Liberation Serif", "Times New Roman", serif' font-size="20.74"  fill="#111">0</text>
<text transform="translate(215.42 326.24) scale(1.183 1)" font-family='"Liberation Serif", "Times New Roman", serif' font-size="20.00"  fill="#111">−</text>
<text transform="translate(502.70 330.39) scale(0.864 1)" font-family='"Liberation Serif", "Times New Roman", serif' font-size="21.17" font-weight="bold" stroke="#111" stroke-width="0.35" fill="#111">(</text>
<text transform="translate(509.43 330.99) scale(0.961 1)" font-family='"Liberation Serif", "Times New Roman", serif' font-size="21.31" font-weight="bold" stroke="#111" stroke-width="0.35" fill="#111">b</text>
<text transform="translate(521.64 330.39) scale(0.827 1)" font-family='"Liberation Serif", "Times New Roman", serif' font-size="21.17" font-weight="bold" stroke="#111" stroke-width="0.35" fill="#111">)</text>
<text transform="translate(534.43 330.60) scale(1.216 1)" font-family='"Liberation Serif", "Times New Roman", serif' font-size="20.76" font-style="italic" fill="#111">P</text>
<text transform="translate(548.67 333.03) scale(1.182 1)" font-family='"Liberation Serif", "Times New Roman", serif' font-size="15.35" font-style="italic" fill="#111">p</text>
<text transform="translate(564.96 332.61) scale(1.478 1)" font-family='"Liberation Serif", "Times New Roman", serif' font-size="20.80"  fill="#111">=</text>
<text transform="translate(588.67 330.70) scale(1.029 1)" font-family='"Liberation Serif", "Times New Roman", serif' font-size="20.15"  fill="#111">1</text>
<text transform="translate(599.00 331.19) scale(1.113 1)" font-family='"Liberation Serif", "Times New Roman", serif' font-size="21.19"  fill="#111">0</text>
<text transform="translate(638.89 331.18) scale(0.796 1)" font-family='"Liberation Serif", "Times New Roman", serif' font-size="20.23"  fill="#111">,</text>
<text transform="translate(626.23 323.45) scale(1.245 1)" font-family='"Liberation Serif", "Times New Roman", serif' font-size="14.58"  fill="#111">3</text>
<text transform="translate(647.54 330.30) scale(1.303 1)" font-family='"Liberation Serif", "Times New Roman", serif' font-size="19.54" font-style="italic" fill="#111">a</text>
<text transform="translate(659.46 333.20) scale(1.683 1)" font-family='"Liberation Serif", "Times New Roman", serif' font-size="13.80" font-style="italic" fill="#111">n</text>
<text transform="translate(678.99 332.14) scale(1.505 1)" font-family='"Liberation Serif", "Times New Roman", serif' font-size="20.00"  fill="#111">=</text>
<text transform="translate(702.28 331.09) scale(1.046 1)" font-family='"Liberation Serif", "Times New Roman", serif' font-size="20.74"  fill="#111">0</text>
<text transform="translate(611.62 326.24) scale(1.183 1)" font-family='"Liberation Serif", "Times New Roman", serif' font-size="20.00"  fill="#111">−</text>
<text transform="translate(106.70 703.49) scale(0.864 1)" font-family='"Liberation Serif", "Times New Roman", serif' font-size="21.17" font-weight="bold" stroke="#111" stroke-width="0.35" fill="#111">(</text>
<text transform="translate(113.97 704.12) scale(1.208 1)" font-family='"Liberation Serif", "Times New Roman", serif' font-size="20.21" font-weight="bold" stroke="#111" stroke-width="0.35" fill="#111">c</text>
<text transform="translate(125.34 703.49) scale(0.827 1)" font-family='"Liberation Serif", "Times New Roman", serif' font-size="21.17" font-weight="bold" stroke="#111" stroke-width="0.35" fill="#111">)</text>
<text transform="translate(137.73 703.70) scale(1.216 1)" font-family='"Liberation Serif", "Times New Roman", serif' font-size="20.76" font-style="italic" fill="#111">P</text>
<text transform="translate(151.97 706.13) scale(1.182 1)" font-family='"Liberation Serif", "Times New Roman", serif' font-size="15.35" font-style="italic" fill="#111">p</text>
<text transform="translate(168.26 705.71) scale(1.478 1)" font-family='"Liberation Serif", "Times New Roman", serif' font-size="20.80"  fill="#111">=</text>
<text transform="translate(191.98 703.80) scale(1.029 1)" font-family='"Liberation Serif", "Times New Roman", serif' font-size="20.15"  fill="#111">1</text>
<text transform="translate(202.30 704.29) scale(1.113 1)" font-family='"Liberation Serif", "Times New Roman", serif' font-size="21.19"  fill="#111">0</text>
<text transform="translate(242.19 704.28) scale(0.796 1)" font-family='"Liberation Serif", "Times New Roman", serif' font-size="20.23"  fill="#111">,</text>
<text transform="translate(229.53 696.55) scale(1.245 1)" font-family='"Liberation Serif", "Times New Roman", serif' font-size="14.58"  fill="#111">3</text>
<text transform="translate(250.84 703.40) scale(1.303 1)" font-family='"Liberation Serif", "Times New Roman", serif' font-size="19.54" font-style="italic" fill="#111">a</text>
<text transform="translate(262.76 706.30) scale(1.683 1)" font-family='"Liberation Serif", "Times New Roman", serif' font-size="13.80" font-style="italic" fill="#111">n</text>
<text transform="translate(282.29 705.24) scale(1.505 1)" font-family='"Liberation Serif", "Times New Roman", serif' font-size="20.00"  fill="#111">=</text>
<text transform="translate(305.18 703.80) scale(1.029 1)" font-family='"Liberation Serif", "Times New Roman", serif' font-size="20.15"  fill="#111">1</text>
<text transform="translate(214.92 699.34) scale(1.183 1)" font-family='"Liberation Serif", "Times New Roman", serif' font-size="20.00"  fill="#111">−</text>
<text transform="translate(502.90 703.49) scale(0.864 1)" font-family='"Liberation Serif", "Times New Roman", serif' font-size="21.17" font-weight="bold" stroke="#111" stroke-width="0.35" fill="#111">(</text>
<text transform="translate(509.02 704.09) scale(1.006 1)" font-family='"Liberation Serif", "Times New Roman", serif' font-size="21.31" font-weight="bold" stroke="#111" stroke-width="0.35" fill="#111">d</text>
<text transform="translate(522.24 703.49) scale(0.827 1)" font-family='"Liberation Serif", "Times New Roman", serif' font-size="21.17" font-weight="bold" stroke="#111" stroke-width="0.35" fill="#111">)</text>
<text transform="translate(540.73 703.70) scale(1.216 1)" font-family='"Liberation Serif", "Times New Roman", serif' font-size="20.76" font-style="italic" fill="#111">P</text>
<text transform="translate(554.97 706.13) scale(1.182 1)" font-family='"Liberation Serif", "Times New Roman", serif' font-size="15.35" font-style="italic" fill="#111">p</text>
<text transform="translate(571.26 705.71) scale(1.478 1)" font-family='"Liberation Serif", "Times New Roman", serif' font-size="20.80"  fill="#111">=</text>
<text transform="translate(594.97 703.80) scale(1.029 1)" font-family='"Liberation Serif", "Times New Roman", serif' font-size="20.15"  fill="#111">1</text>
<text transform="translate(605.30 704.29) scale(1.113 1)" font-family='"Liberation Serif", "Times New Roman", serif' font-size="21.19"  fill="#111">0</text>
<text transform="translate(645.19 704.28) scale(0.796 1)" font-family='"Liberation Serif", "Times New Roman", serif' font-size="20.23"  fill="#111">,</text>
<text transform="translate(632.53 696.55) scale(1.245 1)" font-family='"Liberation Serif", "Times New Roman", serif' font-size="14.58"  fill="#111">3</text>
<text transform="translate(653.84 703.40) scale(1.303 1)" font-family='"Liberation Serif", "Times New Roman", serif' font-size="19.54" font-style="italic" fill="#111">a</text>
<text transform="translate(665.76 706.30) scale(1.683 1)" font-family='"Liberation Serif", "Times New Roman", serif' font-size="13.80" font-style="italic" fill="#111">n</text>
<text transform="translate(685.29 705.24) scale(1.505 1)" font-family='"Liberation Serif", "Times New Roman", serif' font-size="20.00"  fill="#111">=</text>
<text transform="translate(708.17 703.80) scale(1.029 1)" font-family='"Liberation Serif", "Times New Roman", serif' font-size="20.15"  fill="#111">1</text>
<text transform="translate(617.92 699.34) scale(1.183 1)" font-family='"Liberation Serif", "Times New Roman", serif' font-size="20.00"  fill="#111">−</text>
</svg></body></html>
